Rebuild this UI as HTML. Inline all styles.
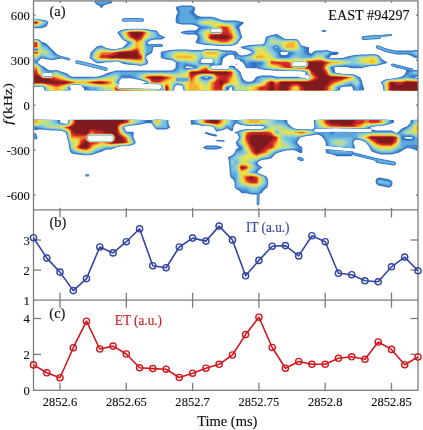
<!DOCTYPE html>
<html><head><meta charset="utf-8"><style>
html,body{margin:0;padding:0;background:#fff;width:423px;height:430px;overflow:hidden;font-family:"Liberation Serif",serif;}
svg{display:block;filter:blur(0.45px)}
</style></head><body>
<svg width="423" height="430" viewBox="0 0 423 430"><g><path fill="#326ec6" fill-rule="evenodd" d="M101.8 8.0 101.5 8.3 100.8 7.7 99.8 6.2 98.8 5.4 96.5 4.4 95.5 3.6 94.6 2.3 94.6 0.7 96.5 0.5 112.3 0.7 112.3 2.3 111.5 3.3 106.5 4.4 104.8 5.0 103.4 6.0 101.8 8.0ZM231.5 45.7 221.5 45.9 213.2 45.5 204.2 44.7 197.5 43.6 196.5 43.3 195.8 42.7 195.7 42.3 196.5 40.0 197.7 37.7 197.7 37.3 196.5 35.0 195.4 34.7 193.5 34.5 186.5 34.4 181.5 33.3 180.8 32.7 180.8 32.3 181.5 31.7 186.5 30.6 192.5 30.6 195.8 30.2 196.5 30.0 197.5 28.7 198.8 27.7 198.6 27.3 195.2 25.5 191.8 24.4 181.5 24.4 176.5 23.3 175.7 22.3 175.7 17.7 176.4 15.3 177.4 13.3 177.7 12.3 176.4 9.7 175.7 7.7 175.8 7.3 176.5 6.7 181.5 5.6 191.5 5.6 193.5 6.4 195.0 7.3 195.2 7.7 195.1 8.7 194.7 10.7 194.1 12.3 194.2 12.7 196.8 15.3 198.5 16.1 201.5 16.7 211.5 16.7 216.5 18.1 221.5 20.0 226.5 20.6 236.5 20.6 240.5 21.4 243.6 22.3 243.9 22.7 243.2 23.8 241.5 25.0 239.2 27.3 239.2 27.7 239.8 28.7 240.2 29.7 240.7 32.7 242.2 37.0 242.2 37.7 239.8 40.3 237.5 43.8 234.8 45.0 231.5 45.7ZM142.8 21.7 132.8 21.6 123.5 21.8 122.8 21.6 122.2 21.1 121.8 20.0 122.2 18.9 122.8 18.4 123.5 18.2 132.8 18.1 142.5 18.2 143.2 18.4 143.8 18.9 144.2 20.0 143.8 21.1 142.8 21.7ZM41.5 28.3 34.2 28.3 33.9 22.7 34.2 18.8 38.2 18.9 44.8 20.2 46.5 20.6 48.0 22.0 48.3 22.7 48.2 23.1 47.3 25.0 46.5 26.2 44.2 27.4 41.5 28.3ZM141.5 65.7 132.2 65.1 125.2 64.2 121.5 63.3 120.2 62.3 116.5 61.2 111.5 62.2 105.8 62.2 103.6 62.7 101.5 63.3 96.5 63.3 95.4 62.3 90.8 58.9 89.7 57.7 89.7 57.3 90.3 54.0 90.8 52.3 96.2 47.0 96.5 46.7 98.8 46.1 101.5 45.6 103.5 46.4 105.7 47.7 111.5 49.1 116.5 48.9 121.8 47.7 122.9 47.3 127.6 42.7 127.3 42.3 124.2 40.7 122.4 39.3 120.6 37.3 117.4 32.7 117.5 32.3 118.5 31.4 120.8 30.2 123.8 29.5 127.5 29.0 131.5 28.8 141.5 28.8 146.8 29.1 151.5 30.0 156.5 30.6 157.8 31.8 158.9 33.7 159.8 34.7 160.8 35.3 164.2 36.8 165.0 37.3 165.0 37.7 163.5 38.6 161.5 39.4 156.5 39.4 151.5 40.0 148.8 41.4 147.5 42.3 147.4 42.7 148.1 43.7 148.8 44.4 150.2 44.0 161.8 44.0 162.7 44.7 163.0 45.3 162.9 46.0 162.4 46.7 161.5 47.0 153.2 47.0 153.3 47.7 153.2 48.3 152.6 51.3 152.2 52.7 151.5 53.3 148.2 55.0 146.5 56.3 146.2 57.3 146.3 58.0 146.5 58.8 147.8 61.0 148.3 62.3 148.3 62.7 147.5 63.6 146.5 64.4 144.5 65.1 141.5 65.7ZM220.3 32.3 220.8 31.9 221.2 31.4 221.3 30.3 220.8 29.5 219.8 28.9 212.2 28.9 211.2 29.5 210.7 30.3 210.7 31.0 211.0 31.7 211.5 32.2 212.2 32.5 219.5 32.5 220.3 32.3ZM325.5 31.9 324.8 32.0 322.2 31.7 321.5 31.0 321.6 30.3 321.9 30.0 322.5 29.8 325.5 30.1 325.8 30.5 326.0 31.0 325.8 31.5 325.5 31.9ZM363.8 90.3 356.5 90.5 352.8 90.3 352.8 87.7 351.5 86.2 341.5 87.0 340.2 87.7 340.2 90.3 337.5 90.4 321.5 90.6 234.8 90.5 232.1 90.3 232.1 87.7 231.5 87.0 229.0 87.7 229.0 90.3 221.5 90.6 186.2 90.5 183.3 90.3 183.2 87.3 182.5 86.3 181.5 85.4 176.5 85.0 175.4 86.0 174.5 87.3 174.4 90.3 170.8 90.5 163.5 90.5 161.8 90.3 161.8 87.7 161.5 87.0 161.3 86.0 160.8 85.0 159.8 84.3 159.2 84.2 144.5 83.9 142.0 83.7 146.5 82.8 146.7 82.7 146.7 82.3 141.5 80.4 131.5 78.3 121.5 78.3 119.8 80.3 118.5 82.3 118.7 82.7 120.2 83.3 118.8 83.7 117.9 84.7 117.6 86.0 117.9 87.0 118.8 87.9 119.8 88.2 158.8 89.0 160.2 88.7 161.1 88.0 161.2 87.7 161.2 90.3 158.2 90.6 120.8 90.6 84.0 90.3 84.0 87.7 82.2 87.2 82.0 87.0 81.7 85.7 80.8 84.9 80.2 84.7 72.5 84.7 70.8 84.8 70.2 85.2 69.7 86.0 69.6 86.7 69.7 87.3 70.6 88.3 70.7 90.3 56.5 90.6 46.5 90.5 44.0 90.3 44.3 89.0 44.0 87.7 42.8 86.8 41.5 86.2 38.8 86.7 35.8 86.7 34.2 87.2 33.9 82.3 33.9 52.3 34.1 50.3 33.9 42.7 34.1 39.3 34.2 38.9 36.5 38.9 38.5 39.4 40.3 40.3 41.5 41.7 43.6 42.3 46.5 43.8 56.0 53.3 58.2 55.0 62.5 56.3 69.2 58.1 70.1 58.7 70.2 59.3 70.0 60.0 69.5 60.4 68.8 60.5 61.2 58.6 56.2 59.4 51.5 60.0 45.8 59.3 41.5 58.3 38.5 61.0 37.5 62.3 37.6 62.7 41.5 65.6 43.3 66.3 44.8 67.2 47.2 69.2 49.0 70.0 51.5 70.6 56.5 70.0 58.8 70.6 61.5 71.7 66.5 73.3 71.5 76.7 96.5 76.7 101.5 75.6 104.2 74.6 106.5 73.3 110.8 71.9 116.5 70.6 171.5 70.6 172.4 70.3 174.2 69.3 175.6 67.7 175.7 62.7 175.4 62.3 171.5 60.0 166.5 59.4 162.5 58.6 161.5 58.3 160.7 57.3 160.7 52.7 160.8 52.3 161.5 51.7 167.2 50.5 176.5 49.6 186.5 49.6 191.5 50.0 201.5 50.0 206.5 49.1 216.5 49.1 221.5 50.0 226.5 50.6 231.5 50.6 236.2 51.6 236.9 52.0 238.1 53.7 238.8 54.4 239.8 55.0 241.5 55.6 246.5 55.0 251.5 53.1 252.0 52.7 252.0 52.3 251.5 51.7 250.9 51.3 247.5 49.7 246.5 49.4 241.5 48.3 240.8 47.7 240.8 47.3 241.5 46.7 245.5 45.8 250.5 45.1 256.5 44.6 261.8 44.5 263.4 43.7 264.5 42.7 265.6 37.7 266.5 36.7 269.5 35.5 274.5 34.5 276.5 33.8 278.7 35.3 281.5 36.7 283.2 38.1 285.5 39.0 286.5 39.3 291.5 39.1 296.5 39.3 297.5 39.7 298.9 41.0 300.4 44.0 301.5 45.6 306.5 46.7 308.6 47.3 309.0 47.7 309.0 52.3 309.5 52.8 311.5 53.8 313.5 51.6 315.2 50.9 316.5 50.6 321.5 50.6 326.5 50.0 329.2 50.7 331.5 51.7 336.5 51.7 338.6 52.3 338.9 52.7 337.9 54.0 336.5 55.0 331.5 55.0 330.5 56.3 329.2 57.3 330.0 57.7 331.5 57.9 341.5 58.0 343.3 57.7 345.5 56.9 350.5 55.8 355.5 55.1 361.5 54.6 366.5 54.6 371.5 54.3 374.5 54.5 376.5 54.6 379.1 55.7 380.5 57.0 381.5 58.8 383.7 60.3 386.5 61.7 387.2 62.3 387.2 62.7 386.5 63.3 381.5 64.4 378.5 65.3 376.5 65.7 371.5 65.9 369.8 66.2 364.7 67.3 361.5 68.3 351.5 68.3 346.5 66.9 336.5 67.1 334.9 67.3 334.1 67.7 334.8 69.7 335.2 72.3 335.9 72.7 341.5 73.8 351.5 74.1 352.5 74.2 355.2 75.0 358.5 76.4 360.0 77.3 360.7 78.3 361.6 80.3 362.3 82.3 362.9 85.7 364.0 87.7 364.0 90.3 363.8 90.3ZM367.5 39.7 363.5 40.0 362.8 39.9 362.2 39.5 361.8 39.0 361.5 38.3 361.6 37.3 362.4 36.3 363.5 36.0 371.8 35.3 379.5 35.0 390.8 33.9 391.5 34.0 392.0 34.7 391.9 35.7 391.2 36.1 381.2 37.1 380.5 38.3 379.5 38.9 367.5 39.7ZM417.8 58.3 416.5 58.3 414.8 57.8 409.8 55.3 406.8 54.4 396.5 54.4 385.5 52.0 376.8 48.6 376.4 48.3 375.9 47.7 375.8 46.7 376.1 46.0 376.5 45.6 377.2 45.3 377.8 45.3 386.5 48.6 396.2 50.7 396.5 50.6 411.5 50.6 416.5 50.0 417.8 50.0 418.0 52.7 417.8 58.3ZM276.6 48.7 277.3 47.7 277.1 47.3 276.5 46.9 275.6 47.3 275.4 47.7 276.5 48.8 276.6 48.7ZM286.5 55.0 288.8 52.7 288.1 52.3 286.5 52.1 281.5 51.7 280.4 52.3 280.4 53.0 281.5 55.0 286.5 55.0ZM252.2 81.3 254.2 79.8 255.8 77.3 256.5 76.7 261.5 75.6 271.5 75.6 276.5 76.7 297.2 76.7 307.8 79.1 308.5 79.0 309.2 78.7 309.7 78.0 309.9 77.0 309.5 76.0 308.8 75.5 305.6 74.7 305.2 74.3 305.6 72.7 305.2 72.3 301.5 71.2 286.5 71.1 275.8 70.7 264.2 69.7 259.8 69.1 256.5 68.3 246.5 68.3 245.8 67.7 243.7 63.7 241.8 61.6 241.5 61.2 240.5 61.7 239.9 60.3 238.8 59.4 234.9 59.0 234.5 57.0 233.9 55.7 232.8 54.8 231.5 54.4 228.1 55.3 223.8 57.7 223.2 58.7 222.8 59.7 222.1 64.0 221.8 64.7 221.1 65.3 212.8 65.4 211.8 65.8 211.1 66.7 211.0 67.7 211.2 68.3 211.8 69.0 212.5 69.4 227.2 69.4 228.2 69.0 228.8 68.3 229.0 67.3 228.8 66.1 231.5 65.6 234.2 65.9 234.9 66.3 235.2 67.3 235.5 67.7 238.2 69.7 240.5 72.3 242.4 77.7 243.2 79.0 244.4 80.3 246.5 81.7 251.5 81.7 252.2 81.3ZM201.5 63.0 211.8 62.9 212.5 62.6 213.1 62.0 213.4 61.3 213.4 60.7 212.9 59.7 211.8 59.1 202.2 59.1 201.2 59.6 200.6 60.7 200.8 62.5 201.5 63.0ZM106.2 71.0 87.5 66.2 76.5 63.7 75.8 63.3 75.4 62.7 75.2 62.0 75.4 61.3 76.2 60.5 76.8 60.3 77.5 60.3 88.5 62.8 106.5 67.6 107.5 68.3 107.7 69.3 107.6 70.0 107.2 70.6 106.2 71.0ZM305.1 66.3 305.8 66.0 306.4 65.3 306.7 64.0 306.5 63.3 306.1 62.7 305.5 62.2 304.8 62.0 294.2 62.0 293.5 62.2 292.9 62.7 292.4 63.7 292.3 64.7 292.6 65.3 293.2 66.0 294.2 66.4 305.1 66.3ZM236.5 65.0 236.1 64.7 235.8 63.7 236.8 63.7 237.3 64.0 236.5 65.0ZM417.8 90.6 388.8 90.6 383.3 90.3 383.1 87.0 382.2 84.5 381.5 83.3 380.8 82.7 380.8 82.3 382.7 80.7 385.2 79.6 387.2 79.2 394.3 78.3 399.4 77.3 401.5 76.7 403.5 75.5 405.1 73.7 405.6 72.7 406.2 70.3 405.6 70.0 399.2 68.3 396.5 68.3 395.5 67.3 391.8 66.3 391.4 66.0 391.0 65.3 391.2 64.3 391.8 63.7 392.8 63.5 412.5 68.6 413.3 69.3 413.5 70.3 417.8 70.0 418.0 72.7 417.8 76.7 416.5 76.7 414.4 77.3 415.3 77.7 417.8 77.8 418.1 82.7 418.1 90.3 417.8 90.6ZM187.8 68.0 191.5 67.8 192.7 67.7 193.6 67.3 191.5 66.7 186.5 66.2 185.4 67.3 185.5 67.7 186.5 68.1 187.8 68.0ZM52.0 76.3 52.6 75.7 52.8 74.7 52.4 73.7 51.5 73.1 43.8 73.0 42.8 73.4 42.2 74.3 42.2 75.0 42.4 75.7 42.8 76.2 43.5 76.5 51.2 76.6 52.0 76.3ZM207.3 78.0 208.4 77.7 207.7 77.3 206.5 77.2 205.3 77.3 204.5 77.7 206.5 78.3 207.3 78.0ZM87.5 155.3 84.2 155.2 77.5 154.5 72.8 153.7 71.5 153.3 71.1 153.0 70.2 151.7 69.4 149.3 69.0 147.3 68.5 142.3 67.0 137.7 66.5 135.0 65.7 132.7 65.3 132.3 61.5 130.7 56.5 130.4 51.5 130.4 41.5 129.4 38.2 129.6 36.5 130.0 34.2 130.0 33.9 120.0 34.2 119.8 60.2 120.0 60.2 122.3 60.6 122.7 63.2 123.4 66.5 123.9 67.8 122.9 68.3 122.3 68.3 120.0 70.5 119.8 121.5 119.8 151.5 119.9 156.5 119.8 168.4 120.0 168.4 122.3 168.6 123.7 169.2 125.7 170.1 127.3 170.0 127.7 169.0 128.3 166.5 129.4 156.5 129.4 155.2 128.2 151.5 123.3 146.5 123.3 140.2 124.6 132.5 125.6 126.5 126.1 124.5 127.2 124.1 127.7 126.5 131.7 131.5 131.7 133.6 132.3 133.9 132.7 133.6 134.3 133.4 137.3 135.8 142.3 135.5 143.0 134.5 144.0 132.8 145.0 130.5 145.6 126.5 146.1 121.5 146.2 116.5 147.2 115.0 147.7 113.5 148.6 111.5 149.4 106.5 149.4 103.8 150.4 101.5 151.7 96.5 153.3 94.1 154.3 91.5 155.0 87.5 155.3ZM258.2 205.4 257.2 205.1 256.6 204.3 256.8 195.0 256.8 194.7 256.5 194.4 251.5 194.4 246.5 193.3 241.5 193.3 239.2 190.7 238.2 190.0 236.4 189.3 235.5 188.6 234.7 187.7 234.6 182.7 234.4 181.7 233.2 179.6 230.8 177.7 230.3 176.0 229.7 172.7 229.6 167.7 228.9 161.3 228.5 159.3 227.8 157.7 228.0 157.3 228.8 156.8 231.5 155.6 233.2 154.4 234.5 152.7 235.5 150.3 236.5 148.8 238.7 147.7 238.7 147.3 237.5 146.4 236.7 145.3 235.7 142.7 235.8 142.3 236.8 141.3 237.8 139.9 238.8 138.0 238.9 137.3 238.2 135.4 237.2 134.0 236.5 133.3 234.4 132.7 234.2 132.2 234.8 131.9 236.5 131.7 239.5 130.5 244.5 129.3 246.5 129.1 251.5 128.9 261.5 128.9 263.8 127.9 264.3 127.7 264.5 127.3 263.2 126.4 261.5 125.7 256.5 125.9 246.5 125.7 240.5 124.8 238.2 124.1 236.5 123.3 235.1 124.3 234.1 125.7 233.4 127.3 233.1 130.3 232.5 131.0 231.5 131.2 229.3 129.7 226.5 128.3 225.2 129.2 223.5 129.9 218.5 131.0 216.5 131.7 215.1 130.0 214.1 127.7 213.2 127.0 211.5 126.2 206.5 126.1 201.5 125.7 198.5 125.1 196.5 124.4 193.2 124.6 191.5 125.0 190.7 122.7 190.7 120.0 211.5 119.8 236.5 119.9 260.8 119.8 287.3 120.0 287.3 122.3 287.8 123.2 289.5 125.0 292.2 127.3 294.0 128.3 296.5 129.1 301.5 128.9 304.2 129.0 311.5 129.6 313.5 128.8 314.5 127.7 314.0 122.3 314.0 120.0 314.2 120.0 322.5 119.8 351.5 119.8 381.5 119.8 394.0 120.0 394.0 122.3 393.6 122.7 389.2 124.3 382.8 125.8 375.5 126.3 371.2 127.2 370.4 127.7 371.4 128.7 372.5 129.4 374.2 130.1 376.2 130.6 391.5 130.6 393.5 131.4 395.0 132.3 396.5 132.9 397.9 132.3 401.5 128.8 403.8 127.6 406.5 126.7 408.1 125.3 410.5 122.7 410.7 120.0 416.5 119.8 417.8 119.8 418.0 120.0 417.9 147.7 417.8 148.3 416.5 148.3 417.2 148.3 417.7 149.0 417.7 150.0 417.3 150.3 416.8 150.4 410.2 148.3 406.5 148.3 404.2 149.4 401.5 151.2 398.6 152.7 395.5 153.6 391.5 154.4 381.5 154.4 377.2 153.5 373.6 152.3 371.5 151.2 370.5 149.7 369.5 147.3 366.5 143.3 365.4 142.3 361.5 140.4 356.5 139.4 355.5 139.8 354.5 140.6 353.4 142.3 354.0 145.0 355.1 147.3 355.1 147.7 354.7 148.3 354.2 148.4 327.4 146.0 325.8 145.7 325.7 145.7 325.6 142.3 324.5 140.0 323.2 138.0 322.0 136.7 320.8 135.8 319.2 135.1 316.8 134.4 316.5 134.4 311.8 135.4 306.5 135.9 301.2 137.2 300.1 137.7 298.3 140.3 297.4 142.3 297.4 142.7 298.2 144.0 299.0 145.0 300.2 145.9 301.5 146.7 302.3 147.7 302.3 152.3 301.5 153.3 299.4 152.7 297.8 151.7 295.5 150.8 293.8 150.3 291.5 150.0 286.2 150.5 283.8 151.0 276.5 153.3 274.2 155.3 271.5 158.3 267.2 159.3 261.5 160.0 257.6 162.3 257.5 162.9 258.7 164.7 259.8 165.7 261.5 166.7 262.2 167.3 262.2 167.7 261.5 168.3 260.2 169.1 259.0 170.0 258.2 171.0 257.4 172.3 257.7 172.7 261.5 174.6 264.9 175.7 266.8 177.0 267.4 177.7 268.3 182.3 267.8 185.5 267.2 187.7 266.5 188.3 265.2 189.1 264.0 190.0 263.2 191.0 262.2 192.7 261.5 193.3 259.8 193.8 259.6 194.0 259.4 204.3 259.0 205.0 258.2 205.4ZM371.0 132.0 371.7 131.0 371.7 129.7 370.8 128.8 369.8 128.7 335.2 128.2 316.2 128.7 315.5 128.8 314.8 129.1 314.4 129.7 314.2 130.3 314.3 131.0 314.6 131.7 315.2 132.1 315.8 132.3 335.2 131.8 369.8 132.3 371.0 132.0ZM216.5 136.4 215.8 136.5 210.8 135.5 205.8 134.0 205.2 133.5 205.1 132.7 205.5 132.1 206.2 132.0 211.2 133.5 216.2 134.5 216.8 135.0 217.0 135.3 216.9 136.0 216.5 136.4ZM36.2 139.4 35.2 139.5 34.2 139.0 34.2 133.0 35.2 133.1 36.0 133.7 37.4 137.0 37.3 138.3 36.8 139.0 36.2 139.4ZM111.6 140.7 112.5 140.1 113.0 139.3 113.3 138.7 113.3 137.7 113.1 137.0 112.5 136.1 111.8 135.6 110.8 135.3 90.2 135.3 89.2 135.6 88.5 136.1 87.9 137.0 87.7 137.7 87.7 138.7 88.2 139.7 89.2 140.6 90.2 140.9 110.5 140.9 111.6 140.7ZM411.6 138.7 412.6 137.7 412.4 137.3 411.5 136.9 406.5 136.9 404.5 137.3 404.3 137.7 406.5 138.8 411.6 138.7ZM224.2 141.8 216.8 141.3 216.4 141.0 216.2 140.3 216.5 139.9 217.2 139.7 224.2 140.2 224.5 140.4 224.8 141.0 224.5 141.6 224.2 141.8ZM216.5 149.4 206.5 149.4 203.8 148.2 203.0 147.7 203.0 147.3 204.5 146.4 206.5 145.6 216.5 145.6 221.5 146.7 222.2 147.3 222.2 147.7 221.5 148.3 216.5 149.4ZM394.5 165.4 393.5 165.4 377.2 163.0 376.0 162.3 375.6 161.7 375.5 161.0 375.2 160.8 353.8 155.5 353.2 155.2 352.5 154.7 351.5 156.2 336.5 156.2 335.2 155.5 333.5 154.8 326.5 153.3 325.7 152.3 325.7 149.3 326.8 149.2 353.2 151.6 353.5 151.7 353.5 152.5 354.5 152.6 376.2 158.0 394.5 161.6 395.5 162.2 396.0 163.3 395.9 164.0 395.6 164.7 395.2 165.1 394.5 165.4ZM302.8 161.0 302.2 161.2 301.5 161.2 298.1 160.0 297.3 159.0 297.3 158.3 297.5 157.6 298.2 157.0 299.2 156.8 302.9 158.0 303.5 158.7 303.7 159.7 303.5 160.4 302.8 161.0ZM88.5 176.4 86.5 176.6 85.8 176.4 85.3 175.7 85.4 174.7 86.2 174.1 88.5 174.2 89.1 174.7 89.2 175.3 89.0 176.0 88.5 176.4ZM389.5 187.4 387.8 187.4 378.5 185.4 377.5 185.0 376.2 183.7 375.6 182.3 375.6 180.7 376.1 179.3 376.8 178.5 377.8 177.9 378.8 177.6 379.8 177.5 389.5 179.6 390.5 180.0 391.3 180.7 392.1 181.7 392.4 182.7 392.5 184.0 392.2 185.1 391.5 186.1 390.5 187.0 389.5 187.4Z"/>
<path fill="#4285ce" fill-rule="evenodd" d="M101.5 7.4 100.8 6.0 99.8 5.0 98.5 4.3 96.5 3.8 95.7 3.0 95.2 2.3 95.2 0.7 111.5 0.7 111.5 2.3 110.5 2.8 105.4 4.0 103.8 4.6 102.5 5.7 101.5 7.4ZM231.5 45.4 226.5 45.6 221.5 45.6 212.5 45.1 203.5 44.1 199.8 43.4 197.0 42.7 196.7 42.3 198.0 40.3 199.0 37.7 196.6 32.7 196.6 32.3 198.2 30.0 199.5 28.7 201.2 27.7 201.0 27.3 198.7 26.3 196.2 24.8 193.8 24.1 191.5 23.8 181.5 23.8 177.8 22.9 176.5 22.3 176.5 17.7 178.0 15.3 179.0 12.7 178.2 10.0 177.5 8.7 176.7 7.7 177.5 7.2 181.5 6.2 191.5 6.2 192.8 6.8 193.7 7.3 194.0 7.7 193.2 10.0 192.5 11.3 191.7 12.3 191.7 12.7 196.5 17.5 211.5 17.5 216.5 18.8 221.5 20.5 226.5 21.2 236.5 21.2 241.0 22.3 241.3 22.7 236.7 27.3 236.8 27.7 238.4 29.0 239.2 30.3 241.4 37.3 241.3 37.7 239.6 39.7 237.5 42.9 236.8 43.5 234.5 44.6 231.5 45.4ZM143.2 21.1 142.5 21.3 133.2 21.1 123.5 21.3 122.7 21.0 122.4 20.7 122.2 20.0 122.5 19.2 122.8 18.9 123.5 18.7 132.8 18.5 142.5 18.7 143.3 19.0 143.8 19.7 143.8 20.3 143.2 21.1ZM41.8 27.4 34.2 27.6 33.9 22.7 34.2 19.0 36.5 19.0 39.8 19.5 45.8 21.0 46.5 21.2 47.3 22.0 47.7 22.7 46.5 25.0 44.3 26.3 41.8 27.4ZM220.6 32.3 221.4 31.3 221.4 30.3 220.9 29.3 219.8 28.8 212.2 28.8 211.1 29.3 210.6 30.3 210.6 31.0 210.8 31.7 211.4 32.3 212.2 32.6 219.5 32.7 220.6 32.3ZM141.5 65.4 133.5 64.7 127.2 63.9 121.5 62.6 119.5 61.8 116.5 61.0 111.5 61.9 106.5 61.8 101.5 62.6 96.5 62.5 91.2 58.5 90.4 57.7 90.3 57.3 91.0 54.0 91.7 52.3 96.5 47.5 97.5 47.2 101.5 46.2 105.5 48.0 111.5 49.4 116.5 49.2 122.5 47.9 124.2 47.3 128.8 42.7 128.6 42.3 125.2 40.8 122.8 39.0 121.6 37.7 118.3 32.7 118.3 32.3 119.2 31.7 121.2 30.6 124.5 29.7 128.2 29.2 131.5 29.0 141.5 29.0 146.8 29.4 151.5 30.5 156.5 31.2 157.6 32.3 158.3 34.0 159.2 35.2 160.2 35.8 163.2 37.0 163.7 37.3 163.7 37.7 161.5 38.8 156.5 38.8 151.5 39.5 149.5 40.4 147.8 41.4 146.7 42.3 146.6 42.7 146.7 43.0 147.5 44.4 148.8 45.4 149.5 44.7 149.8 44.5 161.5 44.5 162.0 44.7 162.4 45.0 162.5 45.3 162.4 46.0 162.0 46.3 161.5 46.5 152.5 46.5 152.0 46.7 152.7 47.7 151.6 52.3 148.5 53.8 146.5 55.0 146.1 56.3 145.8 57.3 146.0 58.3 146.5 60.0 147.7 62.3 147.6 62.7 146.5 63.8 145.5 64.2 141.5 65.4ZM325.5 31.4 324.8 31.7 322.5 31.5 322.1 31.3 321.8 30.7 322.2 30.2 322.5 30.1 325.2 30.4 325.6 30.7 325.7 31.0 325.5 31.4ZM192.5 33.7 186.5 33.8 182.0 32.7 182.0 32.3 186.5 31.2 193.2 31.4 195.2 31.8 196.3 32.3 196.3 32.7 195.5 33.1 192.5 33.7ZM365.5 39.3 363.5 39.5 362.8 39.3 362.4 39.0 362.0 38.3 362.2 37.3 362.8 36.7 363.5 36.5 371.8 35.8 378.5 35.5 390.8 34.3 391.5 34.5 391.7 35.0 391.5 35.5 391.2 35.7 380.8 36.8 380.5 37.0 380.1 38.0 379.2 38.5 372.2 38.8 365.5 39.3ZM361.2 90.3 354.0 90.3 354.0 87.7 351.5 85.0 344.8 86.1 341.5 86.5 340.5 86.9 339.4 87.3 339.0 87.7 339.0 90.3 337.8 90.4 321.5 90.6 234.8 90.5 232.8 90.3 232.8 87.7 232.6 87.3 231.5 86.5 226.5 87.7 226.5 90.3 225.8 90.4 221.5 90.6 186.2 90.5 183.6 90.3 183.6 87.3 182.7 86.0 181.5 85.0 176.5 84.5 175.1 85.7 174.1 87.3 174.0 90.3 169.5 90.5 163.5 90.5 162.1 90.3 162.0 87.3 161.6 86.7 161.2 85.2 160.5 84.5 159.8 84.2 143.7 83.7 146.5 83.1 147.1 82.7 147.2 82.3 146.5 81.8 141.5 80.0 133.5 78.1 131.5 77.4 121.5 77.4 119.5 79.8 117.8 82.3 118.0 82.7 119.3 83.3 118.8 83.5 118.2 84.0 117.6 85.0 117.5 86.3 118.0 87.3 118.8 88.1 119.8 88.4 158.8 89.2 159.8 89.0 160.8 88.5 160.9 90.3 158.2 90.5 120.8 90.6 86.5 90.3 86.5 87.7 85.6 87.3 82.2 86.8 81.6 85.3 80.8 84.7 80.2 84.5 72.5 84.5 70.8 84.7 70.2 85.0 69.7 85.7 69.4 86.7 69.8 88.0 69.8 90.3 56.5 90.5 44.5 90.3 44.5 87.7 43.5 86.9 41.5 86.0 38.5 86.5 35.8 86.5 34.2 86.9 33.9 82.3 34.1 63.7 33.9 52.3 34.1 50.3 33.9 42.7 34.1 39.3 34.2 39.2 36.5 39.2 38.8 39.9 40.4 41.0 41.5 42.5 46.5 45.0 55.2 53.8 56.6 55.0 62.2 56.7 69.2 58.5 69.8 59.0 69.7 59.7 69.5 60.0 68.8 60.1 60.2 57.9 56.2 58.8 51.5 59.5 45.8 58.6 41.5 57.5 38.8 59.7 36.6 62.3 36.8 62.7 39.2 64.3 41.5 66.2 43.7 67.3 46.5 70.0 48.5 70.7 51.5 71.2 56.5 70.5 57.8 70.9 59.8 71.6 61.5 72.5 66.5 74.2 71.5 77.4 96.5 77.4 101.5 76.2 104.2 75.3 106.5 74.2 111.2 72.6 116.5 71.2 171.5 71.2 173.5 70.7 175.2 69.7 176.0 68.7 176.4 67.7 176.5 62.7 176.2 62.3 171.5 59.5 165.2 58.5 162.0 57.7 161.5 57.3 161.5 52.7 162.0 52.3 164.2 51.7 169.2 50.8 176.5 50.0 186.5 50.0 191.5 50.5 201.5 50.5 203.8 49.8 206.5 49.4 216.5 49.4 219.2 49.8 221.5 50.5 226.5 51.2 231.5 51.2 235.2 52.1 236.5 52.6 237.2 54.0 238.2 55.0 239.4 55.7 241.2 56.2 246.5 55.5 251.5 53.8 252.6 52.7 252.7 52.3 251.5 50.8 250.2 50.2 246.5 48.8 242.0 47.7 242.0 47.3 245.8 46.4 250.5 45.6 256.5 45.0 261.5 45.0 262.5 44.7 264.2 43.8 265.2 42.7 266.2 38.3 266.4 37.7 266.8 37.3 268.8 36.3 271.5 35.5 276.5 35.0 278.7 36.3 281.5 37.5 283.2 38.7 285.5 39.4 286.5 39.6 291.5 39.4 296.5 39.6 297.2 40.0 298.1 40.7 298.8 41.5 300.3 44.7 301.5 46.2 305.2 47.1 306.5 47.7 306.5 52.3 306.7 52.7 308.6 54.0 311.5 55.0 314.2 52.3 315.2 51.7 316.2 51.3 321.5 51.2 326.5 50.5 329.8 51.6 331.2 52.3 331.4 52.7 330.5 54.2 329.5 55.4 328.2 56.5 326.8 57.3 327.5 57.7 331.5 58.3 341.5 58.5 344.8 58.0 348.8 56.8 352.2 56.1 361.5 55.0 366.5 55.0 371.5 54.6 376.5 55.0 378.6 56.0 380.1 57.3 381.5 60.0 383.5 61.3 386.0 62.3 386.0 62.7 381.5 63.8 379.5 64.6 376.8 65.3 369.8 65.8 363.8 66.9 361.5 67.5 351.5 67.5 349.2 66.7 346.5 66.2 336.5 66.7 332.4 67.3 331.7 67.7 333.0 69.7 334.0 72.3 334.6 72.7 341.5 74.0 351.5 74.4 354.8 75.3 358.7 77.3 359.2 77.7 360.2 79.3 361.4 82.3 361.5 90.3 361.2 90.3ZM417.8 57.5 416.5 57.5 411.2 54.8 408.2 54.0 406.5 53.8 395.8 53.8 385.8 51.6 376.8 48.1 376.3 47.3 376.3 46.7 376.8 45.9 377.8 45.8 386.5 49.1 396.2 51.2 411.5 51.2 416.5 50.5 417.8 50.5 418.0 52.7 417.8 57.5ZM277.3 49.7 277.8 49.0 278.1 47.7 277.5 46.9 276.5 46.2 274.3 47.3 274.1 47.7 274.4 48.0 276.5 50.0 277.3 49.7ZM286.7 57.3 291.3 52.7 290.6 52.3 283.6 51.3 281.5 50.8 280.2 51.1 279.4 51.7 279.0 52.7 279.4 54.0 280.3 56.0 281.3 57.3 286.7 57.3ZM252.0 82.3 253.5 81.6 254.8 80.5 255.7 79.3 256.5 77.6 258.2 77.0 261.5 76.2 271.5 76.2 276.5 77.5 299.5 77.4 307.8 79.3 308.8 79.1 309.4 78.7 309.9 78.0 310.0 77.0 309.8 76.3 309.2 75.5 306.5 74.7 306.5 72.7 306.1 72.3 301.5 71.0 286.5 70.8 274.5 70.2 264.8 69.3 258.2 68.0 257.0 67.7 256.5 67.3 256.5 62.7 251.5 62.7 251.5 67.3 246.5 67.4 244.8 63.8 243.8 62.3 242.7 61.0 241.5 60.0 240.2 60.4 238.8 59.3 235.6 59.0 235.0 55.7 234.6 54.7 233.8 54.1 232.5 53.8 231.2 53.8 227.8 54.5 221.8 57.3 221.5 57.7 221.4 62.7 220.5 63.9 219.2 64.9 217.5 65.2 212.8 65.1 212.2 65.3 211.5 65.3 210.9 67.0 210.9 68.0 211.6 69.0 212.8 69.6 227.2 69.6 228.2 69.2 228.7 68.7 229.1 68.0 229.2 66.8 231.5 66.2 232.8 66.6 237.1 69.7 239.7 72.3 242.0 78.7 242.8 80.0 243.8 81.1 245.2 82.0 246.5 82.5 251.5 82.5 252.0 82.3ZM206.5 63.3 211.5 63.3 212.5 62.8 213.1 62.3 213.4 61.7 213.5 60.7 213.3 60.0 212.7 59.3 211.8 59.0 202.5 58.9 201.5 59.2 200.7 60.0 200.3 61.7 199.9 62.3 200.0 62.7 200.5 63.1 201.5 63.5 206.5 63.3ZM106.5 70.5 105.5 70.5 87.8 65.8 76.8 63.3 76.2 63.0 75.9 62.7 75.7 61.7 76.2 61.0 77.2 60.7 88.5 63.3 106.2 68.0 106.9 68.3 107.3 69.0 107.1 70.0 106.5 70.5ZM305.5 66.3 306.6 65.3 306.8 64.0 306.7 63.3 306.2 62.5 305.5 62.1 304.8 61.9 294.2 61.9 293.5 62.1 292.8 62.5 292.2 63.7 292.2 64.7 292.5 65.4 293.2 66.1 294.2 66.5 304.5 66.6 305.5 66.3ZM211.5 63.3 211.5 63.7 211.5 63.3ZM211.5 63.7 211.5 64.0 211.5 63.7ZM211.5 64.0 211.5 64.3 211.5 64.0ZM412.5 70.9 411.8 71.0 404.8 69.3 392.2 65.9 391.6 65.3 391.6 64.7 392.2 64.1 392.8 64.1 412.2 69.0 412.7 69.3 413.0 70.0 412.5 70.9ZM211.5 64.3 211.5 64.7 211.5 64.3ZM211.5 64.7 211.5 65.0 211.5 64.7ZM186.9 68.7 195.3 67.7 196.2 67.3 192.2 66.0 186.5 65.0 185.1 66.0 184.1 67.3 184.2 67.7 185.2 68.2 186.5 68.8 186.9 68.7ZM211.5 65.0 211.5 65.3 211.5 65.0ZM417.8 90.6 390.5 90.6 383.6 90.3 383.6 87.3 382.9 85.0 381.6 82.7 381.6 82.3 382.5 81.4 383.5 80.8 386.5 79.6 394.1 78.7 402.2 77.3 403.5 76.6 404.7 75.7 405.7 74.3 406.5 72.5 407.8 71.8 411.8 71.0 416.5 70.5 417.8 70.5 418.0 72.7 417.8 75.8 416.5 75.8 414.2 76.2 412.8 76.7 411.7 77.3 413.5 77.8 417.8 78.1 418.1 82.7 418.1 90.3 417.8 90.6ZM51.6 76.7 52.5 76.0 52.9 75.3 53.0 74.7 52.5 73.5 51.5 72.9 43.8 72.9 42.7 73.3 42.1 74.3 42.1 75.0 42.2 75.7 42.8 76.3 43.5 76.7 51.6 76.7ZM206.8 79.0 208.5 78.3 210.7 77.7 210.3 77.3 206.5 76.9 202.7 77.3 202.0 77.7 206.5 79.2 206.8 79.0ZM89.8 154.7 86.5 155.0 81.5 154.5 75.8 153.6 71.5 152.5 70.4 150.3 69.5 147.7 69.0 142.7 67.4 137.7 66.5 132.6 64.8 131.7 61.5 130.4 56.5 130.0 51.5 130.0 48.8 129.8 38.8 128.5 37.5 128.1 36.5 127.6 34.2 127.6 34.0 120.0 34.2 119.8 59.0 120.0 59.0 122.3 59.3 122.7 61.8 123.6 66.5 124.2 68.5 122.7 68.6 122.3 68.6 120.0 70.2 119.9 121.5 119.8 146.5 120.0 146.5 122.3 146.0 122.7 141.8 123.7 133.8 125.0 126.5 125.8 123.7 127.3 123.6 127.7 124.3 129.0 126.5 132.5 131.5 132.6 131.9 133.0 132.4 134.7 132.8 137.7 135.2 142.3 134.8 143.0 133.5 144.1 131.5 145.0 129.2 145.5 126.5 145.8 121.5 146.0 116.8 146.8 114.6 147.3 111.5 148.8 106.5 148.8 103.8 149.7 101.5 150.8 96.5 152.5 93.8 153.8 91.5 154.5 89.8 154.7ZM166.5 128.8 156.5 128.8 153.8 125.9 151.6 122.7 151.5 120.0 156.5 119.8 167.8 120.0 167.9 123.7 168.3 125.7 168.9 127.3 168.5 127.8 166.5 128.8ZM258.5 204.8 258.2 204.9 257.5 204.8 257.1 204.0 257.2 193.6 251.5 193.8 248.2 193.0 246.5 192.4 241.5 192.4 240.8 191.0 239.8 190.0 238.5 189.3 236.5 188.8 235.4 187.7 235.2 187.3 235.2 182.7 234.8 180.7 234.3 179.7 233.6 178.7 231.4 177.3 230.5 173.7 230.2 172.3 230.2 167.7 229.5 162.7 229.0 157.7 229.8 157.0 232.6 155.7 233.8 154.7 234.8 153.3 236.5 150.0 239.4 149.0 241.3 147.7 241.0 147.3 239.2 146.4 238.2 145.5 237.3 144.3 236.6 142.7 238.5 139.8 239.5 137.3 238.5 134.7 237.8 133.7 236.7 132.7 236.8 132.3 239.7 131.0 245.2 129.6 246.5 129.4 251.5 129.2 261.5 129.2 264.2 128.1 265.0 127.7 265.1 127.3 263.5 126.1 261.5 125.4 256.5 125.6 251.5 125.6 246.5 125.4 243.5 124.9 239.2 123.8 237.2 122.9 236.5 122.3 234.8 123.3 233.8 124.4 233.2 125.8 232.4 128.7 232.1 129.3 231.5 130.0 229.3 128.7 226.5 127.5 225.0 128.7 222.8 129.6 221.5 130.0 218.6 130.3 216.5 130.8 215.5 129.6 214.5 127.6 212.5 126.4 211.5 126.0 206.5 125.8 201.5 125.4 198.7 124.7 196.5 123.8 192.8 123.2 191.8 122.8 191.5 122.3 191.5 120.0 211.5 119.8 236.5 120.0 251.5 119.8 286.5 120.0 286.5 122.3 287.3 123.7 289.9 126.3 291.8 127.7 293.2 128.4 296.5 129.4 301.5 129.2 304.2 129.3 307.2 129.4 311.5 130.0 313.2 129.6 314.2 129.0 314.3 129.3 314.1 130.7 314.2 131.3 314.8 132.1 315.8 132.4 331.5 132.2 335.2 132.0 370.2 132.4 370.8 132.3 371.5 131.8 372.2 130.3 374.2 130.9 376.5 131.2 391.5 131.2 394.6 132.7 396.5 133.2 398.7 132.7 402.0 129.7 404.2 128.4 406.5 127.5 408.5 126.0 410.1 124.3 411.4 122.7 411.5 120.0 416.5 119.9 417.8 119.9 418.0 120.0 418.0 132.3 417.8 147.4 412.8 147.4 412.6 147.7 417.2 149.1 417.4 149.3 417.4 149.7 417.2 149.9 416.8 149.9 408.5 147.4 406.5 147.4 403.7 148.7 401.5 150.0 396.8 152.3 394.8 153.0 391.5 153.8 381.5 153.8 377.8 152.9 374.8 151.9 373.0 151.0 371.5 150.0 370.1 147.3 366.2 142.3 361.5 140.0 358.8 139.5 356.5 138.8 355.2 139.2 354.2 139.8 353.5 140.6 353.0 141.7 352.8 142.3 352.9 143.3 353.9 147.7 353.8 148.0 352.8 148.1 326.5 145.7 326.4 142.3 325.3 139.7 323.5 136.7 322.6 135.7 321.5 135.0 318.5 134.1 316.5 133.8 313.2 134.7 306.5 135.6 299.5 137.3 298.9 137.7 297.8 139.3 296.8 141.6 296.6 142.7 297.3 144.3 298.3 145.7 299.5 146.6 301.5 147.7 301.5 149.7 301.2 150.0 296.5 150.0 291.5 149.5 285.2 150.2 277.2 152.3 276.3 152.7 274.5 154.0 272.9 155.7 271.5 157.5 267.2 158.6 261.5 159.5 258.8 160.9 256.7 162.3 256.6 162.7 256.7 163.0 257.8 165.1 259.2 166.4 261.0 167.3 261.0 167.7 259.5 168.4 258.2 169.5 257.3 170.7 256.6 172.3 256.8 172.7 261.5 175.0 264.5 176.1 266.2 177.2 266.6 177.7 266.8 178.3 267.7 182.3 267.3 184.7 266.5 187.4 264.6 188.3 263.3 189.3 262.3 190.7 261.5 192.4 259.1 193.3 258.9 204.0 258.5 204.8ZM315.2 128.7 314.6 128.7 315.0 128.0 315.2 127.3 314.5 122.7 314.5 120.0 331.5 119.8 381.5 119.8 391.5 120.0 391.5 122.3 390.8 122.9 388.8 123.8 385.2 124.9 382.8 125.4 381.5 125.6 376.5 125.8 372.0 126.7 369.5 127.3 369.1 127.7 369.5 128.3 368.8 128.4 334.8 128.0 315.8 128.5 315.2 128.7ZM236.5 120.0 236.5 120.3 236.5 120.0ZM236.5 120.3 236.5 120.7 236.5 120.3ZM236.5 120.7 236.5 121.0 236.5 120.7ZM236.5 121.0 236.5 121.3 236.5 121.0ZM236.5 121.3 236.5 121.7 236.5 121.3ZM236.5 121.7 236.5 122.0 236.5 121.7ZM236.5 122.0 236.5 122.3 236.5 122.0ZM314.5 129.1 314.2 129.0 314.5 128.8 314.6 129.0 314.5 129.1ZM206.5 133.2 205.8 133.0 206.2 132.9 206.6 133.0 206.5 133.2ZM207.5 133.5 206.5 133.3 207.2 133.2 207.7 133.3 207.5 133.5ZM208.5 133.8 207.6 133.7 207.8 133.5 208.8 133.7 208.5 133.8ZM35.8 138.8 34.8 138.7 34.2 137.8 34.2 133.7 34.8 133.7 35.5 134.1 36.7 137.0 36.7 138.0 36.5 138.4 35.8 138.8ZM209.8 134.2 208.8 134.0 208.8 133.8 209.9 134.0 209.8 134.2ZM210.8 134.5 209.9 134.3 210.2 134.2 211.1 134.3 210.8 134.5ZM212.5 134.8 211.0 134.7 211.2 134.5 211.8 134.5 212.7 134.7 212.5 134.8ZM214.2 135.2 212.7 135.0 212.8 134.8 213.5 134.8 214.3 135.0 214.2 135.2ZM111.1 141.0 112.0 140.7 112.8 140.0 113.3 139.0 113.5 138.0 113.2 137.0 112.6 136.0 111.8 135.5 110.8 135.2 90.2 135.2 89.2 135.5 88.4 136.0 87.9 136.7 87.6 137.7 87.7 139.0 88.2 139.9 89.0 140.7 90.2 141.0 111.1 141.0ZM215.8 135.5 214.3 135.3 214.5 135.2 215.2 135.2 215.9 135.3 215.8 135.5ZM411.5 140.0 412.9 139.0 413.9 137.7 413.7 137.3 411.5 136.2 404.8 136.4 402.8 136.8 401.7 137.3 401.7 137.7 403.0 138.7 406.2 139.9 411.5 140.0ZM221.2 140.7 219.5 140.8 217.5 140.7 219.2 140.5 221.2 140.7ZM223.8 141.1 222.1 141.0 223.8 140.9 224.1 141.0 223.8 141.1ZM216.8 148.7 206.5 148.8 204.3 147.7 204.3 147.3 206.5 146.2 216.5 146.2 221.0 147.3 221.0 147.7 216.8 148.7ZM351.5 155.0 336.5 155.0 334.5 154.3 330.2 153.5 327.0 152.7 326.5 152.3 326.5 149.7 326.8 149.4 329.2 149.5 352.9 151.7 352.6 153.0 351.5 155.0ZM394.5 164.8 393.8 164.9 377.2 162.4 376.3 161.7 376.1 160.7 375.8 160.5 353.8 155.0 353.2 154.5 353.1 153.7 353.5 153.1 354.2 153.0 376.2 158.5 394.2 162.0 395.1 162.7 395.4 163.3 395.2 164.3 394.5 164.8ZM302.5 160.6 301.8 160.7 298.5 159.6 297.9 159.0 297.9 158.0 298.5 157.4 299.2 157.3 302.5 158.4 302.8 158.7 303.2 159.3 303.1 160.0 302.5 160.6ZM88.2 176.1 86.2 176.1 85.8 175.7 85.7 175.0 86.0 174.7 86.5 174.5 88.2 174.5 88.5 174.6 88.8 175.3 88.5 176.0 88.2 176.1ZM389.2 186.4 387.8 186.4 378.2 184.2 377.2 183.4 376.6 182.3 376.5 181.3 376.8 180.1 377.8 179.0 378.5 178.7 379.5 178.5 389.8 180.8 390.6 181.3 391.2 182.1 391.5 183.0 391.5 184.0 391.1 185.0 390.6 185.7 389.2 186.4Z"/>
<path fill="#5ca7dc" fill-rule="evenodd" d="M101.5 5.0 100.8 4.3 99.8 3.7 96.5 3.1 95.9 2.3 95.9 0.7 109.0 0.7 109.0 2.3 107.5 2.9 103.2 3.7 102.2 4.3 101.5 5.0ZM231.2 45.0 226.5 45.3 221.5 45.3 213.8 44.8 204.3 43.7 200.2 42.8 199.1 42.3 199.8 40.3 200.2 37.7 197.8 32.7 197.9 32.3 199.5 30.3 201.5 28.8 206.5 28.1 208.3 27.7 208.4 27.3 206.5 26.9 201.5 26.7 198.7 25.3 196.5 23.8 195.5 23.5 191.5 23.1 181.5 23.1 179.6 22.7 179.0 22.3 179.0 17.7 179.8 15.3 180.2 12.7 179.8 10.0 179.1 7.7 179.6 7.3 181.5 6.9 191.5 6.9 192.4 7.3 192.7 7.7 191.7 9.7 191.5 10.0 189.8 11.2 189.1 12.3 189.1 12.7 190.1 14.0 191.5 15.0 193.8 17.3 195.1 19.0 196.5 20.0 198.2 19.0 201.2 18.4 206.5 18.1 211.5 18.1 216.5 19.4 221.5 21.0 226.5 21.9 236.5 21.9 238.4 22.3 238.8 22.7 236.5 25.0 235.9 27.3 236.5 28.8 237.8 30.0 238.5 31.3 240.6 37.3 240.5 37.7 238.9 39.7 237.2 42.4 236.5 43.1 234.2 44.3 231.2 45.0ZM142.8 20.8 132.8 20.7 123.5 20.9 122.8 20.6 122.6 20.0 122.8 19.4 123.5 19.1 132.8 18.9 142.5 19.1 143.2 19.4 143.4 20.0 143.2 20.6 142.8 20.8ZM38.8 27.0 34.2 27.1 34.0 22.7 34.2 19.3 36.5 19.3 39.5 19.8 45.2 21.4 46.5 21.9 47.0 22.3 47.1 22.7 46.5 23.8 44.2 25.4 41.5 26.7 38.8 27.0ZM220.2 32.7 220.8 32.3 221.4 31.7 221.6 30.3 221.1 29.3 220.5 28.9 219.8 28.6 212.2 28.6 211.5 28.9 210.9 29.3 210.4 30.3 210.5 31.3 210.8 32.0 211.5 32.5 212.2 32.8 219.5 32.8 220.2 32.7ZM142.8 64.7 141.5 65.0 130.8 63.9 121.5 62.1 119.2 61.4 116.5 60.8 111.5 61.6 106.5 61.4 101.5 62.1 96.5 61.9 91.5 58.1 90.9 57.3 91.5 55.0 92.5 52.3 96.5 48.3 98.8 47.5 101.5 46.9 103.2 47.7 105.5 48.5 111.5 49.7 116.5 49.4 122.8 48.1 125.4 47.3 130.1 42.7 129.8 42.3 126.5 41.0 125.3 40.3 123.6 39.0 122.3 37.7 119.1 32.7 119.2 32.3 119.8 31.9 121.8 30.9 125.5 29.9 129.5 29.4 131.5 29.2 141.5 29.2 146.8 29.7 149.5 30.3 151.5 31.0 156.5 31.9 157.1 32.7 157.5 34.4 158.2 35.7 159.5 36.5 161.8 37.0 162.4 37.3 162.4 37.7 161.5 38.1 156.5 38.1 151.5 39.0 148.2 40.5 146.5 41.7 146.0 42.3 145.9 42.7 146.5 45.0 147.1 45.7 148.8 46.5 151.5 46.9 152.1 47.7 151.5 50.0 150.1 51.0 149.1 52.3 146.5 53.8 146.1 54.7 145.5 57.7 146.1 60.3 147.1 62.3 147.0 62.7 145.5 63.7 142.8 64.7ZM325.2 31.3 322.5 31.1 322.3 31.0 322.2 30.7 322.5 30.5 324.9 30.7 325.3 31.0 325.2 31.3ZM192.2 33.0 186.5 33.1 184.6 32.7 184.6 32.3 186.5 31.9 191.5 31.9 193.5 32.3 193.5 32.7 192.2 33.0ZM367.5 38.7 363.5 39.0 362.8 38.7 362.5 38.0 362.8 37.3 363.5 37.0 371.8 36.3 378.5 36.0 379.2 35.8 390.8 34.6 391.2 34.7 391.4 35.0 391.2 35.3 390.8 35.4 380.2 36.5 379.9 36.7 379.8 37.5 379.2 38.0 367.5 38.7ZM358.8 90.3 355.2 90.3 355.2 87.7 355.1 87.3 351.5 83.8 344.8 85.5 341.5 86.0 338.1 87.3 337.8 87.7 337.8 90.3 337.5 90.3 321.5 90.5 234.8 90.4 233.4 90.3 233.4 87.7 232.8 86.9 231.5 86.0 226.5 87.1 226.1 87.7 226.1 90.3 225.8 90.4 221.5 90.5 186.2 90.5 184.0 90.3 183.9 87.3 183.1 86.0 181.8 84.8 181.5 84.6 176.5 84.0 175.1 85.0 173.9 86.7 173.6 87.7 173.6 90.3 167.5 90.5 163.5 90.4 162.4 90.3 162.3 87.3 161.8 86.6 161.2 85.0 160.2 84.2 159.2 83.9 146.8 83.6 146.7 83.3 147.6 82.7 147.6 82.3 146.5 81.4 141.5 79.6 134.6 77.7 133.9 77.3 132.9 76.0 131.5 75.0 121.5 75.0 120.5 77.7 118.8 79.7 117.2 82.3 117.4 82.7 118.6 83.3 117.7 84.3 117.3 85.3 117.4 86.7 118.1 87.7 118.8 88.2 119.8 88.5 158.8 89.3 160.5 88.9 160.6 90.3 158.2 90.5 120.8 90.5 89.0 90.3 89.0 87.7 88.2 87.3 82.3 86.3 81.8 85.3 80.8 84.6 80.2 84.4 72.5 84.4 70.8 84.5 69.7 85.3 69.4 86.0 69.3 87.3 69.0 87.7 69.0 90.3 56.5 90.5 45.0 90.3 45.0 87.7 44.8 87.3 43.5 86.6 41.8 85.9 41.5 85.8 37.7 86.3 34.2 86.6 34.0 82.3 34.0 51.3 34.2 50.5 37.8 50.5 38.2 50.3 38.4 49.7 38.3 49.0 37.8 48.7 34.2 48.6 34.0 47.0 34.0 42.7 34.2 39.4 36.5 39.4 38.2 40.0 39.5 40.7 40.8 42.1 41.5 43.8 46.5 46.2 52.6 52.3 54.5 54.7 55.1 55.0 62.2 57.1 69.2 58.9 69.4 59.3 69.2 59.7 68.8 59.7 58.5 56.9 57.9 57.0 58.6 57.3 58.4 57.7 51.5 59.0 45.8 58.0 41.5 56.7 38.8 58.7 36.5 61.2 35.1 61.3 34.9 62.0 35.2 63.0 36.5 63.0 38.5 64.3 41.5 66.9 42.9 67.7 44.5 69.7 46.5 71.2 51.5 71.9 56.5 71.0 58.8 71.8 61.5 73.1 65.8 74.7 70.0 77.3 71.5 77.9 86.5 78.0 96.8 77.8 102.2 76.7 106.5 75.0 114.6 72.3 116.5 71.9 171.5 71.9 173.5 71.6 174.8 71.2 175.8 70.7 178.8 67.7 179.0 67.3 179.0 62.7 178.2 62.3 176.5 62.0 171.5 59.0 166.5 58.1 164.6 57.7 164.0 57.3 164.0 52.7 164.6 52.3 169.8 51.2 176.5 50.4 186.5 50.4 191.5 51.0 201.5 51.0 203.8 50.2 206.5 49.7 216.5 49.7 219.2 50.2 221.5 51.0 226.5 51.9 231.5 51.9 233.4 52.3 233.7 52.7 232.5 53.0 226.5 53.8 221.5 56.2 220.7 57.7 220.3 61.7 220.1 62.7 218.6 64.0 216.5 65.0 214.5 64.4 213.8 64.0 213.2 63.3 213.0 63.0 213.6 61.7 213.6 60.3 212.9 59.3 211.8 58.8 201.5 58.8 200.6 59.7 199.1 62.3 199.3 63.0 200.2 63.6 201.5 64.0 206.5 63.8 208.2 64.0 209.4 64.3 210.2 64.9 210.6 65.7 210.8 66.3 210.7 67.7 211.1 68.7 211.8 69.4 212.8 69.7 227.2 69.7 227.8 69.5 228.6 69.0 229.5 67.4 231.5 66.9 231.8 67.0 235.3 69.0 238.9 72.3 241.8 80.6 243.2 82.0 245.5 83.0 246.5 83.3 251.5 83.1 254.3 82.3 255.5 81.4 256.5 80.0 258.8 77.7 261.5 76.9 271.5 76.9 276.5 78.0 300.5 77.9 301.5 77.9 307.8 79.4 308.5 79.3 309.3 79.0 309.8 78.4 310.1 77.7 310.1 76.7 309.8 76.0 308.8 75.2 307.0 74.7 306.9 72.7 306.5 72.1 304.2 71.4 301.5 70.8 286.5 70.6 276.5 70.0 269.1 69.3 263.2 68.5 259.6 67.7 259.1 67.3 260.1 66.0 261.5 65.0 262.1 64.0 262.7 62.7 261.8 62.1 251.5 61.7 249.4 62.3 247.8 64.1 246.5 65.0 245.5 63.0 244.4 61.3 243.2 60.0 241.5 58.8 239.2 59.1 236.5 58.9 236.1 58.7 235.9 57.3 236.1 56.0 236.5 55.0 237.2 55.7 238.2 56.2 241.5 56.9 246.5 56.0 250.2 54.9 251.5 54.4 253.2 52.7 253.3 52.3 252.8 51.5 251.5 50.0 248.3 48.7 244.6 47.7 244.6 47.3 248.5 46.5 252.8 45.8 256.5 45.4 261.5 45.4 263.2 45.0 264.5 44.3 265.4 43.3 265.9 42.3 266.5 40.0 267.7 37.7 268.1 37.3 271.5 36.0 276.5 36.2 278.8 37.4 281.5 38.3 282.8 39.1 285.2 39.8 286.5 40.0 291.5 39.7 296.5 40.0 296.8 40.2 297.8 40.9 298.5 41.7 300.0 45.0 301.2 46.6 301.5 46.9 303.4 47.3 304.0 47.7 304.0 52.3 304.8 53.7 306.5 55.0 309.5 55.9 311.5 56.2 315.1 52.7 316.5 51.9 321.5 51.9 326.5 51.0 329.2 51.9 329.9 52.3 330.1 52.7 328.8 54.3 326.5 56.2 325.7 57.3 326.5 57.9 331.5 58.8 336.5 58.8 341.5 59.0 343.5 58.8 346.8 58.3 349.6 57.3 353.2 56.5 361.5 55.4 366.5 55.4 371.5 55.0 376.5 55.4 378.2 56.3 379.5 57.4 381.5 61.2 383.6 62.3 383.4 62.7 381.5 63.1 379.5 64.1 376.5 65.0 369.8 65.5 361.5 66.7 356.5 66.2 351.5 66.2 346.5 65.6 336.5 66.2 331.5 67.0 331.1 67.3 330.9 67.7 331.5 70.0 332.7 72.3 333.3 72.7 337.2 73.6 341.5 74.2 351.5 74.7 354.6 75.7 357.9 77.7 359.5 80.0 360.6 82.7 360.1 85.7 359.0 87.7 359.0 90.3 358.8 90.3ZM161.8 45.9 161.5 46.0 150.2 46.0 149.8 46.0 149.5 45.7 149.5 45.3 149.8 45.0 150.2 45.0 161.5 45.0 162.0 45.3 161.8 45.9ZM288.1 57.7 289.2 57.3 293.8 52.7 293.3 52.3 292.5 52.2 284.2 50.9 280.5 49.7 279.5 49.0 279.0 47.7 278.5 47.0 276.5 45.6 274.5 46.4 273.0 47.3 272.9 47.7 274.2 49.3 277.5 52.0 277.8 52.7 278.3 55.7 278.9 57.3 281.5 57.9 286.5 57.9 288.1 57.7ZM417.8 56.2 416.5 56.2 411.5 53.8 410.2 53.5 406.5 53.1 396.5 53.1 395.8 53.3 385.8 51.1 377.2 47.7 376.8 47.3 376.8 46.7 377.2 46.3 377.8 46.3 386.2 49.5 396.5 51.9 411.5 51.9 416.5 51.0 417.8 51.0 417.8 56.2ZM57.8 56.7 57.2 56.7 57.5 56.8 57.8 56.7ZM106.5 70.0 105.8 70.2 87.8 65.4 76.8 62.9 76.2 62.3 76.2 61.7 76.8 61.1 77.5 61.2 88.2 63.6 106.2 68.4 106.8 69.0 106.8 69.7 106.5 70.0ZM304.9 66.7 306.2 66.0 306.7 65.3 307.0 64.3 306.8 63.3 306.5 62.7 305.8 62.1 305.2 61.8 294.2 61.7 292.8 62.3 292.3 63.0 292.1 63.7 292.0 64.7 292.3 65.3 292.8 66.1 293.8 66.6 304.9 66.7ZM186.6 69.3 189.5 68.7 196.5 67.9 197.1 67.3 196.5 66.2 195.8 66.0 188.8 64.5 186.5 63.8 185.2 64.2 184.0 65.0 183.3 66.0 182.8 67.3 183.2 67.9 184.2 68.6 185.5 69.1 186.6 69.3ZM412.2 70.5 404.8 68.8 392.5 65.5 392.1 65.3 392.0 65.0 392.2 64.6 392.8 64.6 412.2 69.5 412.5 70.0 412.2 70.5ZM417.8 75.0 409.2 75.0 409.0 74.7 409.0 72.7 409.8 72.2 413.2 71.5 416.5 71.0 417.8 71.0 417.8 75.0ZM52.0 76.7 52.8 75.8 53.1 74.7 52.9 74.0 52.5 73.3 51.5 72.8 43.5 72.8 42.5 73.3 42.0 74.3 42.0 75.3 42.3 76.0 42.8 76.5 43.5 76.8 51.2 76.9 52.0 76.7ZM417.8 90.5 391.5 90.5 384.0 90.3 384.0 87.3 383.2 84.7 382.2 82.7 382.3 82.3 384.0 81.0 386.5 80.0 403.0 77.7 404.3 77.3 404.8 77.0 405.8 76.1 406.5 75.0 408.8 75.0 409.0 75.3 409.0 77.3 410.1 77.7 412.5 78.0 417.8 78.4 418.1 82.7 418.1 90.3 417.8 90.5ZM207.0 79.7 209.2 78.7 211.5 78.0 211.8 77.7 211.8 77.3 211.5 77.1 206.5 76.6 201.5 77.1 201.0 77.7 201.5 78.3 206.5 80.0 207.0 79.7ZM88.8 154.3 86.5 154.6 78.5 153.5 73.8 152.4 71.5 151.2 70.0 147.7 69.4 142.3 67.8 137.7 66.9 132.7 66.5 132.1 61.5 130.0 56.5 129.6 51.5 129.6 49.8 129.4 43.5 128.5 36.8 127.0 34.2 127.0 34.0 120.0 34.2 119.8 57.8 120.0 57.8 122.3 58.6 123.0 61.5 124.0 66.5 124.4 67.7 123.7 68.9 122.7 69.0 122.3 69.0 120.0 70.2 119.9 121.5 119.8 144.0 120.0 144.0 122.3 143.4 122.7 133.2 124.7 126.5 125.6 124.8 126.3 123.2 127.3 123.1 127.7 123.9 129.3 126.1 132.7 126.5 133.0 129.8 133.6 130.7 134.0 131.3 134.7 131.7 135.7 132.2 137.7 134.5 142.3 134.5 142.7 133.2 143.8 131.5 144.6 129.5 145.1 126.5 145.6 121.5 145.8 118.5 146.2 113.5 147.3 111.5 148.1 106.5 148.1 96.5 151.7 94.8 152.7 92.8 153.6 91.5 154.0 88.8 154.3ZM166.5 128.1 156.5 128.1 154.2 125.6 152.1 122.7 152.0 120.0 156.5 119.8 167.1 120.0 167.2 123.7 167.7 127.3 167.4 127.7 166.5 128.1ZM219.8 129.7 216.5 130.0 214.8 127.3 213.2 126.4 211.5 125.8 206.5 125.6 201.5 125.0 198.5 124.1 196.5 123.1 194.5 122.7 194.0 122.3 194.0 120.0 211.5 119.8 234.0 120.0 234.0 122.3 232.8 124.0 232.1 127.7 231.5 128.8 228.2 127.1 226.5 126.7 225.2 127.9 223.5 128.9 221.5 129.6 219.8 129.7ZM258.2 204.4 257.8 204.4 257.5 204.0 257.6 193.0 251.5 193.1 250.2 192.8 248.8 192.3 246.5 190.0 241.5 190.0 240.9 189.3 240.2 188.9 238.8 188.5 236.5 188.1 236.0 187.7 235.9 187.3 235.9 182.3 235.3 179.3 234.8 178.3 233.2 176.2 231.5 175.0 230.9 172.7 230.9 167.7 230.0 162.3 230.2 158.0 230.2 157.7 230.6 157.3 233.2 156.1 234.5 155.0 235.4 153.7 236.5 151.2 238.8 150.9 240.7 150.3 241.5 150.0 241.7 149.3 242.1 147.7 242.0 147.3 241.5 146.7 240.2 145.9 239.0 145.0 238.2 144.0 237.4 142.7 239.2 139.7 240.0 137.3 239.4 135.0 238.7 133.7 237.9 132.7 238.1 132.3 242.8 130.5 246.5 129.7 251.5 129.4 261.5 129.4 264.5 128.3 265.6 127.7 265.8 127.3 265.2 126.6 264.2 125.9 261.5 125.0 256.5 125.3 251.5 125.3 246.5 125.0 241.8 124.1 238.1 122.7 237.8 122.3 237.8 120.0 251.5 119.8 284.0 120.0 284.0 122.3 284.3 122.7 286.5 123.8 288.1 125.7 290.0 127.3 293.5 129.0 296.5 129.7 301.5 129.4 304.2 129.6 307.2 129.8 311.5 130.4 313.8 130.1 314.0 131.0 314.3 131.7 314.8 132.2 315.8 132.6 329.7 132.3 329.1 132.7 329.5 133.3 330.4 134.3 331.5 135.0 332.8 134.1 333.7 133.0 333.9 132.7 333.2 132.3 335.5 132.2 370.2 132.6 371.2 132.2 372.2 131.4 376.5 131.9 391.5 131.9 393.3 132.7 396.5 133.6 398.8 133.4 399.8 133.0 401.5 131.2 402.8 130.2 407.1 128.0 409.5 126.0 412.8 122.3 412.8 120.0 417.9 120.0 418.0 129.3 417.8 145.0 406.5 145.0 405.2 145.9 404.1 147.3 403.6 147.7 394.8 152.1 391.5 153.1 381.5 153.1 378.8 152.4 375.8 151.4 373.5 150.2 371.5 148.8 370.8 147.3 367.2 142.7 366.5 142.0 361.5 139.6 358.8 139.0 356.5 138.1 354.2 138.7 353.2 139.3 352.8 140.0 352.3 141.3 352.1 142.7 352.7 147.7 351.5 147.8 330.6 146.0 328.3 145.7 327.5 141.7 326.5 140.0 324.5 135.7 324.0 135.0 323.2 134.4 320.8 133.6 316.5 133.1 312.7 134.3 305.5 135.5 298.2 137.3 297.6 137.7 296.5 140.0 295.1 141.0 294.1 142.3 294.2 142.7 296.5 145.0 297.4 146.3 298.7 147.3 298.8 147.7 298.2 148.1 296.5 148.8 291.5 149.0 284.8 149.8 276.5 151.9 274.5 153.1 272.8 154.6 271.5 156.2 270.5 156.9 267.2 158.0 261.5 159.0 258.5 160.6 255.5 162.3 255.3 162.7 256.9 165.7 257.8 166.7 258.7 167.3 258.7 167.7 257.4 168.7 255.8 170.9 254.2 172.3 255.0 172.7 256.5 172.9 261.5 175.4 263.8 176.3 265.5 177.3 266.5 180.0 267.1 182.3 266.5 185.0 266.0 185.7 264.7 187.0 262.8 188.3 261.5 190.0 259.2 192.3 258.6 192.7 258.5 204.0 258.2 204.4ZM367.8 128.4 335.2 127.9 315.8 128.4 315.7 128.3 315.8 127.3 315.0 122.7 315.0 120.0 331.5 119.8 381.5 119.8 390.2 120.0 390.2 122.3 389.9 122.7 388.2 123.5 384.8 124.6 382.2 125.2 376.5 125.6 370.4 126.7 368.2 127.3 367.8 127.7 368.0 128.3 367.8 128.4ZM35.8 138.1 35.2 138.1 34.8 137.7 34.2 136.0 34.2 134.4 34.8 134.4 35.2 134.9 36.1 137.3 36.1 137.7 35.8 138.1ZM111.6 141.0 112.5 140.5 113.2 139.7 113.5 138.7 113.6 137.7 113.2 136.7 112.8 136.0 111.8 135.3 110.8 135.0 90.2 135.0 89.2 135.3 88.2 136.0 87.8 136.7 87.4 137.7 87.5 139.0 88.1 140.0 88.8 140.7 90.2 141.2 110.5 141.2 111.6 141.0ZM412.3 141.0 413.5 140.4 414.3 139.7 415.2 137.8 415.0 137.3 411.5 135.6 404.5 135.5 402.6 135.3 401.5 135.0 401.1 137.3 401.5 140.0 403.5 140.7 406.5 141.2 411.5 141.2 412.3 141.0ZM216.8 148.1 206.5 148.1 205.6 147.7 205.6 147.3 206.5 146.9 216.5 146.9 218.4 147.3 218.4 147.7 216.8 148.1ZM351.5 153.8 336.5 153.8 331.5 153.1 329.6 152.7 329.0 152.3 329.0 150.0 331.2 149.9 351.3 151.7 352.2 152.0 352.1 152.7 351.5 153.8ZM394.5 164.1 393.8 164.3 377.2 161.8 376.8 161.5 376.7 161.0 377.0 160.3 376.8 160.2 354.2 154.6 353.6 154.3 353.5 154.0 353.8 153.5 354.2 153.5 376.2 159.0 394.2 162.5 394.8 163.3 394.8 163.7 394.5 164.1ZM302.2 160.1 298.8 159.1 298.4 158.7 298.4 158.3 298.8 157.9 299.2 157.9 302.2 158.9 302.6 159.3 302.6 159.7 302.2 160.1ZM88.2 175.7 86.5 175.7 86.1 175.3 86.5 174.9 88.2 174.9 88.4 175.3 88.2 175.7ZM389.2 185.4 388.2 185.5 378.8 183.4 378.2 183.0 377.7 182.3 377.5 181.7 377.7 180.7 378.5 179.8 379.5 179.5 389.2 181.6 390.1 182.3 390.5 183.3 390.2 184.6 389.2 185.4Z"/>
<path fill="#74bede" fill-rule="evenodd" d="M231.2 44.7 226.5 45.0 221.5 45.0 217.2 44.7 207.2 43.6 202.5 42.7 201.5 42.3 201.5 37.7 199.1 32.7 199.1 32.3 200.5 30.8 201.8 29.8 203.8 29.2 206.5 28.8 210.8 27.7 211.0 27.3 206.5 26.2 201.5 25.8 199.3 24.7 197.4 23.3 196.7 22.7 196.6 22.3 196.8 21.9 197.6 21.0 198.5 20.3 199.8 19.6 201.5 19.2 206.5 18.8 211.5 18.8 216.5 20.0 221.2 21.4 226.5 22.5 235.2 22.7 235.3 27.7 236.5 30.0 237.3 31.0 238.1 32.3 239.8 37.3 236.3 42.7 233.8 43.9 231.2 44.7ZM37.5 26.7 34.2 26.8 34.0 22.7 34.2 19.5 36.5 19.5 39.2 20.0 44.8 21.8 46.2 22.3 46.3 22.7 44.3 24.3 41.8 25.7 40.2 26.3 37.5 26.7ZM142.5 20.4 133.2 20.2 123.5 20.4 123.1 20.0 123.5 19.6 132.8 19.4 142.5 19.6 142.9 20.0 142.5 20.4ZM220.6 32.7 221.5 31.7 221.7 30.3 221.2 29.2 220.5 28.7 219.8 28.5 212.2 28.5 211.5 28.7 210.8 29.2 210.3 30.3 210.3 31.3 210.7 32.0 211.4 32.7 212.2 32.9 219.5 32.9 220.6 32.7ZM142.5 64.4 141.5 64.6 132.5 63.7 125.5 62.3 121.5 61.8 116.5 60.5 111.5 61.2 106.5 61.1 101.5 61.7 96.5 61.2 91.7 57.7 91.6 57.3 93.3 52.3 96.5 49.2 100.2 47.9 101.5 47.5 105.5 48.9 111.5 50.0 116.8 49.7 123.8 48.3 126.7 47.3 131.3 42.7 131.1 42.3 126.2 40.3 124.5 39.2 122.9 37.7 121.5 35.0 119.9 32.7 120.1 32.3 120.5 32.0 122.5 31.1 126.5 30.0 131.2 29.5 141.5 29.5 146.8 30.1 149.5 30.7 151.5 31.5 155.8 32.3 156.5 32.7 156.5 37.3 155.8 37.7 151.5 38.5 148.8 39.4 146.5 40.8 145.4 42.3 145.5 43.8 146.5 47.7 146.5 52.3 145.6 54.7 145.1 57.7 145.6 60.3 146.4 62.3 146.3 62.7 145.2 63.3 142.5 64.4ZM336.2 90.3 321.5 90.5 235.2 90.4 234.0 90.3 233.9 87.3 232.8 86.3 231.5 85.5 226.5 86.7 225.7 87.7 225.7 90.3 221.5 90.5 186.2 90.5 184.4 90.3 184.3 87.3 183.5 85.8 182.3 84.7 181.5 84.2 176.5 83.5 174.8 84.5 173.7 86.0 173.2 87.7 173.2 90.3 166.5 90.5 163.2 90.4 162.8 90.3 162.7 87.3 161.8 86.1 161.3 85.0 160.2 84.0 159.2 83.8 147.5 83.5 147.2 83.3 148.0 82.7 148.0 82.3 146.5 81.1 141.5 79.2 138.8 78.4 136.8 77.7 136.5 77.3 136.5 72.7 146.5 72.5 176.5 72.4 181.5 67.3 182.1 68.3 183.2 69.2 184.5 69.6 186.5 70.0 187.8 69.5 189.8 69.0 196.5 68.2 197.5 67.7 197.7 67.3 197.5 65.8 196.8 65.1 190.8 64.0 186.5 62.6 181.5 62.7 180.8 62.3 176.5 61.5 171.5 58.5 167.2 57.7 166.5 57.3 166.5 52.7 167.2 52.3 169.8 51.8 176.5 50.8 186.5 50.8 191.5 51.5 201.5 51.5 203.7 50.7 206.5 50.0 216.5 50.0 219.3 50.7 221.5 51.5 225.8 52.3 226.2 52.7 221.5 55.0 219.9 57.3 219.0 62.3 218.2 63.2 216.5 64.2 214.8 63.3 213.8 62.3 213.8 60.7 213.5 59.8 212.8 59.1 212.2 58.8 203.2 58.6 202.5 58.3 201.5 57.4 199.7 59.7 198.4 62.0 198.2 62.7 198.5 63.7 199.2 64.2 200.2 64.4 201.5 64.5 206.5 64.2 208.4 64.7 209.2 65.1 209.8 65.8 210.7 68.3 211.2 69.0 211.8 69.5 212.8 69.8 227.2 69.8 228.5 69.3 229.1 68.7 229.5 67.8 231.5 67.5 234.8 69.3 238.0 72.3 241.5 82.4 244.2 83.6 246.5 84.2 251.5 83.8 255.8 82.7 256.7 82.3 261.5 77.6 271.5 77.5 276.5 78.5 281.5 78.2 301.5 78.2 307.8 79.5 308.8 79.4 309.5 79.0 310.0 78.3 310.3 77.7 310.3 76.7 310.0 76.0 309.2 75.2 307.5 74.7 307.3 72.7 307.2 72.3 306.5 71.8 305.5 71.4 301.5 70.5 286.5 70.3 275.8 69.6 268.5 68.8 262.8 67.8 261.7 67.3 262.7 66.0 263.5 64.2 264.0 62.7 263.5 62.2 261.5 61.5 256.5 61.5 251.5 60.8 248.5 61.4 247.5 61.8 246.5 62.5 245.6 61.0 244.5 59.7 243.4 58.7 241.8 57.7 242.2 57.3 247.2 56.3 251.5 55.0 253.9 52.7 253.9 52.3 253.3 51.0 251.8 49.4 250.2 48.6 247.1 47.7 247.2 47.3 254.8 46.0 256.5 45.8 261.5 45.8 264.5 45.2 265.3 44.7 265.9 44.0 268.9 37.7 269.5 37.3 271.5 36.5 275.5 37.1 278.8 38.4 284.5 40.1 286.5 40.4 291.5 40.0 296.5 40.4 297.0 40.7 298.5 42.3 299.7 45.3 301.5 47.7 301.5 57.3 311.5 57.4 316.5 52.6 321.5 52.6 326.5 51.5 328.7 52.3 328.9 52.7 327.5 54.2 325.6 55.7 324.9 57.3 325.1 57.7 326.5 58.3 331.5 59.2 336.5 59.2 341.5 59.5 345.8 59.2 349.5 58.6 352.2 57.3 357.2 56.4 361.5 55.8 366.5 55.8 371.5 55.4 376.5 55.8 378.8 57.3 381.4 62.3 381.3 62.7 379.8 63.5 376.5 64.6 361.5 65.8 356.5 65.0 346.5 65.0 334.5 66.1 331.5 66.5 330.8 67.0 330.3 67.7 331.5 72.3 332.0 72.7 335.5 73.6 340.2 74.3 351.5 75.0 353.2 75.5 355.2 76.4 356.7 77.7 358.3 79.7 359.8 82.3 359.5 83.7 358.8 85.3 358.1 86.3 356.5 87.7 351.5 82.6 344.8 84.8 341.2 85.6 336.8 87.3 336.5 87.7 336.5 90.3 336.2 90.3ZM365.5 38.3 363.5 38.5 363.2 38.4 363.0 38.0 363.1 37.7 363.5 37.5 371.8 36.8 378.8 36.5 379.4 36.7 379.5 37.0 379.4 37.3 378.8 37.5 372.2 37.8 365.5 38.3ZM160.2 90.3 158.2 90.5 120.8 90.5 96.5 90.3 96.5 87.7 91.5 87.7 90.7 87.3 86.5 86.5 82.5 85.9 81.3 84.7 80.2 84.3 71.5 84.3 70.5 84.5 69.8 85.0 69.2 86.0 69.2 87.0 68.2 87.7 68.2 90.3 56.5 90.5 46.5 90.4 45.5 90.3 45.5 87.7 45.3 87.3 43.8 86.4 42.0 85.7 41.5 85.5 36.8 86.2 34.2 86.2 34.0 82.3 34.1 63.7 34.1 51.3 34.2 50.7 37.8 50.7 38.4 50.3 38.6 49.7 38.5 49.0 37.8 48.5 34.2 48.5 34.0 47.0 34.0 43.0 34.2 39.7 36.5 39.7 38.2 40.4 39.5 41.2 40.6 42.3 41.5 45.0 46.5 47.5 51.3 52.3 52.5 54.2 53.5 55.4 54.8 56.5 56.2 57.3 55.8 57.7 51.5 58.5 47.2 57.7 44.2 56.6 41.5 55.8 38.8 57.7 36.5 60.0 34.5 60.0 34.6 63.0 34.8 63.5 36.5 63.5 38.8 65.1 41.3 67.3 42.5 69.2 43.5 70.4 44.8 71.5 46.2 72.3 43.5 72.6 42.7 73.0 42.1 73.7 41.8 74.7 41.9 75.7 42.4 76.3 43.2 76.9 44.2 77.0 51.2 77.0 51.8 76.9 52.9 76.0 53.2 74.7 52.9 73.7 52.2 72.8 51.7 72.7 51.8 72.4 56.5 71.5 58.5 72.3 61.5 73.8 65.2 75.2 69.5 77.7 71.5 78.3 76.5 78.5 86.5 78.5 96.5 78.2 98.2 78.0 103.2 77.0 116.5 72.6 119.8 72.7 119.8 77.3 117.9 80.0 116.6 82.3 116.7 82.7 118.1 83.7 117.3 85.0 117.2 86.3 117.8 87.6 118.8 88.4 120.2 88.6 158.8 89.4 160.2 89.3 160.2 90.3ZM289.0 58.0 291.7 57.3 296.3 52.7 296.0 52.3 294.5 52.0 286.2 50.8 283.2 50.0 280.8 48.8 278.8 46.3 277.8 45.6 276.5 45.0 273.6 46.0 271.7 47.3 271.6 47.7 271.8 48.0 273.2 50.0 274.5 51.2 276.5 52.7 276.5 57.3 277.4 57.7 281.5 58.3 286.5 58.3 289.0 58.0ZM396.2 52.7 385.8 50.5 377.5 47.3 377.2 47.0 377.5 46.7 377.8 46.8 386.2 50.0 395.8 52.2 396.3 52.3 396.2 52.7ZM417.8 55.0 416.5 55.0 411.8 52.7 412.2 52.3 414.2 51.9 416.5 51.5 417.8 51.5 417.8 55.0ZM106.2 69.7 87.8 64.9 76.8 62.4 76.6 62.0 76.8 61.6 77.2 61.6 88.2 64.1 106.2 68.9 106.4 69.3 106.2 69.7ZM305.4 66.7 306.2 66.2 306.7 65.7 307.0 65.0 307.1 64.0 307.0 63.3 306.5 62.5 305.8 61.9 305.2 61.6 294.2 61.6 293.5 61.8 292.6 62.3 291.9 63.7 291.9 64.7 292.3 65.7 292.9 66.3 293.8 66.8 304.5 66.8 305.4 66.7ZM417.8 74.2 416.5 74.2 414.2 73.8 412.8 73.3 411.7 72.7 412.2 72.3 414.5 71.8 416.5 71.5 417.8 71.5 417.8 74.2ZM206.7 80.7 208.8 79.4 211.5 78.5 212.4 77.7 212.3 77.3 211.5 76.8 206.5 76.2 201.5 76.8 200.5 77.3 200.3 77.7 201.5 79.2 206.5 80.8 206.7 80.7ZM417.8 90.5 391.5 90.5 384.4 90.3 384.3 87.0 383.7 84.7 382.8 82.7 382.9 82.3 384.3 81.3 385.8 80.6 387.2 80.2 390.8 79.6 401.5 78.3 406.5 77.4 411.8 78.3 417.8 78.8 418.0 82.7 418.0 90.3 417.8 90.5ZM187.8 81.3 188.6 80.7 188.9 80.0 188.9 79.3 188.5 78.4 188.0 78.0 187.2 77.7 177.5 77.7 176.5 78.0 175.7 79.0 175.8 80.5 176.2 81.0 177.2 81.5 187.2 81.5 187.8 81.3ZM87.8 154.0 86.5 154.2 84.2 153.9 76.8 152.6 73.8 151.6 72.5 150.8 71.5 150.0 70.5 147.4 69.9 142.7 68.1 137.3 67.4 132.7 66.5 131.7 61.5 129.6 56.5 129.2 50.8 129.1 44.2 128.1 38.8 126.8 36.5 126.5 34.2 126.5 34.0 120.0 34.2 119.8 56.5 120.0 56.5 122.3 57.1 123.0 58.2 123.6 61.5 124.5 66.5 124.7 68.2 123.7 69.2 122.7 69.4 122.3 69.4 120.0 70.5 119.9 121.5 119.8 141.5 120.0 141.5 122.3 140.8 122.7 132.5 124.5 126.5 125.3 123.8 126.5 122.7 127.3 122.6 127.7 124.1 130.7 125.4 132.7 126.5 133.5 128.2 133.9 129.3 134.3 130.2 134.9 130.8 135.7 131.6 137.7 133.9 142.3 133.8 142.7 132.8 143.4 131.0 144.3 126.8 145.2 121.5 145.5 118.8 145.9 114.5 146.7 111.5 147.5 106.2 147.6 96.5 150.8 93.8 152.6 92.0 153.3 87.8 154.0ZM166.2 127.3 156.5 127.5 154.5 125.3 152.6 122.7 152.5 120.0 156.5 119.8 166.5 120.0 166.5 127.3 166.2 127.3ZM221.8 129.1 216.5 129.2 215.2 127.2 213.5 126.2 211.5 125.5 204.5 125.1 201.5 124.6 199.5 124.1 196.7 122.7 196.5 122.3 196.5 120.0 211.5 119.8 231.5 120.0 231.5 125.7 231.2 125.8 226.5 125.8 224.5 127.7 221.8 129.1ZM256.5 192.4 251.3 192.3 246.5 187.6 236.5 187.3 236.5 172.7 231.5 172.3 231.5 167.7 230.5 162.7 230.7 160.3 231.4 157.7 233.7 156.7 234.8 155.8 235.8 154.4 236.5 152.6 241.5 152.4 241.9 152.0 242.3 151.0 242.7 148.7 242.6 147.3 241.5 145.8 239.5 144.3 238.3 142.7 238.3 142.3 239.6 140.0 240.5 137.7 240.0 134.7 239.1 132.7 239.3 132.3 243.2 130.8 246.5 130.0 251.5 129.7 261.5 129.7 264.8 128.6 266.3 127.7 266.4 127.3 265.7 126.3 264.8 125.7 263.5 125.1 261.5 124.6 256.5 125.0 251.5 125.0 246.5 124.6 242.8 123.9 240.1 123.0 239.0 122.3 239.0 120.0 251.5 119.8 276.5 120.0 276.5 122.3 281.5 122.3 281.8 122.7 286.5 125.0 287.8 126.5 289.3 127.7 293.0 129.3 296.5 130.0 301.5 129.7 306.5 130.0 311.5 130.8 313.5 130.8 313.8 131.1 314.3 132.0 314.8 132.4 315.4 132.7 315.4 133.0 311.5 134.2 306.2 135.1 299.5 136.5 297.5 137.1 296.5 137.6 291.5 137.7 291.5 142.3 296.3 147.3 296.1 147.7 293.8 148.2 283.2 149.6 276.5 151.2 273.8 152.7 271.2 155.3 269.5 156.4 266.5 157.5 261.5 158.5 254.2 162.3 254.1 162.7 256.4 167.3 256.4 167.7 255.5 169.2 254.5 170.4 253.2 171.5 251.8 172.3 252.5 172.7 256.5 173.3 264.5 177.3 264.9 177.7 265.6 180.3 266.4 182.3 266.4 182.7 265.8 183.7 264.5 185.4 263.2 186.5 261.3 187.7 256.5 192.4ZM366.2 128.1 335.2 127.8 319.8 128.2 316.5 128.0 315.5 122.7 315.5 120.0 331.5 119.8 377.8 119.8 389.0 120.0 389.0 122.3 388.5 122.7 385.2 124.1 381.5 125.0 376.5 125.3 370.1 126.3 366.9 127.3 366.5 127.7 366.5 128.0 366.2 128.1ZM417.8 137.7 416.5 137.7 416.2 137.3 414.8 136.5 411.5 135.0 406.5 135.0 404.2 134.6 402.5 133.8 401.6 132.7 401.7 132.3 403.2 131.1 407.8 128.4 410.5 126.1 414.0 122.3 414.0 120.0 417.9 120.0 418.0 127.7 417.8 137.7ZM341.2 132.7 336.5 132.7 335.8 132.3 341.3 132.3 341.2 132.7ZM391.8 152.4 381.5 152.5 376.5 150.8 374.8 150.0 373.2 148.9 371.5 147.5 367.9 142.7 366.5 141.5 361.8 139.3 358.8 138.4 356.8 137.7 356.5 137.3 356.5 132.7 369.8 132.8 371.5 132.4 391.5 132.5 396.5 133.9 399.5 134.3 400.2 134.9 400.5 136.0 401.5 142.7 401.5 147.3 401.2 147.7 396.5 150.0 394.5 151.2 391.8 152.4ZM110.7 141.3 111.8 141.1 112.8 140.4 113.5 139.3 113.7 138.3 113.7 137.3 113.2 136.3 112.2 135.3 111.2 134.9 90.2 134.9 89.2 135.1 88.2 135.9 87.6 136.7 87.3 137.7 87.4 139.0 87.9 140.0 88.8 140.9 89.8 141.3 110.7 141.3ZM351.2 147.7 350.5 147.4 347.2 147.3 346.5 147.1 344.5 147.1 332.2 146.0 330.2 145.7 329.0 142.7 329.0 137.7 336.5 137.3 351.2 137.3 351.5 137.7 351.5 147.3 351.2 147.7ZM346.2 152.3 336.5 152.3 336.5 150.7 338.2 150.6 343.2 151.2 345.9 151.3 346.2 151.6 346.5 151.7 346.5 152.3 346.2 152.3ZM393.8 163.7 377.5 161.2 377.3 161.0 377.5 160.8 392.2 162.9 392.5 163.1 393.8 163.1 394.2 163.3 394.2 163.7 393.8 163.7ZM388.8 184.4 388.2 184.5 379.2 182.4 378.6 182.0 378.5 181.3 378.8 180.8 379.5 180.5 388.8 182.6 389.2 182.8 389.5 183.3 389.4 184.0 388.8 184.4Z"/>
<path fill="#8accd8" fill-rule="evenodd" d="M226.5 44.7 221.5 44.7 214.5 44.1 207.5 43.2 203.8 42.3 202.9 40.7 202.2 36.9 201.5 35.0 200.3 32.7 200.4 32.3 201.5 31.2 203.1 30.3 204.8 29.7 211.5 28.1 212.0 27.7 212.0 27.3 211.5 26.7 209.8 26.3 206.5 25.6 201.5 25.0 198.8 23.4 197.9 22.7 197.9 22.3 199.4 21.0 201.5 20.0 206.5 19.4 211.5 19.4 221.5 22.0 226.5 23.0 231.5 23.3 233.2 24.0 234.0 25.0 235.0 28.3 237.4 32.7 238.9 37.3 238.9 37.7 235.8 42.3 235.2 42.8 233.5 43.6 231.5 44.3 226.5 44.7ZM37.2 26.3 34.2 26.4 34.0 22.7 34.2 19.8 36.5 19.8 38.8 20.3 44.5 22.2 44.9 22.3 45.1 22.7 43.3 24.0 40.8 25.4 39.2 26.0 37.2 26.3ZM220.1 33.0 220.8 32.7 221.5 32.0 221.9 30.7 221.5 29.3 220.8 28.7 220.2 28.4 212.5 28.3 211.5 28.4 210.5 29.3 210.2 30.0 210.1 31.0 210.5 32.0 211.2 32.7 211.8 33.0 220.1 33.0ZM142.2 64.1 141.5 64.3 133.8 63.4 127.2 62.2 121.5 61.4 116.5 60.2 111.5 60.9 106.5 60.7 101.5 61.2 98.2 60.9 96.5 60.6 92.6 57.7 92.4 57.3 94.2 52.3 96.5 50.0 98.8 49.0 101.5 48.1 105.5 49.4 111.5 50.3 116.5 50.0 118.4 49.7 124.8 48.4 127.9 47.3 131.5 43.8 132.1 42.7 131.9 42.3 131.5 42.0 126.5 40.0 124.8 38.8 123.5 37.7 122.0 34.7 120.8 32.7 120.9 32.3 121.8 31.8 123.9 31.0 126.4 30.3 131.5 29.8 141.5 29.8 146.2 30.3 148.8 30.9 151.5 32.0 153.2 32.3 154.0 32.7 154.0 37.3 153.2 37.7 149.8 38.5 147.5 39.4 146.5 40.0 144.7 42.3 144.8 43.7 145.7 47.7 145.7 52.3 145.1 54.7 144.7 57.3 145.1 60.3 145.6 62.3 145.4 62.7 144.5 63.2 142.2 64.1ZM335.5 90.3 321.5 90.5 235.2 90.4 234.6 90.3 234.5 87.3 233.3 86.0 231.5 85.0 226.5 86.2 226.2 86.5 225.2 87.7 225.2 90.3 221.5 90.5 186.2 90.4 184.7 90.3 184.7 87.3 183.9 85.7 182.8 84.5 181.5 83.8 176.5 83.0 174.5 84.0 173.5 85.3 172.8 87.3 172.8 90.3 164.2 90.4 163.1 90.3 163.0 87.3 161.3 84.7 160.5 84.0 159.2 83.6 147.7 83.3 148.4 82.7 148.4 82.3 146.5 80.7 141.5 78.8 138.5 77.8 137.8 77.3 138.5 75.6 139.8 74.4 142.2 73.5 144.5 73.2 151.2 72.9 161.5 72.9 176.5 73.3 179.2 72.3 181.5 70.0 183.2 70.4 186.5 70.6 188.2 69.8 190.2 69.3 196.5 68.6 198.1 67.7 198.9 66.0 199.8 65.3 201.2 65.0 206.5 64.6 207.8 65.0 208.8 65.7 209.5 66.5 211.0 69.0 211.8 69.7 212.5 69.9 227.2 70.0 228.5 69.5 229.5 68.3 231.5 68.0 232.5 68.5 235.2 70.3 237.4 72.7 240.6 82.3 241.4 83.7 243.5 84.4 246.5 85.0 251.5 84.4 258.3 82.7 259.2 82.3 261.8 79.6 262.6 79.0 264.2 78.5 266.5 78.1 271.5 77.9 276.5 79.0 281.5 78.6 302.2 78.6 303.2 78.6 307.8 79.7 308.8 79.5 309.7 79.0 310.2 78.3 310.4 77.7 310.3 76.3 309.5 75.2 308.1 74.7 307.6 72.3 306.2 71.3 301.5 70.2 286.5 70.0 281.5 69.7 272.2 68.8 264.8 67.7 264.1 67.3 264.8 65.3 265.2 62.7 265.0 62.3 264.2 61.9 261.5 61.0 256.5 61.0 253.8 60.6 251.5 60.0 246.5 60.0 245.5 58.7 244.2 57.7 244.8 57.3 248.2 56.6 251.5 55.6 253.2 54.3 254.5 52.7 254.6 52.3 254.2 51.2 253.2 49.6 251.5 48.3 249.6 47.7 249.8 47.3 256.5 46.2 262.5 46.2 264.5 46.0 265.7 45.7 267.2 44.3 267.8 42.3 270.2 37.7 271.5 37.0 273.4 37.3 277.8 39.2 283.5 40.4 286.5 40.7 291.5 40.3 296.5 40.7 297.5 41.5 298.2 42.3 299.2 45.4 300.6 47.7 300.2 49.3 299.5 50.4 298.5 51.1 296.5 51.7 286.5 50.4 284.2 49.8 282.5 49.0 281.2 48.1 279.8 46.3 278.8 45.4 276.5 44.4 273.8 45.1 271.5 46.2 269.8 46.7 269.2 47.2 269.2 47.7 271.5 50.0 272.6 51.3 274.1 52.7 274.8 54.7 275.2 57.3 276.5 58.0 281.5 58.8 286.5 58.8 290.2 58.3 292.8 57.8 294.2 57.3 296.5 55.0 297.9 56.0 298.9 57.3 300.5 57.8 301.5 58.0 311.5 57.9 312.9 57.3 316.5 53.8 323.8 53.8 324.0 54.0 324.0 57.3 324.3 57.7 326.5 58.8 331.5 59.6 336.5 59.6 341.5 60.0 351.5 60.0 352.9 59.0 353.9 57.7 354.8 57.3 361.5 56.2 366.5 56.2 371.5 55.7 376.5 56.2 378.2 57.3 380.6 62.3 380.4 62.7 379.2 63.3 376.5 64.3 366.5 65.0 361.5 65.0 358.8 64.5 356.5 63.8 351.5 63.8 349.2 64.1 331.5 66.0 330.5 66.7 329.8 67.3 329.7 67.7 331.0 72.3 331.5 72.9 335.2 73.8 339.5 74.5 351.5 75.3 352.5 75.6 354.2 76.3 355.7 77.3 358.9 82.3 358.8 83.0 358.2 84.4 357.5 85.3 356.5 86.2 352.8 82.6 351.5 81.9 346.5 83.3 344.1 84.3 339.8 85.5 336.8 86.7 335.9 87.3 335.7 87.7 335.7 90.3 335.5 90.3ZM36.5 58.8 34.2 58.8 34.0 52.3 34.2 50.9 37.8 50.8 38.5 50.3 38.7 49.3 38.4 48.7 37.8 48.4 34.2 48.3 34.0 47.0 34.0 42.7 34.2 40.0 36.5 40.0 38.2 40.7 39.5 41.7 40.3 42.7 41.5 46.2 46.5 48.8 50.1 52.3 50.8 54.4 53.8 57.3 53.2 57.7 51.8 57.9 50.8 57.9 48.9 57.3 48.5 56.9 47.8 56.5 41.5 55.0 37.6 57.7 36.5 58.8ZM196.5 63.8 191.5 63.3 186.5 61.9 181.5 61.9 176.5 61.0 171.5 58.0 169.8 57.7 169.0 57.3 169.0 52.7 170.8 52.1 176.5 51.2 186.5 51.2 191.5 52.0 201.5 52.0 203.8 51.0 206.5 50.3 216.5 50.3 219.2 51.0 221.5 52.0 223.2 52.3 223.7 52.7 221.5 53.8 219.1 57.3 217.8 62.3 216.5 63.3 215.4 62.7 214.2 61.4 213.6 59.7 212.8 58.9 211.5 58.5 205.8 58.5 204.0 58.3 202.6 57.3 201.5 55.0 200.8 56.0 200.1 57.7 198.3 60.3 197.2 63.0 196.5 63.8ZM417.8 53.8 416.5 53.8 414.3 52.7 414.8 52.3 415.8 52.1 417.8 52.0 417.8 53.8ZM326.5 53.8 324.2 53.8 324.0 53.7 324.0 52.7 324.8 52.3 326.5 52.0 327.4 52.3 327.6 52.7 326.5 53.8ZM305.8 66.7 306.9 65.7 307.2 65.0 307.3 64.0 307.0 63.0 306.6 62.3 305.8 61.8 305.2 61.5 294.2 61.4 293.2 61.8 292.5 62.3 291.8 63.7 291.8 64.7 292.1 65.7 292.8 66.4 293.8 66.9 304.5 67.0 305.8 66.7ZM159.8 90.3 120.8 90.5 99.0 90.3 99.0 87.7 98.1 87.3 96.5 87.1 91.5 87.0 86.5 86.0 82.5 85.5 81.2 84.4 79.8 84.1 71.5 84.1 70.5 84.3 69.5 85.1 68.8 86.7 67.6 87.3 67.3 87.7 67.3 90.3 56.5 90.5 46.0 90.3 46.0 87.7 45.8 87.3 44.5 86.4 42.8 85.7 41.5 85.2 36.5 85.9 34.2 85.9 34.0 77.7 34.2 64.0 36.5 64.0 38.8 65.7 40.7 67.3 41.5 70.0 42.5 71.2 43.8 72.3 43.2 72.4 42.2 73.3 41.8 74.0 41.6 74.7 41.8 75.7 42.2 76.3 42.8 76.9 43.5 77.1 50.8 77.2 51.8 77.0 52.8 76.3 53.3 75.3 53.2 74.0 52.6 73.0 52.8 72.8 56.5 72.0 60.5 73.9 64.5 75.6 67.5 77.3 68.8 77.9 71.5 78.8 76.5 79.0 86.5 79.0 96.5 78.6 99.2 78.2 104.6 77.3 111.5 75.0 114.2 74.5 116.5 73.8 117.5 74.3 118.2 75.0 118.6 76.0 119.0 77.3 117.2 80.1 115.9 82.3 116.2 82.8 117.7 83.7 117.1 85.0 117.1 86.3 117.7 87.7 118.8 88.5 120.2 88.8 159.5 89.5 159.9 89.7 159.8 90.3ZM417.5 73.3 416.5 73.3 414.4 72.7 414.8 72.3 415.8 72.1 417.8 72.0 417.8 73.3 417.5 73.3ZM206.9 81.3 209.0 80.0 211.5 79.0 212.9 77.7 212.8 77.3 211.5 76.4 206.5 75.9 201.5 76.4 199.9 77.3 199.7 77.7 200.1 78.3 201.5 80.0 206.5 81.7 206.9 81.3ZM188.1 81.3 188.9 80.3 189.0 79.0 188.3 78.0 187.2 77.5 177.2 77.6 176.2 78.0 175.7 78.7 175.5 79.3 175.5 80.0 175.8 80.8 176.5 81.4 177.2 81.6 187.2 81.6 188.1 81.3ZM417.8 90.5 391.5 90.5 384.7 90.3 384.6 87.0 384.1 84.7 383.5 82.7 383.6 82.3 385.2 81.3 386.5 80.7 388.2 80.3 391.5 79.8 401.5 78.8 406.5 77.9 413.5 78.8 417.8 79.1 418.0 82.7 418.0 90.3 417.8 90.5ZM86.8 153.7 81.8 153.1 76.5 151.9 73.8 150.7 71.8 149.1 71.5 148.8 71.0 147.3 70.3 142.7 68.6 137.3 67.8 132.7 66.5 131.2 61.5 129.3 56.5 128.8 51.5 128.8 44.8 127.7 41.5 126.2 34.2 126.0 34.0 120.0 34.2 119.9 54.0 120.0 54.0 122.3 54.3 122.7 57.8 124.3 61.5 125.0 66.5 125.0 67.2 124.7 68.5 123.8 69.6 122.7 69.7 120.0 70.5 119.9 121.5 119.8 139.0 120.0 139.0 122.3 138.2 122.7 132.8 124.0 126.5 125.0 123.5 126.3 122.2 127.3 122.1 127.7 123.5 130.6 124.8 132.7 126.5 134.0 127.8 134.4 129.0 135.0 130.3 136.3 133.3 142.3 133.2 142.7 132.5 143.2 130.5 144.1 126.5 145.0 121.5 145.2 118.8 145.6 114.8 146.2 111.5 147.1 106.5 147.0 104.7 147.3 96.5 150.0 93.0 152.3 91.5 153.0 86.8 153.7ZM157.8 126.7 156.5 126.9 153.8 123.7 153.0 122.3 153.0 120.0 156.5 119.9 164.0 120.0 164.0 122.3 163.2 123.8 160.4 126.0 157.8 126.7ZM221.5 128.8 216.5 128.3 215.8 127.3 214.8 126.6 213.5 125.9 211.5 125.2 205.5 124.9 201.5 124.3 200.2 123.9 198.2 123.0 197.3 122.3 197.3 120.0 211.5 119.8 230.2 120.0 230.2 122.7 229.5 123.7 228.2 124.6 226.5 125.0 223.7 127.7 221.5 128.8ZM256.5 190.0 251.5 190.0 249.2 187.7 246.5 186.9 243.5 186.6 241.2 186.2 239.5 185.4 238.5 184.4 237.8 182.8 237.6 181.3 237.3 177.7 237.3 172.3 236.5 170.0 234.8 168.8 234.0 167.3 234.0 165.3 234.2 165.0 236.5 165.0 237.7 162.3 236.5 160.0 234.2 160.0 234.0 159.7 234.0 157.7 235.7 156.3 236.5 155.0 238.5 154.3 241.5 153.8 243.7 152.7 243.9 152.3 243.6 151.0 243.3 147.3 241.8 145.3 240.2 143.9 239.1 142.7 239.1 142.3 240.2 140.0 241.0 137.7 240.7 134.7 240.3 132.7 240.6 132.3 243.5 131.1 246.5 130.3 251.5 130.0 261.5 130.0 264.7 129.0 267.4 127.7 267.6 127.3 265.5 125.3 264.2 124.8 262.5 124.4 261.5 124.3 256.5 124.7 251.5 124.7 246.5 124.3 243.5 123.6 240.8 122.7 240.2 122.3 240.2 120.0 251.5 119.9 274.0 120.0 274.0 122.3 274.8 123.0 276.5 123.8 281.5 123.8 286.5 126.2 287.8 127.6 289.0 128.3 292.2 129.6 296.5 130.3 301.5 130.0 306.5 130.3 313.8 131.6 314.8 132.7 310.8 133.9 299.2 136.1 296.5 136.9 286.5 136.7 284.4 137.3 284.2 137.7 286.5 140.0 287.9 141.0 289.2 142.7 293.8 147.3 293.4 147.7 292.2 147.9 281.5 149.4 276.5 150.6 272.6 152.7 270.5 154.8 268.5 156.1 266.5 156.9 261.5 158.0 258.8 159.3 256.5 160.6 254.2 161.4 252.9 162.3 252.8 162.7 255.2 167.3 255.1 167.7 253.5 169.7 251.5 171.2 250.4 172.3 250.7 172.7 251.5 172.9 256.5 173.8 263.7 177.3 264.0 177.7 265.2 182.3 264.7 183.3 263.2 185.0 260.9 186.7 258.8 187.7 256.5 190.0ZM365.5 128.0 335.2 127.6 319.3 128.0 316.5 125.0 316.0 122.7 316.0 120.0 331.5 119.8 376.5 119.8 387.8 120.0 387.8 122.3 387.4 122.7 384.5 123.9 381.5 124.7 375.8 125.1 368.8 126.2 366.5 126.9 365.9 127.3 365.5 128.0ZM417.5 136.7 416.5 136.7 414.2 135.4 411.5 134.4 406.5 134.4 405.8 134.2 404.2 133.6 402.9 132.7 402.9 132.3 404.5 131.2 408.5 129.1 409.8 128.0 413.1 124.3 415.0 122.7 415.2 122.3 415.2 120.0 417.9 120.0 417.9 133.7 417.8 136.7 417.5 136.7ZM277.4 132.7 277.6 132.3 276.5 131.2 275.9 132.3 276.1 132.7 276.5 133.0 277.4 132.7ZM391.2 151.7 381.5 151.7 376.5 150.0 374.5 148.8 371.5 146.7 368.5 142.7 367.2 141.5 365.9 140.7 363.2 139.4 358.1 137.7 357.8 137.3 358.2 136.2 358.7 135.3 359.4 134.7 361.2 133.8 364.2 133.3 369.0 133.0 391.5 132.9 398.5 134.7 399.2 135.1 399.7 135.7 400.2 137.3 400.9 142.7 400.6 144.7 400.2 146.0 399.2 147.4 396.5 148.8 393.7 150.7 391.5 151.7 391.2 151.7ZM111.5 141.3 112.5 140.8 113.3 140.0 113.8 139.0 113.9 138.0 113.7 137.0 113.2 136.0 112.2 135.2 111.2 134.8 90.2 134.7 89.2 135.0 88.1 135.7 87.4 136.7 87.1 137.7 87.2 139.0 87.7 140.0 88.5 140.8 89.8 141.4 110.5 141.5 111.5 141.3ZM344.8 146.7 342.5 146.8 337.5 146.3 336.5 146.1 334.8 146.0 332.5 145.4 331.5 145.0 330.9 144.0 330.3 142.7 330.5 141.7 331.5 140.0 333.3 139.3 335.8 138.8 341.5 138.8 345.5 139.6 346.8 140.2 347.8 140.9 348.7 142.0 348.9 142.7 347.9 144.0 346.5 145.0 344.8 146.7ZM233.8 165.0 231.5 165.0 231.0 162.3 231.5 160.0 233.8 160.0 234.0 160.3 234.0 164.7 233.8 165.0Z"/>
<path fill="#a4d6bb" fill-rule="evenodd" d="M36.8 26.0 34.2 26.1 34.0 22.7 34.2 20.0 36.5 20.0 38.5 20.5 43.6 22.3 43.8 22.7 40.2 25.0 36.8 26.0ZM226.8 44.3 221.5 44.4 214.2 43.7 207.4 42.7 206.2 42.3 205.5 41.9 204.5 40.8 203.8 39.6 202.5 35.0 201.6 32.7 201.7 32.3 202.5 31.7 205.2 30.4 210.2 29.1 210.3 29.3 210.0 30.7 210.2 31.7 210.8 32.6 211.5 33.0 212.5 33.2 219.8 33.2 220.8 32.8 221.7 32.0 222.0 31.0 221.9 30.0 221.4 29.0 220.2 28.3 212.5 28.1 212.3 28.0 212.7 27.3 211.5 25.8 201.5 24.2 199.2 22.7 199.2 22.3 201.2 21.0 202.8 20.6 206.5 20.0 211.5 20.0 223.5 23.0 231.5 24.2 232.5 24.8 233.5 26.0 234.8 29.5 236.6 32.7 238.1 37.3 238.0 37.7 234.9 42.3 234.5 42.7 231.5 43.9 226.8 44.3ZM142.2 63.7 141.5 63.9 135.8 63.2 127.8 61.9 121.5 61.1 116.5 60.0 111.5 60.6 106.5 60.4 101.5 60.8 100.5 60.7 96.5 60.0 93.4 57.7 93.2 57.3 95.0 52.3 96.5 50.8 98.8 49.7 101.5 48.8 105.5 49.8 111.5 50.6 116.5 50.3 123.2 49.1 126.8 48.2 129.2 47.3 131.5 45.0 132.7 42.7 132.6 42.3 131.5 41.5 126.5 39.5 124.2 37.7 121.6 32.7 121.8 32.3 122.2 32.1 124.2 31.3 126.5 30.6 131.5 30.0 141.5 30.0 144.5 30.3 147.9 31.0 151.2 32.3 151.5 32.7 151.5 37.3 148.2 38.4 146.5 39.2 144.1 42.3 144.1 43.3 144.8 47.7 144.8 52.3 144.4 57.3 144.8 62.3 144.2 62.9 142.2 63.7ZM296.8 50.7 296.5 50.8 291.5 50.5 286.5 50.0 285.5 49.7 283.6 49.0 282.1 48.0 281.4 47.3 280.5 45.6 279.8 45.0 278.8 44.4 276.5 43.8 273.5 44.3 271.5 45.0 270.5 44.6 269.7 44.0 269.2 43.1 269.1 42.3 271.5 37.6 273.2 38.7 274.8 39.5 277.2 40.2 279.8 40.6 282.5 40.9 286.5 41.1 291.5 40.6 296.5 41.1 297.8 42.3 298.6 45.3 299.8 47.7 299.3 48.7 298.6 49.7 296.8 50.7ZM36.5 57.6 34.2 57.6 34.0 52.3 34.2 51.0 37.8 51.0 38.7 50.3 38.9 49.3 38.5 48.6 37.8 48.2 34.2 48.2 34.0 42.7 34.2 40.3 36.5 40.3 37.8 40.9 39.0 41.7 39.9 42.7 40.6 45.3 41.5 47.6 43.6 49.0 46.5 50.0 48.8 52.3 49.0 52.7 48.2 54.2 47.5 54.6 46.5 55.0 41.5 54.2 39.2 56.0 36.5 57.6ZM334.5 90.3 321.5 90.5 271.5 90.5 235.2 90.3 235.2 87.7 235.0 87.0 233.5 85.4 231.5 84.5 226.5 85.8 225.9 86.3 224.8 87.7 224.8 90.3 221.5 90.5 186.5 90.4 185.1 90.3 184.9 87.0 184.2 85.3 183.4 84.3 181.5 83.3 176.5 82.4 174.2 83.3 173.2 84.5 172.7 85.7 172.4 87.3 172.3 90.3 166.5 90.5 164.2 90.4 163.4 90.3 163.4 87.7 162.9 86.3 161.2 84.3 160.5 83.9 159.2 83.5 148.8 83.2 148.5 83.0 148.9 82.7 148.9 82.3 147.9 81.3 146.8 80.5 141.5 78.3 139.4 77.7 139.1 77.3 140.2 75.9 142.2 74.6 143.8 74.0 146.5 73.5 161.5 73.3 170.2 73.7 176.5 74.2 180.2 73.1 182.8 71.8 186.5 71.2 187.8 70.5 189.8 69.8 191.5 69.4 196.5 68.9 198.5 67.9 199.8 66.2 201.2 65.6 206.5 65.0 208.4 66.0 211.1 69.3 211.8 69.9 212.5 70.1 227.2 70.1 228.5 69.7 229.5 68.7 231.5 68.5 232.2 68.8 234.5 70.4 236.4 72.3 239.9 82.7 240.8 84.3 241.5 85.0 245.2 85.7 246.5 85.8 251.5 85.0 260.8 82.7 261.5 82.4 262.5 80.7 263.5 79.8 265.2 79.1 267.2 78.7 271.5 78.3 276.5 79.5 281.5 78.9 303.2 78.9 307.8 79.8 309.2 79.6 310.2 78.7 310.6 77.3 310.3 76.0 309.8 75.3 308.4 74.3 308.0 72.3 306.5 71.1 301.5 70.0 296.5 70.0 284.2 69.6 274.8 68.8 267.4 67.7 266.5 67.3 266.5 62.7 266.2 62.2 265.2 61.5 263.5 60.9 261.5 60.5 256.5 60.5 254.8 60.2 251.5 59.2 248.5 58.6 246.7 57.7 247.3 57.3 251.5 56.2 253.5 54.7 255.1 52.7 255.1 51.7 254.5 50.0 253.5 48.6 252.0 47.7 252.4 47.3 256.5 46.7 263.5 46.8 265.5 47.0 266.5 47.5 272.2 53.3 273.2 55.0 274.0 57.3 274.5 57.7 276.5 58.5 281.5 59.2 286.5 59.2 291.5 58.8 294.8 58.0 296.5 57.4 298.4 58.0 301.5 58.5 311.5 58.3 314.2 57.3 316.5 55.0 321.5 55.0 322.5 55.8 323.1 57.3 323.4 57.7 326.5 59.2 331.5 60.0 336.5 60.0 346.5 60.8 349.2 61.3 350.8 62.0 351.3 62.3 351.1 62.7 348.2 63.5 341.5 64.5 331.5 65.5 329.8 66.7 329.1 67.3 329.1 67.7 330.5 72.3 331.5 73.3 335.8 74.3 341.5 75.0 351.5 75.6 352.6 76.0 354.5 77.0 355.3 77.7 355.8 79.3 356.8 80.3 358.1 82.3 358.1 82.7 357.8 83.3 356.5 85.0 353.6 82.0 352.5 81.4 351.5 81.2 346.5 82.5 344.2 83.7 339.2 85.2 336.4 86.3 335.0 87.3 334.8 87.7 334.8 90.3 334.5 90.3ZM216.5 62.4 215.4 61.0 214.2 60.1 213.2 59.0 212.5 58.5 211.5 58.4 205.5 58.3 204.3 57.7 203.8 57.3 202.8 55.7 201.6 52.7 201.8 52.3 203.2 51.7 206.5 50.6 216.5 50.6 219.2 51.4 221.2 52.3 221.4 52.7 218.3 57.3 217.3 60.7 216.5 62.4ZM196.5 62.4 191.5 62.5 186.5 61.2 181.5 61.2 176.5 60.5 171.8 57.7 171.5 57.3 171.5 52.7 172.4 52.3 176.5 51.7 186.5 51.7 191.5 52.5 199.0 52.7 199.0 57.3 197.5 60.0 196.5 62.4ZM371.8 64.3 366.5 64.5 361.8 64.2 359.5 63.7 357.2 62.8 356.5 62.3 356.5 57.7 357.4 57.3 361.5 56.7 366.5 56.7 371.5 56.1 376.5 56.7 377.5 57.3 379.7 62.3 379.5 62.7 376.5 63.9 371.8 64.3ZM305.3 67.0 306.2 66.6 306.8 66.0 307.3 65.0 307.4 64.0 307.2 63.0 306.8 62.3 306.0 61.7 305.2 61.3 294.2 61.3 293.2 61.6 292.6 62.0 291.7 63.3 291.6 64.7 292.0 65.7 292.8 66.6 293.8 67.1 304.5 67.1 305.3 67.0ZM159.5 90.3 120.8 90.5 101.5 90.3 101.5 87.7 100.6 87.3 96.5 86.7 91.5 86.5 86.5 85.5 82.2 85.0 81.2 84.2 79.8 84.0 71.5 84.0 70.5 84.2 69.4 85.0 68.8 86.3 66.8 87.3 66.5 87.7 66.5 90.3 56.5 90.5 46.5 90.3 46.5 87.7 46.3 87.3 45.0 86.3 43.5 85.6 41.5 85.0 36.5 85.6 34.2 85.6 34.0 77.7 34.2 64.5 36.5 64.5 40.1 67.3 40.3 67.7 41.5 72.3 42.4 72.7 41.5 74.3 41.6 75.7 42.3 76.7 43.5 77.3 50.8 77.3 51.8 77.2 52.8 76.5 53.4 75.7 53.5 74.7 53.2 73.3 56.5 72.5 59.2 74.0 63.5 75.8 66.8 77.6 68.2 78.1 71.5 79.2 76.5 79.5 86.5 79.5 98.2 78.7 105.5 77.7 111.5 75.8 116.5 75.0 117.5 76.0 118.1 77.3 118.0 77.7 115.8 80.9 115.3 82.3 115.7 83.0 117.3 84.0 116.9 85.3 117.0 86.7 117.8 88.0 118.8 88.7 119.8 88.9 159.2 89.7 159.5 89.8 159.6 90.0 159.5 90.3ZM206.7 82.3 208.8 80.7 211.8 79.3 213.2 78.0 213.4 77.7 213.3 77.3 211.5 76.1 206.5 75.6 201.5 76.1 199.2 77.3 199.1 77.7 199.8 79.2 200.5 80.0 201.5 80.8 206.5 82.6 206.7 82.3ZM187.7 81.7 188.5 81.2 188.9 80.7 189.2 79.3 189.0 78.7 188.5 78.0 187.5 77.5 177.2 77.4 176.0 78.0 175.5 78.7 175.3 79.3 175.4 80.3 175.8 81.0 176.2 81.4 177.2 81.8 186.8 81.8 187.7 81.7ZM417.8 90.5 391.5 90.5 385.1 90.3 385.0 87.0 384.1 82.7 384.5 82.1 386.2 81.2 389.5 80.3 391.5 80.0 401.5 79.2 406.5 78.3 413.5 79.1 417.8 79.4 418.0 82.7 418.0 90.3 417.8 90.5ZM88.5 153.0 86.5 153.3 82.4 152.7 78.2 151.7 76.5 151.2 74.8 150.5 72.5 148.8 71.5 147.3 70.7 142.7 69.0 137.3 68.2 132.7 67.5 131.7 66.5 130.8 61.5 128.9 56.5 128.3 51.5 128.3 47.4 127.7 46.3 127.3 44.2 125.9 41.5 125.0 38.5 125.4 34.2 125.5 34.0 120.0 34.2 119.9 51.5 120.0 51.5 122.3 51.8 122.8 53.2 123.8 54.8 124.5 56.8 125.1 61.5 125.5 66.5 125.3 67.8 124.6 69.1 123.7 70.0 122.7 70.1 120.0 70.5 120.0 121.5 119.8 136.5 120.0 136.5 122.3 136.1 122.7 132.2 123.8 125.8 124.9 123.2 126.2 121.7 127.3 121.6 127.7 123.0 130.7 124.2 132.7 126.5 134.5 128.5 135.4 129.8 136.8 132.7 142.3 132.2 142.9 130.2 143.8 126.5 144.7 118.5 145.3 114.8 145.9 111.5 146.7 106.5 146.5 103.2 147.0 96.5 149.2 91.5 152.5 88.5 153.0ZM157.5 126.0 156.5 126.2 153.6 122.7 153.5 120.0 156.5 119.9 161.5 120.0 161.5 122.3 160.8 123.9 159.5 125.2 157.5 126.0ZM221.5 128.3 218.8 128.0 216.5 127.5 214.5 126.1 211.5 125.0 206.5 124.7 202.5 124.1 200.7 123.7 198.8 122.9 198.2 122.3 198.2 120.0 211.5 119.8 229.0 120.0 229.0 122.3 228.8 122.7 227.8 123.6 226.5 124.2 225.9 124.7 222.9 127.7 221.5 128.3ZM256.8 187.5 256.5 187.6 251.5 187.6 246.5 186.2 243.2 185.6 241.8 185.2 240.5 184.4 239.5 183.3 239.0 182.3 238.2 177.7 238.2 172.7 237.2 170.1 236.5 167.7 236.8 166.3 237.4 164.7 239.0 162.3 238.2 160.0 237.5 158.8 236.7 157.7 236.7 157.3 238.6 156.0 241.5 155.0 246.2 152.7 246.2 152.3 245.4 151.7 244.8 150.8 244.4 149.7 243.9 147.3 243.3 146.3 242.2 144.8 240.0 142.7 239.9 142.3 240.8 140.3 241.5 137.7 241.5 132.7 241.8 132.3 243.2 131.7 246.5 130.6 251.5 130.3 261.5 130.3 264.8 129.3 268.5 127.8 269.0 127.3 268.5 126.2 267.8 125.6 265.5 124.5 264.2 124.2 261.5 123.9 256.5 124.4 251.5 124.4 246.5 123.9 244.2 123.4 241.9 122.7 241.5 122.3 241.5 120.0 251.5 119.9 271.5 120.0 271.5 122.3 272.1 123.0 273.5 123.9 276.5 125.0 281.5 125.0 286.5 127.5 288.5 128.9 290.8 129.8 293.2 130.3 296.5 130.6 301.5 130.3 306.5 130.6 312.2 131.8 313.7 132.3 313.5 132.7 309.8 133.8 296.5 136.2 291.5 135.8 286.5 135.8 284.2 136.2 282.8 136.7 281.7 137.3 281.7 137.7 291.3 147.3 290.6 147.7 287.2 148.2 281.5 148.8 276.5 150.0 271.8 152.3 269.8 154.4 267.5 155.8 266.5 156.2 261.5 157.5 258.8 158.7 256.5 160.0 253.8 160.6 252.2 161.5 251.6 162.3 251.6 162.7 253.9 167.3 253.9 167.7 249.2 172.3 249.4 172.7 251.5 173.3 256.5 174.2 262.5 177.1 263.2 177.7 264.0 182.3 263.9 182.7 262.5 184.2 260.5 185.8 259.0 186.7 256.8 187.5ZM364.5 127.8 363.5 127.9 335.2 127.5 321.8 127.7 319.2 126.0 317.4 124.0 316.5 122.3 316.5 120.0 331.5 119.8 376.5 119.9 386.5 120.0 386.5 122.3 385.8 122.9 384.0 123.7 381.5 124.4 375.2 124.9 367.8 125.9 366.5 126.2 364.5 127.8ZM417.8 135.8 416.5 135.8 414.2 134.7 411.5 133.8 406.5 133.8 404.5 132.9 404.2 132.7 404.2 132.3 406.5 130.8 408.5 130.2 409.8 129.5 410.8 128.6 412.8 125.7 414.5 124.0 416.5 122.3 417.8 122.3 418.0 127.7 417.8 135.8ZM277.3 133.3 278.5 132.9 278.8 132.7 278.9 132.3 277.9 131.0 276.5 130.0 275.8 131.0 275.3 132.3 275.4 132.7 276.5 133.5 277.3 133.3ZM391.8 150.7 391.5 150.8 381.5 150.8 376.5 149.2 371.5 145.8 368.8 142.3 366.8 140.7 363.5 139.1 359.4 137.7 359.1 137.3 360.4 135.7 362.5 134.6 365.8 133.8 370.8 133.4 391.5 133.3 397.8 135.0 398.5 135.4 399.1 136.0 399.8 137.3 400.2 142.3 399.8 144.3 399.1 145.7 398.2 146.7 396.5 147.5 393.8 149.6 391.8 150.7ZM111.9 141.3 112.8 140.7 113.5 140.0 113.9 139.0 114.0 137.7 113.7 136.7 113.1 135.7 112.2 135.0 111.2 134.6 90.2 134.6 88.8 135.0 87.9 135.7 87.3 136.7 87.0 137.7 87.1 139.0 87.8 140.3 88.8 141.2 89.8 141.6 110.5 141.6 111.9 141.3ZM342.5 146.4 340.0 146.3 338.2 145.5 334.5 144.4 332.5 143.3 331.7 142.7 331.7 142.3 333.6 141.0 336.5 140.0 341.5 140.0 343.5 140.6 345.5 141.7 346.3 142.3 346.3 142.7 342.5 146.4Z"/>
<path fill="#bedc89" fill-rule="evenodd" d="M36.5 25.7 34.2 25.7 34.0 22.7 34.2 20.2 36.5 20.2 38.1 20.7 42.3 22.3 42.5 22.7 39.7 24.7 36.5 25.7ZM227.2 44.0 221.5 44.1 212.5 43.1 208.5 42.3 206.2 41.0 205.0 39.7 204.1 37.7 202.8 32.7 203.2 32.2 205.8 30.8 209.8 29.8 209.8 31.0 210.2 32.0 210.7 32.7 211.5 33.2 212.5 33.4 219.8 33.4 220.8 33.0 221.6 32.3 222.1 31.3 222.1 30.0 221.5 28.9 220.2 28.1 213.0 28.0 213.3 27.3 212.9 26.3 212.4 25.7 211.5 25.0 206.5 24.4 202.5 23.6 201.5 23.3 200.5 22.7 200.5 22.3 201.5 21.7 206.5 20.6 211.5 20.6 220.5 22.9 229.5 24.5 231.5 25.0 231.8 25.2 233.0 26.7 234.4 30.0 235.7 32.7 237.3 37.3 237.2 37.7 234.1 42.3 233.7 42.7 231.5 43.6 227.2 44.0ZM141.8 63.5 141.5 63.6 137.2 63.0 128.8 61.6 121.5 60.7 116.5 59.8 111.5 60.3 106.5 60.0 101.5 60.4 96.5 59.4 94.2 57.7 94.1 57.3 95.8 52.3 96.5 51.7 97.7 51.0 101.5 49.4 105.5 50.3 111.5 50.9 116.5 50.6 123.7 49.3 127.2 48.6 129.9 47.7 131.5 46.2 132.1 45.3 133.2 43.1 133.3 42.7 133.2 42.3 131.5 41.0 126.5 39.0 124.8 37.7 122.4 32.7 122.6 32.3 126.5 30.9 131.5 30.2 141.5 30.2 143.5 30.5 147.5 31.2 149.8 32.1 150.6 32.7 150.2 35.3 149.4 37.0 149.2 37.3 146.5 38.3 144.8 40.3 143.5 42.3 143.4 43.0 144.0 47.7 144.0 62.3 143.7 62.7 141.8 63.5ZM296.8 49.8 296.5 50.0 291.5 50.0 286.5 49.6 284.2 48.7 282.5 47.7 281.5 45.0 280.9 44.3 280.2 43.9 278.8 43.5 276.5 43.1 271.5 43.8 270.6 43.0 270.3 42.3 271.5 40.0 273.2 40.6 275.2 41.1 281.2 41.6 286.5 41.4 291.5 40.9 296.5 41.4 297.6 42.7 298.1 45.3 298.9 47.7 297.9 49.0 296.8 49.8ZM36.8 56.7 36.5 56.9 34.2 56.9 34.0 52.3 34.2 51.2 37.5 51.2 38.2 51.0 38.9 50.3 39.0 49.3 38.5 48.4 37.8 48.1 34.2 48.0 34.0 42.7 34.2 40.6 36.5 40.6 38.0 41.3 39.3 42.3 41.5 50.0 43.5 50.7 46.5 51.2 47.6 52.3 47.6 52.7 46.5 53.8 41.5 53.3 39.2 55.2 36.8 56.7ZM333.8 90.3 271.5 90.5 235.9 90.3 235.9 87.7 235.2 86.1 233.8 84.9 231.5 84.0 226.5 85.4 225.7 86.0 224.8 87.0 224.4 87.7 224.4 90.3 221.5 90.5 185.4 90.3 185.3 87.0 184.8 85.4 184.2 84.3 183.5 83.7 182.5 83.2 178.7 82.3 178.2 82.0 187.2 81.9 187.8 81.8 188.6 81.3 189.2 80.3 189.3 79.3 189.0 78.3 188.2 77.6 187.2 77.3 177.5 77.3 176.2 77.7 175.4 78.7 175.2 80.0 175.4 80.7 175.9 81.3 175.8 81.6 173.5 82.8 172.9 83.3 172.5 84.0 172.0 86.7 171.9 90.3 164.5 90.4 163.7 90.3 163.6 87.3 163.1 86.0 162.5 85.2 160.5 83.7 159.2 83.3 149.2 83.1 149.0 83.0 149.3 82.7 149.3 82.3 147.5 80.6 146.5 80.0 140.7 77.7 140.4 77.3 142.8 75.2 144.5 74.5 146.5 74.0 151.5 73.8 161.5 73.8 170.2 74.3 176.5 75.0 177.2 74.9 181.5 73.8 184.5 72.3 186.5 71.9 188.2 70.8 190.2 70.0 191.5 69.7 196.5 69.3 198.8 68.1 200.3 66.7 201.5 66.0 206.5 65.4 208.0 66.3 211.2 69.6 212.5 70.2 227.2 70.3 228.2 70.0 229.5 69.1 231.5 69.0 232.2 69.4 234.2 70.8 235.7 72.3 239.5 84.3 240.2 85.4 241.5 86.2 246.5 86.7 251.5 85.6 261.5 83.1 262.1 82.7 263.5 80.9 264.8 80.0 266.5 79.4 269.5 78.9 271.5 78.8 276.5 80.0 281.5 79.3 303.8 79.3 304.8 79.3 308.2 80.0 309.5 79.5 310.3 78.7 310.8 77.3 310.5 76.0 310.0 75.3 308.9 74.3 308.5 72.3 307.5 71.4 306.5 70.7 301.5 69.8 286.5 69.4 277.4 68.7 269.9 67.7 268.8 67.3 268.0 66.3 267.5 65.0 267.1 62.3 266.5 61.2 266.0 61.0 264.2 60.4 261.8 60.0 256.5 60.0 253.8 59.3 251.5 58.3 249.4 57.7 249.7 57.3 251.5 56.9 252.8 56.0 254.5 54.5 255.8 52.7 255.8 51.7 255.4 49.7 254.8 48.3 254.2 47.7 254.9 47.3 256.5 47.1 261.5 47.1 263.3 47.3 264.2 47.7 271.5 55.0 272.8 57.5 274.2 58.2 276.5 59.0 281.5 59.6 286.5 59.6 291.5 59.4 296.5 58.3 301.5 59.0 306.5 58.8 311.5 58.8 314.9 57.7 316.5 56.2 321.5 56.2 322.6 57.7 324.3 58.7 326.5 59.6 331.5 60.4 336.5 60.4 343.8 61.2 346.5 61.7 348.6 62.3 348.5 62.7 347.8 62.8 342.8 63.8 331.5 65.0 329.8 66.0 328.5 67.3 328.4 67.7 330.0 72.3 330.5 73.0 331.5 73.8 334.8 74.4 339.2 75.0 351.5 75.9 353.5 76.8 354.4 77.3 354.6 77.7 354.2 79.7 353.5 80.3 351.5 80.6 346.5 81.9 343.2 83.5 338.5 84.9 336.2 85.8 334.2 87.3 334.0 87.7 334.0 90.3 333.8 90.3ZM216.5 60.0 215.2 59.1 211.8 58.1 206.5 58.1 205.6 57.7 205.1 57.3 203.9 55.7 202.4 52.7 202.6 52.3 203.5 51.9 206.5 50.9 216.5 50.9 220.4 52.3 220.6 52.7 217.4 57.3 216.5 60.0ZM191.5 61.7 186.5 60.6 181.5 60.6 176.5 60.0 172.6 57.7 172.4 57.3 172.7 55.3 173.2 53.8 173.8 52.7 176.5 52.1 186.5 52.1 189.4 52.7 191.5 53.3 194.2 53.8 195.8 54.5 197.0 55.7 197.7 57.3 196.5 60.0 194.8 61.0 191.5 61.7ZM372.2 64.0 366.5 64.0 364.8 63.8 361.5 63.3 359.4 62.7 359.0 62.3 359.0 57.7 361.5 57.1 366.5 57.1 371.5 56.4 376.5 57.1 376.9 57.3 377.2 57.7 378.9 62.3 378.8 62.5 378.5 62.8 376.5 63.6 372.2 64.0ZM305.8 67.0 306.5 66.5 307.2 65.7 307.5 65.0 307.6 64.0 307.3 63.0 306.8 62.2 306.2 61.6 305.2 61.2 294.2 61.1 293.2 61.4 292.5 61.9 291.8 62.7 291.6 63.3 291.5 64.7 291.8 65.7 292.7 66.7 293.8 67.2 304.5 67.3 305.8 67.0ZM159.2 90.3 120.8 90.5 104.0 90.3 104.0 87.7 103.3 87.3 96.8 86.3 91.5 86.0 86.5 85.0 82.2 84.6 80.8 84.0 79.8 83.8 71.5 83.8 70.5 84.0 69.5 84.7 68.8 85.9 65.6 87.3 65.2 87.7 65.2 90.3 47.8 90.3 47.8 87.7 45.2 86.1 43.8 85.4 41.5 84.8 36.5 85.3 34.2 85.3 34.0 77.7 34.2 65.0 36.5 65.0 39.4 67.3 39.7 67.7 40.8 72.3 41.7 73.3 41.3 74.7 41.5 75.7 42.2 76.7 43.5 77.4 50.8 77.5 51.8 77.3 52.8 76.7 53.4 76.0 53.7 75.0 53.7 74.0 53.8 73.8 56.5 73.3 58.8 74.6 63.1 76.3 65.6 77.7 68.2 78.6 71.5 79.6 76.5 80.0 86.5 80.0 96.8 79.3 105.5 78.3 108.2 77.7 111.5 76.7 116.5 76.2 117.2 77.3 117.2 77.7 116.5 78.8 115.8 79.2 115.2 80.0 114.6 82.3 114.7 82.7 115.3 83.3 117.0 84.3 116.7 85.7 117.0 87.0 117.6 88.0 118.8 88.9 119.8 89.1 158.8 89.9 159.3 90.0 159.3 90.3 159.2 90.3ZM206.6 84.7 207.5 82.3 209.2 81.1 211.5 80.0 212.5 79.3 213.9 77.7 213.8 77.3 213.5 77.0 211.5 75.7 206.5 75.3 201.5 75.7 199.8 76.5 198.6 77.3 198.4 77.7 198.9 79.0 200.2 80.8 201.5 81.7 204.2 82.7 206.5 85.0 206.6 84.7ZM417.8 90.5 391.5 90.5 385.4 90.3 385.4 87.0 384.7 82.7 384.9 82.3 386.5 81.4 390.8 80.4 401.5 79.6 406.5 78.8 413.5 79.5 417.8 79.7 418.0 82.7 418.0 90.3 417.8 90.5ZM356.5 83.8 355.4 82.7 355.3 82.3 355.7 81.7 356.5 81.2 357.2 82.3 357.2 82.7 356.5 83.8ZM48.8 125.0 46.5 125.0 44.5 124.3 41.5 123.8 40.2 124.3 38.5 124.7 36.5 125.0 34.2 125.0 34.1 120.0 49.0 120.0 49.0 124.7 48.8 125.0ZM87.8 152.7 86.5 152.9 85.8 152.8 81.5 152.0 78.2 151.2 75.5 150.1 73.1 148.3 72.3 147.3 72.0 146.0 71.5 145.0 71.0 142.3 69.4 137.3 68.6 132.7 68.0 131.7 66.8 130.6 64.8 129.7 61.5 128.6 56.5 127.9 51.5 127.9 49.9 127.7 49.0 127.3 49.0 125.3 49.2 125.0 51.5 125.0 53.5 125.7 56.5 126.2 66.5 125.6 68.3 124.7 69.8 123.3 70.4 122.3 70.4 120.0 71.2 119.9 121.5 119.9 135.2 120.0 135.2 122.3 134.8 122.7 131.8 123.5 126.5 124.4 125.2 124.9 122.5 126.2 121.2 127.3 121.1 127.7 122.4 130.7 123.5 132.7 125.5 134.3 128.3 136.0 129.5 137.3 132.0 142.3 131.9 142.7 129.8 143.6 126.5 144.4 118.2 145.1 111.5 146.2 106.5 146.0 101.5 146.7 96.5 148.3 91.5 151.7 87.8 152.7ZM157.2 125.4 156.5 125.6 154.1 122.7 154.0 120.0 160.7 120.0 160.7 122.3 160.4 123.0 159.2 124.4 157.2 125.4ZM221.8 127.8 221.5 127.9 220.8 127.8 216.5 127.0 214.4 125.7 211.5 124.8 206.5 124.4 201.5 123.6 199.5 122.8 199.0 122.3 199.0 120.0 211.5 119.9 227.8 120.0 227.8 122.3 227.6 122.7 224.9 124.7 222.5 127.3 221.8 127.8ZM257.2 124.0 251.5 124.1 246.5 123.6 244.8 123.2 243.2 122.7 242.8 122.3 242.8 120.0 269.0 120.0 268.9 122.7 268.5 123.1 267.8 123.5 266.5 123.8 261.5 123.6 257.2 124.0ZM363.8 127.7 335.2 127.3 322.8 127.5 319.5 124.7 318.1 123.0 317.8 122.3 317.8 120.0 331.5 119.9 385.7 120.0 385.7 122.3 385.4 122.7 383.5 123.5 381.5 124.1 374.5 124.6 366.5 125.6 364.9 126.7 363.8 127.7ZM417.8 135.0 416.5 135.0 414.2 134.0 411.5 133.1 406.5 133.1 405.5 132.7 405.5 132.3 406.5 131.7 409.5 131.1 411.1 130.3 411.7 129.7 412.5 127.3 413.8 125.7 416.5 123.3 417.8 123.3 417.8 135.0ZM256.8 186.8 251.5 186.9 243.8 184.9 242.2 184.2 240.8 183.2 240.2 182.3 239.7 180.7 239.0 177.3 239.0 172.7 237.8 170.2 237.0 167.7 237.4 166.3 238.1 164.7 238.8 163.7 240.2 162.3 239.8 159.7 239.1 157.7 239.3 157.3 239.8 157.0 246.5 153.8 247.3 152.7 247.2 152.2 245.3 149.7 244.6 147.3 243.8 146.0 242.6 144.3 240.8 142.7 240.7 142.3 242.1 137.7 242.3 132.7 242.6 132.3 246.5 130.9 251.5 130.6 261.5 130.6 263.5 130.1 268.5 128.4 270.0 127.7 270.3 127.3 270.8 125.7 271.5 125.0 273.5 125.7 276.5 126.2 281.5 126.2 283.7 127.3 284.8 128.1 286.5 128.8 288.1 129.7 291.5 130.6 296.5 130.9 301.5 130.6 305.5 130.9 308.6 131.3 312.3 132.3 312.3 132.7 308.2 133.8 301.5 135.0 296.5 135.6 291.5 135.0 281.5 135.0 281.1 135.7 280.9 137.3 281.5 140.0 283.8 142.3 285.1 144.0 286.5 145.0 288.8 147.3 288.1 147.7 286.5 147.9 281.5 148.1 276.5 149.4 271.5 151.9 268.8 154.3 266.5 155.6 261.5 156.9 256.5 159.4 253.2 159.6 251.5 160.0 249.2 162.3 249.3 162.7 250.3 163.3 251.2 164.4 252.7 167.3 252.6 167.7 249.8 170.7 248.0 172.3 248.1 172.7 251.1 173.7 256.5 174.6 262.0 177.3 262.3 177.7 262.7 182.3 262.6 182.7 259.8 185.3 258.5 186.1 256.8 186.8ZM279.3 133.7 279.8 133.3 280.2 132.7 280.0 131.7 279.5 130.6 278.8 129.8 278.1 129.3 276.5 128.8 276.2 128.9 275.5 129.6 275.1 130.3 274.6 132.3 274.8 132.7 276.5 134.0 279.3 133.7ZM391.8 149.8 391.5 150.0 381.5 150.0 376.5 148.3 371.5 145.0 369.5 142.3 367.2 140.4 364.5 139.1 360.7 137.7 360.4 137.3 361.9 136.0 364.2 134.9 367.2 134.3 371.5 133.8 391.5 133.8 397.2 135.2 398.5 136.1 399.3 137.3 399.6 142.3 399.4 143.3 398.5 145.0 397.6 146.0 391.8 149.8ZM111.4 141.7 112.5 141.2 113.4 140.3 114.0 139.3 114.2 138.0 113.9 136.7 113.2 135.7 112.2 134.8 111.2 134.5 90.2 134.4 89.2 134.7 88.1 135.3 87.3 136.3 86.9 137.3 86.9 139.0 87.5 140.2 88.5 141.2 89.8 141.7 111.4 141.7ZM341.8 144.7 341.5 145.0 339.5 144.3 336.5 143.8 334.3 142.7 334.3 142.3 336.5 141.2 341.5 141.2 343.7 142.3 343.8 142.7 341.8 144.7Z"/>
<path fill="#d6e162" fill-rule="evenodd" d="M36.5 25.4 34.2 25.4 34.0 22.7 34.2 20.5 36.8 20.6 39.2 21.3 41.2 22.3 41.4 22.7 39.8 24.0 38.5 24.7 36.5 25.4ZM227.2 43.7 221.5 43.8 212.5 42.7 210.9 42.3 209.2 41.7 206.9 40.3 205.8 39.2 204.9 37.7 204.0 32.7 204.3 32.3 206.5 31.2 209.5 30.5 210.2 32.3 210.9 33.0 211.8 33.4 219.8 33.5 220.8 33.2 221.8 32.3 222.2 31.3 222.2 30.0 221.5 28.7 220.2 28.0 214.8 27.9 213.9 27.7 213.9 26.7 213.5 25.5 212.8 24.7 212.2 24.4 205.8 23.6 202.0 22.7 202.0 22.3 206.5 21.2 211.5 21.2 215.8 22.3 218.8 23.3 227.8 24.7 231.5 25.8 232.7 27.3 233.8 30.3 234.9 32.7 236.4 37.3 236.4 37.7 233.3 42.3 232.8 42.7 231.5 43.2 227.2 43.7ZM141.8 63.1 141.5 63.2 139.2 62.9 130.8 61.4 121.5 60.4 116.5 59.5 111.5 60.0 106.5 59.6 101.5 60.0 98.8 59.5 96.5 58.8 95.1 57.7 94.9 57.3 96.5 52.6 98.5 51.3 101.5 50.0 105.5 50.7 111.5 51.2 116.5 50.8 124.8 49.5 128.5 48.7 131.2 47.7 132.0 47.0 133.0 45.3 133.9 43.0 133.9 42.3 132.8 41.3 131.5 40.5 126.5 38.5 125.4 37.7 123.3 32.7 123.8 32.2 126.5 31.2 131.5 30.5 141.8 30.5 146.5 31.2 149.2 32.2 149.8 32.7 149.3 34.3 148.5 35.8 147.5 36.9 146.5 37.5 145.5 38.6 142.8 42.3 143.2 47.7 143.2 52.3 143.5 55.3 143.6 58.3 143.2 62.3 141.8 63.1ZM36.8 56.1 36.5 56.2 34.2 56.2 34.2 51.3 38.2 51.2 39.0 50.3 39.2 49.3 38.6 48.3 37.8 47.9 34.2 47.9 34.2 40.8 36.5 40.8 38.8 42.3 41.4 52.3 41.3 52.7 39.8 54.0 36.8 56.1ZM294.5 49.3 291.5 49.5 286.5 49.2 284.5 48.3 283.4 47.7 283.1 47.3 282.6 44.3 281.7 42.7 282.1 42.3 283.5 42.1 291.5 41.2 296.5 41.8 297.2 42.7 298.1 47.7 296.5 49.2 294.5 49.3ZM332.8 90.3 271.5 90.5 246.5 90.3 246.5 87.7 247.0 87.3 261.5 83.8 262.8 82.8 264.8 80.8 266.5 80.0 267.8 79.7 271.5 79.2 276.5 80.5 281.5 79.6 304.8 79.6 308.2 80.1 309.2 79.9 310.0 79.3 310.5 78.7 310.9 77.7 310.8 76.3 310.2 75.3 309.4 74.7 308.9 72.3 307.8 71.2 306.5 70.4 301.5 69.5 296.5 69.5 291.5 69.2 286.5 69.2 283.8 69.0 276.5 68.2 271.5 67.4 270.2 66.9 268.9 65.7 268.2 64.2 267.4 61.3 267.1 60.7 266.5 60.0 262.5 59.5 256.5 59.5 253.0 58.3 251.8 57.7 251.8 57.3 253.2 56.5 254.5 55.4 255.5 54.2 256.4 52.7 256.5 47.7 261.5 47.6 271.3 57.3 273.5 58.6 276.5 59.5 281.5 60.0 291.5 60.0 296.5 59.2 301.5 59.5 306.5 59.2 311.5 59.2 314.5 58.3 316.5 57.4 321.5 57.4 323.5 58.8 326.5 60.0 331.5 60.8 337.5 60.9 343.2 61.7 346.0 62.3 345.8 62.7 340.5 63.7 336.5 64.2 331.5 64.5 329.5 65.7 327.9 67.3 327.8 67.7 329.5 72.3 330.2 73.2 331.5 74.2 338.5 75.2 351.5 76.2 353.5 77.2 354.0 77.7 353.3 79.0 352.2 79.8 346.5 81.2 342.8 83.0 337.4 84.7 335.5 85.6 333.3 87.3 333.2 87.7 333.2 90.3 332.8 90.3ZM216.5 57.6 206.5 57.4 204.7 55.3 203.2 52.7 203.8 52.2 206.5 51.2 216.5 51.2 219.5 52.3 219.7 52.7 216.5 57.6ZM192.2 60.7 191.5 60.8 186.5 60.0 181.5 60.0 176.5 59.5 173.4 57.7 173.2 57.3 173.7 55.7 174.4 54.3 175.2 53.4 176.2 52.7 186.5 52.6 189.2 53.6 193.5 54.8 194.8 55.5 196.0 56.7 196.4 57.3 196.4 57.7 195.5 58.9 194.2 59.9 192.2 60.7ZM372.2 63.7 366.5 63.5 362.0 62.7 361.5 62.3 361.5 57.7 366.5 57.6 371.5 56.8 376.5 57.6 378.1 62.3 377.8 62.7 376.5 63.2 372.2 63.7ZM305.2 67.3 306.2 66.9 306.9 66.3 307.5 65.3 307.7 64.3 307.6 63.3 307.1 62.3 306.5 61.7 305.5 61.1 304.5 61.0 294.2 61.0 293.2 61.3 292.5 61.7 291.8 62.4 291.4 63.3 291.3 64.7 291.6 65.7 292.4 66.7 293.5 67.3 294.5 67.4 305.2 67.3ZM158.8 90.3 120.8 90.5 111.5 90.3 111.5 87.7 106.5 87.7 105.5 87.2 102.8 86.7 96.5 85.8 91.5 85.5 86.5 84.5 81.8 84.2 80.8 83.8 79.8 83.7 71.5 83.7 70.5 83.9 69.5 84.5 68.8 85.4 64.3 87.3 64.0 87.7 64.0 90.3 49.0 90.3 49.0 87.7 48.7 87.3 46.5 86.5 44.2 85.2 41.5 84.5 36.5 85.0 34.2 85.0 34.0 77.7 34.2 65.5 36.5 65.5 38.8 67.3 39.0 67.7 40.2 72.3 41.2 73.3 41.4 73.7 41.2 75.0 41.5 76.0 42.2 77.0 43.5 77.6 50.8 77.6 51.8 77.5 52.8 77.0 53.4 76.3 53.8 75.3 53.8 74.5 56.5 74.2 58.8 75.3 61.7 76.3 64.8 77.9 68.2 79.1 71.5 80.0 76.5 80.5 86.5 80.5 106.2 78.8 109.2 78.3 111.5 77.5 114.0 77.7 114.1 82.7 114.8 83.7 116.7 84.7 116.6 86.3 117.0 87.3 117.8 88.4 119.2 89.1 158.5 90.0 158.8 90.0 159.0 90.3 158.8 90.3ZM223.8 90.3 185.8 90.3 185.7 87.0 185.4 85.3 184.9 84.3 183.8 83.2 181.3 82.3 187.2 82.1 188.2 81.8 188.8 81.3 189.5 80.0 189.3 78.7 188.8 77.9 188.2 77.4 186.8 77.1 177.5 77.1 176.2 77.5 175.5 78.1 175.1 79.0 175.0 80.0 175.2 80.7 171.8 82.3 171.5 82.7 171.5 90.3 166.5 90.5 164.0 90.3 164.0 87.7 163.8 86.7 163.2 85.3 162.2 84.4 160.5 83.5 159.5 83.2 149.8 83.0 149.5 82.0 147.8 80.4 146.6 79.7 141.8 77.7 141.6 77.3 143.2 75.8 145.5 74.8 146.5 74.5 151.5 74.2 161.5 74.2 164.2 74.3 171.2 75.0 176.5 75.8 179.5 75.4 182.2 74.8 184.2 74.1 185.5 73.3 187.8 71.4 189.8 70.5 191.5 70.0 196.5 69.6 198.8 68.6 201.5 66.5 206.5 65.8 207.8 66.7 209.2 68.2 211.2 69.8 212.5 70.4 227.2 70.4 228.2 70.2 229.2 69.6 231.5 69.5 233.8 71.1 235.3 72.7 235.9 76.0 238.1 82.3 238.2 87.3 237.8 87.7 236.5 87.7 236.0 86.0 234.9 84.7 233.5 84.0 231.5 83.5 226.5 85.0 225.5 85.7 224.1 87.3 224.0 90.3 223.8 90.3ZM206.6 87.3 207.4 85.3 208.1 82.7 208.4 82.3 212.8 79.6 214.0 78.3 214.4 77.7 214.4 77.3 213.2 76.2 211.5 75.4 206.5 75.0 201.5 75.4 199.8 76.0 198.3 77.0 197.9 77.3 197.8 77.9 198.4 79.7 199.1 81.0 200.2 81.9 201.7 82.7 206.5 87.7 206.6 87.3ZM417.8 90.5 385.8 90.3 385.8 87.0 385.3 82.7 385.5 82.3 386.8 81.7 391.5 80.5 401.5 80.0 406.5 79.2 417.8 80.0 418.0 82.7 418.0 90.3 417.8 90.5ZM206.5 87.7 206.5 88.0 206.5 87.7ZM206.5 88.0 206.5 88.3 206.5 88.0ZM206.5 88.3 206.5 88.7 206.5 88.3ZM206.5 88.7 206.5 89.0 206.5 88.7ZM206.5 89.0 206.5 89.3 206.5 89.0ZM206.5 89.3 206.5 89.7 206.5 89.3ZM206.5 89.7 206.5 90.0 206.5 89.7ZM206.5 90.0 206.5 90.3 206.5 90.0ZM37.2 124.4 34.2 124.5 34.1 120.0 41.5 120.0 41.5 122.3 41.3 122.7 39.7 123.7 37.2 124.4ZM86.8 152.4 86.5 152.5 81.5 151.5 78.5 150.7 76.5 150.0 74.2 148.5 73.2 147.3 73.2 142.7 71.5 142.6 69.9 137.7 69.0 132.7 68.4 131.7 66.8 130.2 64.8 129.3 61.5 128.2 57.5 127.7 56.9 127.3 59.2 126.8 66.5 125.8 68.2 125.1 69.7 124.0 70.7 122.7 70.8 120.0 76.5 119.9 134.0 120.0 134.0 122.3 133.5 122.7 130.2 123.5 126.5 124.2 124.5 124.8 121.8 126.2 120.6 127.3 120.6 127.7 121.8 130.7 122.9 132.7 124.5 134.2 127.5 136.1 128.9 137.3 130.2 140.2 131.4 142.3 131.2 142.7 129.2 143.4 126.5 144.2 117.8 144.8 111.5 145.8 106.5 145.5 101.5 145.8 96.5 147.5 91.5 150.8 86.8 152.4ZM157.2 124.7 156.5 125.0 154.6 122.7 154.5 120.0 159.8 120.0 159.7 122.7 158.5 123.9 157.2 124.7ZM221.5 127.4 219.2 126.8 216.5 126.5 214.5 125.4 211.8 124.6 206.5 124.2 201.5 123.2 200.2 122.7 199.8 122.3 199.8 120.0 211.5 119.9 226.5 120.0 226.5 122.3 223.5 125.0 221.5 127.4ZM257.2 123.7 251.5 123.8 246.5 123.2 245.5 123.0 244.0 122.3 244.0 120.0 266.5 120.0 266.5 122.3 266.1 122.7 264.2 123.0 257.2 123.7ZM363.2 127.4 361.8 127.6 335.2 127.2 324.8 127.4 323.8 127.3 319.1 122.7 319.0 120.0 331.5 119.9 384.8 120.0 384.8 122.3 384.5 122.7 382.8 123.3 381.5 123.8 366.5 125.0 364.8 126.0 363.2 127.4ZM417.8 134.2 416.5 134.2 412.1 132.7 411.7 132.3 412.6 130.7 413.3 127.3 414.8 125.7 416.5 124.2 417.8 124.2 417.8 134.2ZM256.8 186.1 256.5 186.2 251.5 186.2 245.8 184.8 243.8 184.1 242.5 183.3 241.4 182.3 240.1 178.7 239.8 177.3 239.8 172.7 238.4 170.0 237.6 167.3 238.3 165.7 239.1 164.3 241.5 162.3 241.5 157.7 241.8 157.3 247.0 154.7 247.6 154.0 248.1 152.7 247.7 151.7 245.9 149.0 244.2 145.3 243.2 144.0 241.7 142.7 241.6 142.3 242.2 140.7 242.6 138.7 243.1 132.7 244.2 132.0 246.5 131.2 251.5 130.8 261.8 130.8 264.2 130.3 266.5 129.5 269.2 128.9 270.5 128.3 271.5 127.4 274.0 127.7 274.0 132.3 274.1 132.7 275.2 133.7 276.5 134.5 278.2 134.7 279.2 135.1 279.9 136.0 280.7 140.3 281.5 142.7 281.5 147.3 280.8 147.7 276.5 148.8 271.2 151.4 268.5 153.8 266.5 155.0 261.5 156.2 256.5 158.8 253.2 158.3 251.5 157.6 246.7 162.3 247.0 162.7 248.8 163.6 249.8 164.5 250.7 165.7 251.4 167.3 251.4 167.7 250.1 169.3 248.5 171.0 246.7 172.3 246.8 172.7 248.2 173.3 249.8 173.8 256.5 175.0 261.2 177.3 261.5 177.7 261.4 182.7 259.5 184.7 256.8 186.1ZM300.8 134.7 296.5 135.0 291.5 134.2 286.5 134.2 284.2 133.8 282.8 133.3 281.7 132.7 281.5 132.3 281.5 130.3 281.8 130.0 286.5 130.0 288.5 130.7 291.5 131.2 296.5 131.2 301.5 130.8 306.5 131.2 311.0 132.3 311.0 132.7 308.5 133.3 300.8 134.7ZM111.9 141.7 113.0 141.0 113.8 140.0 114.2 139.0 114.3 137.7 113.9 136.3 113.2 135.4 112.2 134.7 111.2 134.3 90.2 134.3 88.8 134.7 87.9 135.3 87.1 136.3 86.8 137.3 86.8 139.0 87.4 140.3 88.5 141.3 89.8 141.9 110.5 141.9 111.9 141.7ZM391.5 149.2 381.5 149.2 376.5 147.5 371.5 144.2 369.8 142.0 367.8 140.3 366.5 139.5 362.0 137.7 361.7 137.3 363.2 136.2 365.3 135.3 368.0 134.7 371.5 134.2 391.5 134.2 396.5 135.4 397.8 136.1 398.9 137.3 398.9 142.7 398.2 144.2 397.2 145.3 391.5 149.2Z"/>
<path fill="#ece348" fill-rule="evenodd" d="M37.5 24.7 36.5 25.0 34.2 25.0 34.2 20.7 36.5 20.7 38.8 21.5 40.6 22.3 40.7 22.7 39.8 23.5 37.5 24.7ZM211.5 23.3 206.5 23.1 204.6 22.7 204.6 22.3 206.5 21.9 211.5 21.9 213.3 22.3 213.9 22.7 213.2 23.1 211.5 23.3ZM227.2 43.4 221.5 43.4 217.2 42.9 213.4 42.3 211.5 41.9 209.5 41.1 207.4 39.7 205.8 37.7 205.3 32.7 205.6 32.3 206.5 31.9 209.5 31.1 209.8 32.0 210.5 32.9 211.2 33.3 212.2 33.6 219.8 33.6 221.4 33.0 222.2 32.0 222.5 30.7 222.1 29.3 221.3 28.3 219.8 27.8 214.5 27.7 214.9 24.7 215.2 24.2 215.8 23.9 216.5 23.8 226.5 25.0 228.8 25.6 230.8 26.3 231.5 26.7 232.2 27.7 234.1 32.7 235.6 37.3 235.6 37.7 232.4 42.3 232.2 42.5 231.5 42.9 227.2 43.4ZM141.8 62.7 141.5 62.9 140.1 62.7 131.2 61.0 121.5 60.0 116.5 59.2 111.5 59.7 106.5 59.3 101.5 59.6 97.2 58.4 96.5 58.1 95.7 57.3 96.5 55.0 97.7 52.7 98.8 51.9 101.5 50.6 105.5 51.2 111.5 51.6 116.5 51.1 127.2 49.4 130.1 48.7 132.4 47.7 133.1 47.0 133.8 45.5 134.5 43.0 134.5 42.3 133.2 41.0 131.8 40.2 126.5 38.0 126.1 37.7 124.1 32.7 124.4 32.3 126.5 31.6 131.5 30.8 141.5 30.8 146.5 31.6 148.6 32.3 148.9 32.7 148.0 34.7 146.5 36.2 143.9 39.7 142.1 42.7 142.3 52.3 142.9 54.7 143.3 57.7 142.6 61.7 142.4 62.3 141.8 62.7ZM36.8 55.4 36.5 55.6 34.2 55.6 34.2 51.4 38.2 51.3 38.7 51.0 39.2 50.3 39.3 49.0 38.5 48.1 37.8 47.8 34.2 47.8 34.2 41.1 36.5 41.1 38.0 42.0 38.6 42.7 40.6 52.3 40.5 52.7 39.5 53.5 36.8 55.4ZM294.5 48.7 291.5 49.0 286.5 48.8 284.5 47.8 284.0 47.3 284.0 42.7 285.0 42.3 291.5 41.6 296.5 42.1 296.9 42.7 297.3 47.3 297.2 47.7 296.5 48.3 294.5 48.7ZM332.2 90.3 249.0 90.3 249.0 87.7 249.6 87.3 261.5 84.4 263.2 83.3 264.8 81.7 265.8 81.0 266.5 80.6 268.8 80.0 271.5 79.6 276.5 81.0 281.5 80.0 306.5 80.0 308.2 80.3 309.2 80.0 310.2 79.4 310.7 78.7 311.1 77.7 310.9 76.3 309.9 74.7 309.3 72.3 308.2 71.0 306.5 70.0 301.5 69.2 296.5 69.2 291.5 68.9 286.2 68.9 278.2 68.1 273.6 67.3 271.2 66.5 270.2 65.8 269.5 65.0 268.4 62.7 268.1 59.7 267.5 59.0 266.5 58.8 262.5 59.0 256.5 59.0 253.5 57.9 253.1 57.7 253.0 57.3 255.1 55.7 256.5 53.8 258.7 52.7 260.1 51.0 261.5 50.0 269.5 58.0 271.5 58.3 273.8 59.3 276.5 60.0 281.5 60.4 291.5 60.6 296.5 60.0 301.5 60.0 306.5 59.6 311.5 59.6 314.2 59.0 316.5 58.1 321.5 58.1 323.8 59.4 326.5 60.4 331.5 61.2 336.5 61.2 343.3 62.3 343.2 62.7 338.2 63.5 331.5 64.0 329.2 65.2 327.8 66.5 327.2 67.3 327.2 67.7 329.1 72.7 330.2 73.8 331.5 74.6 337.5 75.4 351.5 76.6 353.1 77.3 353.3 77.7 352.6 78.7 351.5 79.4 346.5 80.6 341.8 82.9 337.2 84.2 335.2 85.0 333.8 86.0 332.5 87.3 332.3 87.7 332.3 90.3 332.2 90.3ZM216.5 56.2 206.5 56.2 205.2 54.5 204.1 52.7 204.4 52.3 206.5 51.6 216.5 51.6 218.6 52.3 218.9 52.7 216.5 56.2ZM192.2 59.8 191.5 60.0 186.5 59.4 181.5 59.4 176.5 59.0 174.3 57.7 174.1 57.3 175.0 55.3 176.5 53.8 186.5 53.8 192.2 55.2 193.6 56.0 194.8 57.0 195.1 57.3 195.1 57.7 194.8 58.0 193.6 59.0 192.2 59.8ZM372.2 63.4 366.8 63.0 364.7 62.7 364.1 62.3 365.1 61.0 366.5 60.0 368.8 57.7 371.5 57.1 374.2 57.7 376.5 60.0 377.3 62.3 376.5 62.9 372.2 63.4ZM305.7 67.3 306.5 66.9 307.3 66.0 307.8 65.0 307.9 64.0 307.6 63.0 307.2 62.2 306.5 61.5 305.5 61.0 304.5 60.8 293.8 60.8 292.8 61.2 292.2 61.8 291.5 62.7 291.3 63.3 291.2 64.7 291.5 65.7 292.2 66.7 293.5 67.4 294.5 67.6 304.5 67.6 305.7 67.3ZM158.5 90.3 112.3 90.3 112.3 87.3 112.0 86.7 111.5 86.2 106.5 86.7 98.5 85.6 91.5 85.0 86.5 84.0 81.5 83.8 80.2 83.5 76.5 83.4 70.7 83.7 69.5 84.3 68.8 85.1 63.5 87.1 62.8 87.7 62.8 90.3 50.2 90.3 50.2 87.7 49.9 87.3 46.5 86.0 44.5 85.0 41.5 84.2 36.5 84.7 34.2 84.7 34.0 77.7 34.2 66.0 36.5 66.0 38.2 67.3 38.4 67.7 39.6 72.3 41.1 74.0 41.0 75.0 41.3 76.0 42.2 77.1 43.5 77.7 51.5 77.7 52.5 77.3 53.2 76.8 54.2 75.0 56.5 75.0 58.8 76.0 61.5 76.9 64.5 78.3 68.2 79.5 71.5 80.4 76.5 81.0 86.5 81.0 101.5 79.6 108.2 79.2 111.5 78.8 112.3 79.3 112.8 80.2 113.5 83.1 113.9 84.0 114.8 84.7 116.5 85.0 116.5 86.3 117.0 87.7 117.9 88.7 119.2 89.3 158.2 90.1 158.7 90.3 158.5 90.3ZM223.5 90.3 207.8 90.3 207.8 87.7 209.0 82.7 209.8 81.9 213.2 80.0 214.2 79.0 214.9 77.7 214.8 77.3 213.8 76.3 211.5 75.0 206.5 74.7 201.5 75.0 199.0 76.0 197.3 77.3 197.1 77.7 197.4 79.7 198.2 81.7 203.8 87.3 204.0 87.7 204.0 90.3 186.1 90.3 186.1 87.0 185.7 84.3 185.2 83.2 183.9 82.3 187.5 82.2 188.5 81.8 189.2 81.0 189.6 80.0 189.5 78.7 188.8 77.7 187.5 77.0 177.5 76.7 176.5 77.1 175.4 78.0 175.0 78.7 174.8 79.6 169.3 82.3 169.2 82.7 170.0 83.7 170.6 85.3 170.9 87.3 170.9 90.3 166.5 90.5 164.3 90.3 164.3 87.3 164.0 86.0 163.6 85.0 162.8 84.2 161.2 83.8 159.5 83.1 150.5 82.8 150.1 82.7 150.2 82.3 149.5 81.3 148.2 80.2 142.7 77.7 142.5 77.3 144.2 76.0 146.5 75.0 151.5 74.6 161.5 74.6 164.2 74.8 171.2 75.6 176.5 76.7 183.2 76.0 185.2 75.5 186.5 75.0 187.1 72.7 187.3 72.3 189.8 70.9 191.5 70.3 196.5 70.0 199.2 68.9 201.5 67.0 206.5 66.2 207.5 67.0 209.5 69.0 211.5 70.2 212.5 70.5 227.2 70.6 228.8 70.0 231.5 70.0 233.5 71.4 234.6 72.7 235.3 77.7 235.8 79.0 236.5 80.0 237.3 82.3 236.9 84.3 236.5 85.0 235.8 84.1 235.1 83.7 233.5 83.2 231.5 83.0 226.5 84.6 224.8 85.8 223.7 87.3 223.5 90.3ZM417.8 90.5 386.1 90.3 385.9 82.7 386.2 82.3 387.5 81.8 391.5 80.8 396.5 80.7 401.5 80.4 406.5 79.6 417.8 80.3 417.8 90.5ZM37.5 123.8 36.5 124.0 34.2 124.0 34.2 119.9 40.2 120.0 40.2 122.5 39.2 123.1 37.5 123.8ZM87.2 151.7 86.5 151.9 80.2 150.6 76.5 149.4 74.5 148.0 74.0 147.3 74.4 146.0 75.1 144.7 76.5 143.8 77.2 142.7 77.2 142.3 76.8 141.7 76.5 141.2 71.5 141.2 70.2 137.3 69.4 132.7 68.5 131.1 67.7 130.3 66.5 129.6 61.8 128.0 60.1 127.7 59.6 127.3 63.5 126.5 66.5 126.1 68.8 125.1 70.2 124.0 71.1 122.7 71.1 120.0 76.5 119.9 132.8 120.0 132.8 122.3 132.5 122.5 130.5 123.1 126.0 124.0 123.8 124.7 121.2 126.2 120.2 127.3 120.0 127.7 120.9 130.0 122.3 132.7 124.2 134.5 127.2 136.4 128.2 137.3 130.6 142.3 130.3 142.7 126.5 143.9 117.2 144.6 111.5 145.4 106.5 145.0 101.5 145.0 96.5 146.7 91.5 150.0 87.2 151.7ZM156.5 124.4 155.0 122.3 155.0 120.0 159.0 120.0 159.0 122.3 158.9 122.7 157.8 123.6 156.5 124.4ZM221.5 126.2 216.5 126.0 214.8 125.1 212.5 124.4 206.5 123.9 201.5 122.9 200.7 122.3 200.7 120.0 211.5 119.9 225.2 120.0 225.2 122.3 222.8 124.6 221.5 126.2ZM257.5 123.3 251.5 123.4 246.2 122.8 245.2 122.3 245.2 120.0 264.0 120.0 264.0 122.3 263.1 122.7 257.5 123.3ZM362.2 127.4 335.2 127.0 325.2 127.2 324.8 127.1 320.4 122.7 320.2 122.3 320.2 120.0 331.5 119.9 384.0 120.0 384.0 122.3 383.6 122.7 382.2 123.2 381.2 123.5 371.5 124.3 366.5 124.4 364.5 125.5 362.5 127.3 362.2 127.4ZM417.8 133.3 416.5 133.3 414.0 132.3 414.0 127.7 414.7 126.7 416.5 125.0 417.8 125.0 417.8 133.3ZM256.5 158.1 254.2 157.6 251.5 156.2 249.2 156.2 249.0 156.0 248.9 152.3 247.8 150.5 246.3 148.3 244.6 144.7 242.8 142.3 244.0 132.7 244.4 132.3 246.5 131.6 248.8 131.3 251.5 131.1 262.3 131.0 264.8 130.5 266.5 130.0 269.5 129.5 271.5 128.8 272.3 129.3 272.8 130.0 273.4 132.3 273.8 133.0 275.9 134.7 278.5 135.8 279.1 136.3 279.5 137.1 280.2 142.7 279.8 145.3 279.1 147.3 276.5 148.1 270.8 151.0 269.8 151.7 268.1 153.3 266.5 154.4 261.5 155.6 256.5 158.1ZM297.8 134.3 296.2 134.3 291.5 133.3 286.5 133.3 284.4 132.7 284.2 132.3 285.2 131.7 286.5 131.2 291.5 131.9 301.5 131.1 306.5 131.6 309.7 132.3 309.7 132.7 308.2 133.1 301.5 134.3 297.8 134.3ZM111.2 142.0 112.5 141.5 113.5 140.7 114.3 139.3 114.5 138.0 114.2 136.7 113.5 135.5 112.5 134.7 111.2 134.2 90.2 134.2 88.8 134.5 87.8 135.2 87.1 136.0 86.6 137.3 86.6 139.0 87.2 140.3 88.5 141.5 89.8 142.0 111.2 142.0ZM391.8 148.1 391.5 148.3 381.5 148.3 376.5 146.7 371.5 143.3 369.8 141.4 368.2 140.0 366.5 139.0 363.2 137.7 363.0 137.3 364.5 136.4 366.4 135.7 371.5 134.6 391.5 134.6 396.5 135.7 397.8 136.6 398.6 137.7 398.3 142.7 397.5 144.0 396.5 145.0 391.8 148.1ZM246.5 160.0 245.1 159.0 244.1 157.7 244.3 157.3 246.5 156.2 249.0 156.3 249.0 157.3 248.8 157.7 246.5 160.0ZM256.8 185.5 256.5 185.6 251.5 185.6 245.5 184.0 243.8 183.2 242.7 182.3 241.5 180.0 240.7 177.7 240.7 172.7 239.2 170.3 238.1 167.7 238.4 166.7 239.1 165.3 240.8 163.6 241.5 163.1 246.5 163.3 247.8 164.1 249.0 165.0 249.8 166.0 250.6 167.3 250.5 167.7 249.5 169.0 247.5 170.9 246.5 171.7 244.5 172.3 244.3 172.7 248.8 174.1 256.5 175.4 260.3 177.3 260.7 177.7 260.7 182.3 260.5 182.7 258.8 184.3 256.8 185.5Z"/>
<path fill="#f5d338" fill-rule="evenodd" d="M37.2 24.4 36.5 24.6 34.2 24.6 34.2 21.0 36.5 21.0 39.9 22.3 40.1 22.7 39.5 23.2 37.2 24.4ZM227.5 43.0 221.5 43.1 217.7 42.7 211.5 41.2 210.2 40.7 208.2 39.4 206.6 37.7 206.5 32.7 207.2 32.3 209.5 31.7 210.5 33.1 211.2 33.5 212.2 33.8 219.8 33.8 220.8 33.5 221.5 33.1 222.3 32.0 222.6 31.0 222.5 30.0 222.1 29.0 221.2 28.1 220.2 27.7 216.2 27.6 215.3 27.3 215.7 26.0 216.5 25.0 221.5 25.0 226.5 25.5 230.2 26.7 231.5 27.7 234.8 37.3 234.7 37.7 231.6 42.3 227.5 43.0ZM141.5 62.4 138.5 61.6 133.2 60.7 121.5 59.6 116.5 59.0 111.5 59.4 106.5 58.9 101.5 59.2 98.2 58.2 96.8 57.7 96.6 57.3 98.9 52.7 101.5 51.2 111.5 51.9 116.5 51.4 128.2 49.7 131.2 48.9 133.5 47.8 134.1 47.3 134.6 46.0 135.1 43.3 135.1 42.3 133.9 41.0 132.5 40.0 126.5 37.4 124.9 32.7 125.2 32.3 126.5 31.9 131.5 31.0 141.5 31.0 146.5 31.9 147.8 32.3 148.1 32.7 147.3 34.0 142.9 40.0 141.5 42.7 141.5 52.3 142.4 54.7 142.9 57.3 142.4 60.3 142.0 61.7 141.5 62.4ZM38.8 48.1 37.8 47.6 34.2 47.6 34.2 41.4 36.5 41.4 38.0 42.3 38.2 42.7 39.0 47.7 39.1 48.0 38.8 48.1ZM292.5 48.4 291.5 48.5 286.5 48.3 285.1 47.7 284.9 47.3 285.2 45.0 285.7 43.7 286.3 42.7 287.7 42.3 291.5 41.9 295.3 42.3 296.5 42.7 296.5 47.3 295.5 47.8 292.5 48.4ZM36.8 54.8 36.5 55.0 34.2 55.0 34.2 51.6 37.8 51.6 38.5 51.3 39.2 50.7 39.5 50.8 39.8 52.3 39.6 52.7 36.8 54.8ZM216.5 55.0 206.5 55.0 204.9 52.7 205.2 52.3 206.5 51.9 216.5 51.9 217.8 52.3 218.1 52.7 216.5 55.0ZM262.8 58.4 256.5 58.5 254.3 57.7 254.2 57.3 255.5 56.3 256.5 55.0 259.4 54.0 261.5 52.5 266.3 57.3 266.1 57.7 265.5 57.9 262.8 58.4ZM191.8 59.0 191.5 59.2 186.5 58.8 181.5 58.8 176.5 58.5 175.1 57.7 174.9 57.3 175.7 56.0 176.5 55.0 186.5 55.0 191.5 55.8 193.8 57.3 193.8 57.7 193.5 58.0 191.8 59.0ZM372.5 63.0 371.5 63.1 369.2 62.9 367.4 62.7 366.7 62.3 371.5 57.6 376.3 62.3 375.3 62.7 372.5 63.0ZM331.2 90.3 251.5 90.3 251.5 87.7 252.2 87.3 261.5 85.0 263.4 84.0 265.2 82.2 266.5 81.2 268.8 80.5 271.5 80.0 276.5 81.5 281.5 80.4 308.2 80.4 309.2 80.2 310.0 79.7 310.6 79.0 311.4 77.7 311.0 76.0 310.5 75.0 309.6 72.0 308.4 70.7 306.5 69.6 301.5 69.0 296.5 69.0 291.5 68.6 286.5 68.6 281.5 68.1 276.2 67.3 274.2 66.6 271.5 65.8 269.9 64.3 269.0 62.3 269.6 60.3 270.2 59.7 270.8 59.4 271.5 59.2 273.8 60.0 276.5 60.5 281.5 60.8 286.5 60.8 292.2 61.2 292.5 61.3 292.2 61.4 291.2 63.0 291.0 64.7 291.7 66.3 292.8 67.3 294.5 67.7 304.5 67.7 305.5 67.6 306.5 67.1 307.2 66.5 307.7 65.7 308.0 64.7 308.0 63.7 307.6 62.7 307.2 61.9 306.2 61.1 304.8 60.7 298.4 60.7 301.8 60.5 306.5 60.0 311.5 60.0 314.2 59.5 316.5 58.8 321.5 58.8 323.8 59.9 326.5 60.8 331.5 61.7 336.5 61.7 340.6 62.3 340.6 62.7 336.5 63.3 331.5 63.5 329.2 64.5 327.5 66.0 326.6 67.3 326.6 67.7 328.6 72.7 329.4 73.7 330.5 74.5 331.5 75.0 334.8 75.5 351.5 76.9 352.4 77.3 352.6 77.7 351.5 78.8 346.5 80.0 343.8 81.2 341.5 82.5 336.5 83.8 334.5 84.7 332.8 85.9 331.6 87.3 331.5 90.3 331.2 90.3ZM61.2 90.3 51.5 90.3 51.5 87.7 51.2 87.3 49.2 86.3 46.5 85.5 44.8 84.8 41.5 84.0 36.5 84.4 34.2 84.4 34.2 66.5 36.5 66.5 37.6 67.3 37.8 67.7 39.1 72.7 40.8 74.1 41.0 75.7 41.5 76.7 42.5 77.5 43.5 77.9 51.5 77.9 52.8 77.3 54.2 75.6 56.5 75.8 61.5 77.5 64.5 78.9 69.2 80.3 71.5 80.8 76.5 81.5 86.5 81.5 93.1 80.7 101.5 80.0 111.5 80.0 112.2 81.0 112.7 82.3 112.5 84.2 111.8 84.9 106.5 85.8 91.8 84.5 86.5 83.5 76.5 83.1 74.2 83.4 71.2 83.4 70.2 83.7 68.8 84.6 63.8 86.3 61.8 87.3 61.5 87.7 61.5 90.3 61.2 90.3ZM223.2 90.3 209.0 90.3 209.0 87.7 209.8 82.7 210.5 82.1 212.8 80.9 213.8 80.2 215.0 78.7 215.4 77.7 215.4 77.3 213.8 75.7 211.8 74.8 206.5 74.4 201.5 74.6 200.2 75.0 197.8 76.2 196.8 77.1 196.5 77.7 196.5 82.3 201.3 87.3 201.5 87.7 201.5 90.3 186.5 90.3 186.5 82.7 188.2 82.2 188.8 81.7 189.6 80.7 189.8 79.7 189.6 78.7 189.0 77.7 187.8 76.9 186.9 76.7 187.7 72.7 189.0 71.7 191.4 70.7 196.8 70.3 199.5 69.2 200.5 68.6 201.5 67.5 206.5 66.7 209.2 69.3 210.5 70.0 212.5 70.7 226.8 70.7 228.5 70.4 231.5 70.5 233.2 71.7 234.0 72.7 234.0 82.3 231.5 82.4 229.8 83.1 226.5 84.2 225.2 84.9 224.1 86.0 223.2 87.3 223.2 90.3ZM170.2 90.3 164.6 90.3 164.4 85.3 164.1 84.3 163.5 83.7 162.2 83.4 161.2 83.5 159.2 82.9 150.6 82.7 150.6 82.3 150.0 81.3 148.6 80.0 147.5 79.3 143.5 77.7 143.3 77.3 144.7 76.3 146.5 75.5 151.5 75.0 161.5 75.0 163.2 75.1 170.5 76.1 175.8 77.3 174.8 78.3 166.8 82.3 167.0 82.7 168.2 83.3 168.8 84.0 169.6 85.3 170.2 87.3 170.2 90.3ZM417.8 90.4 386.5 90.3 386.5 82.7 386.9 82.3 388.2 81.9 391.5 81.0 396.5 81.1 401.5 80.8 406.5 80.0 417.8 80.6 417.8 90.4ZM158.2 90.3 113.2 90.3 113.2 87.3 113.5 86.3 113.8 85.9 114.6 85.7 116.2 85.5 116.5 87.0 117.2 88.2 118.2 89.0 119.5 89.5 158.3 90.3 158.2 90.3ZM296.5 87.7 296.5 88.0 296.5 87.7ZM296.5 88.0 296.5 88.3 296.5 88.0ZM296.5 88.3 296.5 88.7 296.5 88.3ZM296.5 88.7 296.5 89.0 296.5 88.7ZM296.5 89.0 296.5 89.3 296.5 89.0ZM296.5 89.3 296.5 89.7 296.5 89.3ZM296.5 89.7 296.5 90.0 296.5 89.7ZM296.5 90.0 296.5 90.3 296.5 90.0ZM36.8 123.4 34.2 123.5 34.2 120.0 39.0 120.0 39.0 122.3 38.5 122.8 36.8 123.4ZM87.2 151.0 86.5 151.2 81.5 150.5 76.5 148.8 75.0 147.7 74.9 147.3 75.5 146.1 76.8 144.7 78.1 142.7 78.1 142.3 77.5 141.1 76.5 140.0 71.5 140.0 70.6 137.3 69.9 132.7 68.9 131.0 67.9 130.0 66.9 129.3 62.1 127.7 61.9 127.3 67.2 126.2 68.5 125.7 69.6 125.0 70.6 124.0 71.4 122.7 71.5 120.0 131.5 120.0 131.5 122.3 130.9 122.7 125.5 123.8 123.0 124.7 120.8 126.0 119.8 127.0 119.5 127.7 120.5 130.7 121.9 133.0 123.8 134.9 126.8 136.7 127.8 137.7 128.6 140.0 129.7 142.3 129.4 142.7 126.5 143.6 116.5 144.4 111.5 145.0 101.5 144.2 96.2 146.0 91.5 149.2 87.2 151.0ZM156.5 123.8 155.5 122.3 155.5 120.0 158.2 120.0 158.2 122.3 157.8 122.8 156.5 123.8ZM219.2 125.3 216.5 125.5 214.8 124.8 212.8 124.2 206.5 123.6 202.1 122.7 201.5 122.3 201.5 120.0 224.0 120.0 224.0 122.3 223.8 122.7 221.5 125.0 219.2 125.3ZM257.5 123.0 251.5 123.1 247.2 122.5 246.5 122.3 246.5 120.0 261.5 120.0 261.5 122.3 260.3 122.7 257.5 123.0ZM361.8 127.0 361.5 127.2 358.2 127.2 335.2 126.9 326.0 127.0 321.7 122.7 321.5 122.3 321.5 120.0 383.2 120.0 383.2 122.3 382.8 122.7 381.5 123.1 371.5 123.9 366.5 123.8 363.8 125.1 361.8 127.0ZM417.8 132.4 416.3 132.3 415.6 131.0 415.1 129.3 414.9 127.7 415.0 127.3 416.5 125.8 417.8 125.8 417.8 132.4ZM256.5 157.5 253.5 156.2 250.6 154.3 248.7 150.3 246.5 147.4 245.5 144.6 244.0 142.3 244.0 137.3 244.8 132.7 245.2 132.3 246.5 131.9 248.5 131.7 251.5 131.4 261.5 131.4 264.4 131.0 266.5 130.5 271.5 130.0 272.2 131.0 272.9 132.7 273.7 133.7 275.2 134.8 277.8 136.1 278.9 137.3 279.0 142.7 277.8 145.7 276.7 147.3 270.1 150.7 269.2 151.3 268.0 152.7 266.5 153.8 261.5 155.0 258.8 156.2 256.5 157.5ZM302.8 133.7 301.5 133.9 296.5 133.8 292.0 132.7 292.3 132.3 293.2 132.2 301.5 131.4 306.5 131.9 308.4 132.3 308.4 132.7 307.5 132.9 302.8 133.7ZM111.8 142.0 113.0 141.3 113.9 140.3 114.5 139.0 114.6 137.7 114.2 136.3 113.5 135.3 112.5 134.5 111.2 134.1 89.8 134.1 88.5 134.5 87.5 135.3 86.8 136.3 86.5 137.3 86.5 139.0 87.2 140.5 88.5 141.7 89.8 142.1 110.5 142.2 111.8 142.0ZM391.5 147.5 381.5 147.5 376.5 145.8 371.5 142.5 370.2 141.0 368.5 139.7 366.5 138.5 364.5 137.7 364.3 137.3 367.2 136.0 371.5 135.0 391.5 135.0 396.5 136.1 397.5 136.8 398.2 137.7 397.7 142.7 396.5 144.2 391.5 147.5ZM241.8 172.5 241.5 172.7 240.2 170.9 238.6 167.7 238.7 167.0 239.5 165.7 240.4 164.7 241.5 163.8 246.5 164.2 247.5 164.8 249.1 166.3 249.7 167.3 249.7 167.7 248.2 169.3 246.5 170.8 241.8 172.5ZM256.8 184.8 256.5 185.0 251.5 185.0 246.5 183.8 244.3 182.7 243.9 182.3 241.6 177.7 241.5 174.3 241.8 174.2 246.5 174.2 248.6 174.7 253.2 175.3 256.5 175.8 259.5 177.3 259.8 177.7 259.8 182.3 258.8 183.5 256.8 184.8Z"/>
<path fill="#f4b134" fill-rule="evenodd" d="M37.2 24.0 36.5 24.3 34.2 24.3 34.2 21.2 36.5 21.2 39.3 22.3 39.4 22.7 39.2 22.9 37.2 24.0ZM227.5 42.7 221.5 42.8 220.3 42.7 211.2 40.5 209.2 39.3 207.5 37.7 207.4 37.3 207.6 35.7 208.2 33.7 208.8 32.7 209.5 32.4 211.2 33.7 212.5 33.9 219.8 33.9 220.8 33.7 221.8 33.0 222.5 32.0 222.7 31.0 222.6 29.7 222.0 28.7 221.2 27.9 220.2 27.5 215.9 27.3 216.5 26.2 221.5 25.6 226.5 26.0 229.3 27.0 230.3 27.7 231.5 30.0 233.9 37.3 233.9 37.7 231.5 41.2 229.3 42.3 227.5 42.7ZM141.5 61.2 131.5 60.0 121.5 59.3 116.5 58.8 111.5 59.1 106.5 58.6 101.5 58.8 98.5 57.8 97.8 57.3 100.2 52.7 101.5 51.9 111.5 52.2 116.5 51.7 128.8 50.0 131.8 49.3 134.2 48.2 135.3 47.3 135.7 44.3 135.8 42.3 134.7 41.0 133.2 39.8 127.7 37.3 126.5 35.0 125.7 32.7 126.5 32.2 131.5 31.2 141.5 31.2 146.5 32.2 147.2 32.7 145.2 35.5 141.5 41.2 139.3 42.3 139.0 42.7 139.0 47.3 140.1 49.3 140.6 52.3 141.8 54.5 142.5 57.3 142.2 59.4 141.5 61.2ZM38.2 47.4 34.2 47.5 34.2 41.7 36.5 41.7 37.5 42.3 37.8 42.7 38.3 47.3 38.2 47.4ZM291.5 48.0 286.5 47.9 285.7 47.3 286.5 45.0 287.9 44.0 288.9 42.7 291.5 42.2 294.0 42.7 294.0 47.3 293.3 47.7 291.5 48.0ZM36.5 54.4 34.2 54.4 34.2 51.7 37.8 51.7 38.8 51.4 39.0 52.3 38.8 52.7 36.5 54.4ZM216.5 53.8 206.5 53.8 205.8 52.7 206.5 52.2 216.5 52.2 217.2 52.7 216.5 53.8ZM261.2 58.0 256.5 58.0 255.6 57.7 255.5 57.3 256.5 56.2 259.5 55.7 261.5 55.0 263.8 57.3 263.4 57.7 261.2 58.0ZM191.8 58.1 191.5 58.3 176.5 58.0 175.9 57.7 175.8 57.3 176.5 56.2 186.5 56.2 191.5 56.7 192.5 57.3 192.5 57.7 191.8 58.1ZM330.2 90.3 297.8 90.3 297.8 87.7 297.5 87.3 296.5 86.7 294.4 87.3 294.0 87.7 294.0 90.3 254.0 90.3 254.0 87.7 254.7 87.3 262.8 85.2 264.5 84.1 265.9 82.3 266.5 81.9 268.8 81.0 271.5 80.4 276.5 82.0 281.5 80.7 306.5 80.7 308.8 80.5 309.5 80.2 310.3 79.7 311.5 78.3 312.5 77.7 312.6 77.3 311.5 76.2 309.8 71.7 308.8 70.5 307.5 69.7 306.5 69.3 302.2 68.8 296.5 68.8 291.5 68.3 286.5 68.3 280.3 67.7 278.7 67.3 276.2 66.1 271.5 65.0 271.1 64.7 270.1 63.3 269.7 62.3 270.3 61.0 271.5 60.0 273.8 60.6 276.5 61.0 281.5 61.2 286.5 61.2 291.5 61.9 290.9 63.7 290.9 65.0 291.5 66.3 292.8 67.4 294.5 67.8 304.5 67.8 305.8 67.6 306.8 67.0 307.7 66.0 308.1 64.7 308.0 63.3 307.6 62.3 306.8 61.4 306.2 60.9 305.4 60.7 305.5 60.6 306.5 60.4 311.5 60.4 316.5 59.4 321.5 59.4 323.8 60.4 326.5 61.2 331.5 62.1 336.5 62.1 338.1 62.3 338.1 62.7 336.5 62.9 331.5 63.0 330.2 63.4 327.8 64.7 326.0 67.0 325.8 67.7 326.6 69.0 328.1 72.7 329.1 74.0 330.2 74.8 331.8 75.5 350.2 77.0 351.5 77.2 352.0 77.7 351.5 78.1 345.8 79.6 343.5 80.6 341.5 81.7 336.2 83.2 333.8 84.3 332.4 85.3 330.4 87.3 330.2 87.7 330.2 90.3ZM372.5 62.7 371.2 62.8 369.2 62.3 371.5 60.0 373.8 62.3 372.5 62.7ZM58.8 90.3 54.0 90.3 54.0 87.7 53.6 87.3 49.5 85.8 44.5 84.3 41.5 83.8 34.2 84.1 34.2 67.0 36.5 67.0 36.9 67.3 37.2 67.7 38.5 72.7 39.3 73.7 40.6 74.7 41.0 76.0 41.6 77.0 42.5 77.7 43.5 78.0 51.5 78.0 52.8 77.5 53.8 76.4 54.2 76.3 56.5 76.7 65.0 79.7 71.5 81.2 76.5 82.0 86.5 82.0 94.2 80.9 101.5 80.4 107.1 80.7 110.5 81.0 111.5 81.2 112.1 82.3 112.0 83.0 111.5 83.8 109.2 84.5 106.5 85.0 101.5 85.0 96.2 84.6 91.5 84.0 86.5 83.0 76.5 82.8 73.8 83.2 71.2 83.3 70.2 83.5 69.2 84.1 63.8 85.7 59.4 87.3 59.0 87.7 59.0 90.3 58.8 90.3ZM222.5 90.3 210.2 90.3 210.2 87.7 210.7 82.7 211.5 82.0 213.5 81.2 214.5 80.4 215.5 78.9 216.0 77.7 215.9 77.3 214.6 75.7 212.5 74.6 211.5 74.3 206.5 74.1 201.5 74.3 199.8 74.7 197.7 75.7 195.2 77.7 194.8 80.0 194.1 82.7 195.1 84.0 196.5 85.0 198.8 87.3 199.0 87.7 199.0 90.3 189.0 90.3 189.0 82.7 188.8 82.0 189.6 81.0 189.9 79.7 189.8 78.7 189.4 78.0 187.9 76.7 188.4 72.7 189.5 71.8 191.5 70.9 196.5 70.7 197.5 70.5 199.8 69.6 201.5 68.3 203.6 67.7 206.5 67.1 208.5 69.4 209.8 70.2 211.5 70.7 216.5 71.0 228.2 70.8 231.5 71.0 233.2 72.3 233.4 72.7 233.0 76.3 232.4 78.7 231.1 80.7 230.3 82.3 229.8 82.7 225.8 84.0 224.8 84.7 223.8 85.5 222.8 87.3 222.8 90.3 222.5 90.3ZM161.2 83.0 160.5 83.1 159.2 82.8 151.2 82.5 150.2 80.9 149.2 79.8 147.8 79.1 144.4 77.7 144.2 77.3 146.5 76.0 149.5 75.6 151.5 75.4 161.5 75.4 169.8 76.5 173.4 77.3 173.7 77.7 163.8 82.6 161.2 83.0ZM417.8 90.4 387.3 90.3 387.3 82.7 388.5 82.1 391.5 81.2 396.5 81.4 401.5 81.2 406.5 80.4 417.8 80.9 417.8 90.4ZM169.5 90.3 164.9 90.3 165.1 85.0 165.3 84.0 165.8 83.5 166.5 83.3 167.2 83.7 168.2 84.6 168.9 85.7 169.6 87.7 169.6 90.3 169.5 90.3ZM153.5 90.3 114.0 90.3 114.0 87.7 114.2 87.2 114.7 86.7 116.2 86.1 116.5 87.3 117.2 88.4 118.2 89.2 119.5 89.6 153.6 90.3 153.5 90.3ZM37.2 122.8 36.5 123.0 34.2 123.0 34.1 120.0 37.8 120.0 37.8 122.3 37.2 122.8ZM87.2 150.4 86.5 150.6 81.5 150.0 77.7 148.7 75.9 147.7 75.8 147.3 75.9 147.0 77.7 144.7 78.9 142.7 78.7 141.3 78.2 140.0 77.5 139.3 76.5 138.8 71.5 138.8 71.1 137.3 70.2 132.3 69.3 130.7 68.2 129.7 67.2 129.0 63.3 127.7 63.3 127.3 68.2 126.2 70.2 125.1 72.3 122.3 72.3 120.0 130.2 120.0 130.2 122.3 129.6 122.7 124.2 123.9 122.2 124.6 120.1 126.0 119.3 127.0 119.0 127.7 119.8 130.6 120.8 132.7 123.5 135.3 126.5 137.0 127.2 137.7 128.9 142.3 128.6 142.7 126.5 143.3 111.5 144.6 101.5 143.3 95.2 145.5 93.9 146.3 92.5 147.7 91.5 148.3 89.5 149.4 87.2 150.4ZM156.5 123.1 156.0 122.3 156.0 120.0 157.3 120.0 157.3 122.3 156.5 123.1ZM218.8 124.7 216.5 125.0 215.2 124.5 213.2 124.0 206.5 123.3 203.4 122.7 202.8 122.3 202.8 120.0 222.8 120.0 222.8 122.3 222.6 122.7 221.2 123.9 218.8 124.7ZM257.5 122.7 251.5 122.8 249.0 122.3 249.0 120.0 259.0 120.0 259.0 122.3 257.5 122.7ZM359.8 127.0 327.5 126.7 326.5 126.2 322.9 122.7 322.8 122.3 322.8 120.0 382.3 120.0 382.3 122.3 381.5 122.8 376.5 123.3 371.5 123.6 366.5 123.1 363.8 124.3 362.5 125.2 361.5 126.2 359.8 127.0ZM417.8 130.0 416.5 130.0 416.2 129.3 415.7 127.7 416.5 126.7 417.8 126.7 417.8 130.0ZM256.8 156.5 256.5 156.7 254.2 155.6 252.5 154.5 251.2 153.4 249.3 149.7 247.7 147.3 245.2 142.3 244.6 137.7 245.6 132.7 246.5 132.2 251.5 131.7 261.5 131.7 266.5 131.0 271.5 131.2 272.4 133.0 273.5 134.2 274.8 135.2 277.5 136.6 278.2 137.2 278.4 137.7 278.1 140.7 277.7 142.7 275.3 147.3 271.5 149.4 269.2 150.4 268.2 151.3 267.1 152.7 266.5 153.1 261.5 154.4 259.1 155.3 256.8 156.5ZM302.8 133.3 301.5 133.6 298.8 133.4 296.5 133.1 294.6 132.7 295.2 132.3 301.5 131.7 307.1 132.3 307.1 132.7 306.5 132.8 302.8 133.3ZM110.7 142.3 112.2 142.0 113.5 141.1 114.4 139.7 114.7 138.3 114.6 137.0 114.0 135.7 112.8 134.6 111.5 134.0 89.8 133.9 88.5 134.3 87.6 135.0 86.8 136.0 86.4 137.0 86.3 138.7 86.9 140.3 88.2 141.6 89.5 142.2 110.7 142.3ZM391.2 146.7 381.5 146.7 376.5 145.0 371.5 141.7 369.2 139.5 367.5 138.5 365.7 137.7 365.6 137.3 368.2 136.2 371.5 135.4 391.5 135.4 396.5 136.4 397.5 137.2 397.7 137.7 397.0 142.7 396.5 143.3 391.5 146.7 391.2 146.7ZM241.5 171.7 240.2 169.9 239.1 167.7 239.1 167.3 239.9 166.0 241.5 164.4 246.5 165.0 247.8 166.1 248.9 167.3 248.9 167.7 248.6 168.0 246.5 170.0 241.5 171.7ZM256.5 184.4 251.5 184.4 246.5 183.1 245.6 182.7 245.2 182.3 242.8 177.7 243.0 177.0 243.5 176.2 244.2 175.7 246.5 175.0 251.5 175.4 256.5 176.2 258.7 177.3 259.0 177.7 259.0 182.3 258.2 183.2 256.5 184.4Z"/>
<path fill="#e9702e" fill-rule="evenodd" d="M36.8 23.8 36.5 23.9 34.2 23.9 34.2 21.5 36.5 21.5 38.7 22.3 38.8 22.7 36.8 23.8ZM226.5 42.4 221.5 42.4 217.2 41.0 211.5 40.0 209.8 39.0 208.3 37.7 208.2 37.3 208.7 35.7 209.4 34.3 210.2 33.4 212.2 34.1 219.5 34.1 220.8 33.8 221.8 33.2 222.5 32.3 222.9 31.0 222.7 29.7 222.2 28.7 220.8 27.6 217.8 27.0 221.5 26.2 226.5 26.5 227.5 26.8 229.0 27.7 230.0 30.3 231.5 32.5 233.1 37.3 233.1 37.7 231.5 40.0 226.5 42.4ZM136.8 42.3 136.5 42.7 135.5 41.0 133.8 39.5 128.9 37.3 126.6 32.7 127.2 32.3 131.5 31.5 141.5 31.5 145.8 32.3 146.3 32.7 144.7 34.7 141.5 40.0 136.8 42.3ZM37.5 47.3 34.2 47.3 34.2 41.9 36.5 41.9 37.3 42.7 37.7 47.0 37.5 47.3ZM141.5 60.0 136.5 60.0 130.8 59.4 116.5 58.5 111.5 58.8 106.5 58.2 101.5 58.3 99.4 57.7 99.1 57.3 101.5 52.6 111.5 52.6 121.5 51.2 128.5 50.6 131.5 50.0 133.6 49.3 135.5 48.3 136.5 47.3 137.8 48.4 138.6 49.3 139.3 50.7 140.1 53.0 141.5 55.0 142.2 57.3 141.5 60.0ZM36.5 53.8 34.2 53.8 34.2 51.9 38.1 52.0 38.0 52.7 36.5 53.8ZM328.8 90.3 299.0 90.3 299.0 87.7 298.8 87.3 296.5 85.8 293.8 86.6 291.8 87.3 291.5 87.7 291.5 90.3 256.5 90.3 256.5 87.7 257.2 87.3 263.8 85.6 264.8 85.0 265.5 84.4 266.4 82.7 266.8 82.3 268.8 81.6 271.5 80.8 274.8 81.9 276.5 82.6 278.2 81.9 281.5 81.1 306.5 81.1 309.2 80.6 309.8 80.3 313.8 77.7 313.9 77.3 313.3 76.7 311.5 75.0 310.5 72.0 309.8 70.8 309.0 70.0 307.8 69.3 306.5 68.9 303.2 68.6 296.5 68.5 291.5 68.1 286.5 68.1 281.3 67.3 279.8 66.3 277.7 65.3 275.0 64.7 271.5 64.2 270.5 62.9 270.3 62.3 271.5 60.8 276.5 61.5 286.5 61.7 290.8 62.3 290.9 62.7 290.7 64.3 291.0 65.7 291.8 66.9 293.2 67.8 294.5 68.0 304.5 68.0 305.8 67.7 306.8 67.2 307.6 66.3 308.1 65.3 308.3 64.3 308.2 63.3 307.6 62.0 306.6 61.0 306.8 60.8 311.5 60.8 316.5 60.0 321.5 60.0 324.5 61.2 326.5 61.7 330.5 62.3 330.7 62.7 328.8 63.3 327.5 64.0 325.9 65.7 324.9 67.3 324.9 67.7 325.4 68.7 326.5 70.0 327.9 73.3 328.7 74.3 329.5 75.0 331.5 75.8 345.5 76.8 350.1 77.3 350.8 77.7 345.5 79.1 341.5 80.8 338.5 81.7 333.2 83.7 330.7 85.7 329.1 87.3 329.0 90.3 328.8 90.3ZM56.8 87.3 56.5 87.7 56.2 87.3 54.8 86.8 49.8 85.2 43.5 83.8 41.5 83.5 34.2 83.8 34.2 67.6 36.5 67.6 37.7 72.3 38.0 73.0 39.2 74.3 40.5 75.1 41.0 76.3 41.5 77.1 42.8 78.0 43.8 78.2 51.5 78.1 52.5 77.8 53.8 76.8 56.0 77.3 58.8 78.4 64.0 80.0 71.2 81.6 75.6 82.3 75.2 82.7 70.5 83.2 66.5 84.5 63.2 85.2 56.8 87.3ZM222.2 90.3 211.5 90.3 211.5 82.7 213.8 81.8 214.9 81.0 215.8 79.7 216.5 77.7 216.3 77.0 215.6 76.0 214.2 74.8 211.5 73.9 206.5 73.8 201.5 73.9 198.8 74.6 197.2 75.3 194.2 77.3 193.0 80.3 191.5 82.7 190.2 80.7 190.0 78.7 189.0 77.0 189.0 72.7 189.5 72.2 191.5 71.2 196.5 71.1 198.8 70.6 200.2 70.0 201.5 69.2 203.8 68.6 206.5 67.6 207.2 68.7 208.2 69.8 209.5 70.5 211.5 71.1 216.5 71.2 226.5 71.1 231.5 71.5 232.6 72.3 232.7 72.7 232.3 75.3 231.5 77.5 230.0 79.7 229.0 82.3 228.5 82.7 225.2 83.9 224.2 84.5 223.4 85.3 222.4 87.3 222.3 90.3 222.2 90.3ZM160.5 82.7 151.5 82.4 150.6 80.7 149.5 79.5 148.2 78.8 145.2 77.7 145.1 77.3 146.5 76.5 151.5 75.8 161.5 75.8 168.5 76.8 170.8 77.3 171.2 77.7 161.8 82.3 160.5 82.7ZM104.5 84.3 101.5 84.5 95.8 84.1 91.5 83.5 87.3 82.7 87.4 82.3 95.8 81.1 101.5 80.8 107.5 81.4 109.5 81.8 111.1 82.3 111.2 82.7 108.5 83.7 106.5 84.2 104.5 84.3ZM417.8 90.4 388.2 90.3 388.2 82.7 388.6 82.3 391.5 81.5 396.5 81.8 401.5 81.7 406.5 80.8 417.8 81.2 417.8 90.4ZM168.8 90.3 165.2 90.3 165.3 87.3 165.5 86.0 165.8 84.9 166.5 84.2 167.8 85.4 168.9 87.3 169.0 90.3 168.8 90.3ZM146.5 90.3 114.8 90.3 114.8 87.7 115.5 86.9 115.8 86.8 116.2 86.9 116.7 88.0 117.5 88.9 118.5 89.5 119.5 89.8 146.7 90.3 146.5 90.3ZM87.2 149.7 86.5 150.0 81.5 149.5 76.8 147.7 76.7 147.3 78.3 145.3 79.8 142.7 79.8 137.7 71.5 137.4 70.6 132.3 69.6 130.3 68.8 129.5 67.8 128.9 64.5 127.7 64.6 127.3 68.8 126.3 70.5 125.3 73.1 122.7 73.2 120.0 129.0 120.0 129.0 122.3 128.3 122.7 123.5 123.7 120.8 124.8 119.4 126.0 118.7 127.0 118.5 127.7 119.3 131.0 120.2 133.0 123.2 135.7 126.5 137.7 128.1 142.3 127.7 142.7 126.5 143.1 125.2 143.2 111.5 144.2 102.8 142.9 102.0 142.7 110.8 142.5 111.8 142.3 112.8 141.8 114.1 140.7 114.8 139.0 114.8 137.3 114.2 135.7 112.7 134.3 111.8 133.9 110.8 133.7 89.8 133.8 88.5 134.2 87.4 135.0 86.7 136.0 86.0 137.7 86.5 140.0 87.2 140.9 87.8 141.6 88.8 142.2 90.2 142.5 97.8 142.5 101.0 142.7 94.0 145.0 92.6 146.0 91.2 147.7 87.2 149.7ZM217.2 124.4 216.5 124.5 213.5 123.8 206.5 123.1 204.7 122.7 204.0 122.3 204.0 120.0 221.5 120.0 221.5 122.3 221.3 122.7 219.7 123.7 217.2 124.4ZM357.2 126.7 353.5 126.9 335.2 126.6 329.8 126.7 326.5 125.0 324.2 122.7 324.0 122.3 324.0 120.0 381.5 120.0 381.5 122.3 380.1 122.7 376.5 123.1 371.5 123.2 367.8 122.8 366.5 122.3 363.3 123.7 361.5 125.0 359.4 125.7 357.2 126.7ZM366.5 120.0 366.5 120.3 366.5 120.0ZM366.5 120.3 366.5 120.7 366.5 120.3ZM366.5 120.7 366.5 121.0 366.5 120.7ZM366.5 121.0 366.5 121.3 366.5 121.0ZM366.5 121.3 366.5 121.7 366.5 121.3ZM366.5 121.7 366.5 122.0 366.5 121.7ZM366.5 122.0 366.5 122.3 366.5 122.0ZM256.5 155.8 253.7 154.3 251.5 152.4 250.3 149.7 248.9 147.3 246.3 142.0 245.7 140.0 245.3 137.7 246.4 132.7 247.9 132.3 251.5 131.9 261.5 131.9 266.5 131.5 268.8 131.8 271.5 132.5 272.5 134.0 273.5 135.0 274.8 135.8 276.5 136.5 277.6 137.3 277.7 137.7 277.5 139.0 276.8 141.7 276.5 142.5 275.2 144.3 274.0 147.3 273.7 147.7 271.5 148.8 269.8 149.2 268.5 149.8 267.5 150.7 266.5 152.4 260.5 154.1 256.5 155.8ZM302.8 133.0 301.5 133.2 297.2 132.7 297.9 132.3 301.5 131.9 305.1 132.3 305.2 132.7 302.8 133.0ZM91.5 132.7 91.5 133.0 91.5 132.7ZM91.5 133.0 91.5 133.3 91.5 133.0ZM91.5 133.3 91.5 133.7 91.5 133.3ZM391.5 145.8 381.5 145.8 376.5 144.2 372.8 141.6 371.5 140.8 369.4 139.0 366.9 137.7 366.8 137.3 368.8 136.6 371.5 135.8 391.5 135.8 396.5 136.8 397.2 137.3 397.3 137.7 396.5 142.4 391.5 145.8ZM241.8 170.7 241.5 170.8 241.1 170.3 239.6 167.7 239.6 167.3 240.2 166.5 241.5 165.0 246.5 165.8 248.0 167.3 248.0 167.7 246.5 169.2 241.8 170.7ZM256.5 183.8 251.5 183.8 246.5 182.4 244.1 177.7 244.1 177.3 245.2 176.4 246.5 175.8 251.5 175.8 256.5 176.7 257.8 177.3 258.2 177.7 258.2 182.3 258.0 182.7 256.5 183.8Z"/>
<path fill="#d62a27" fill-rule="evenodd" d="M36.8 23.4 36.5 23.6 34.2 23.6 34.2 21.8 36.5 21.8 38.0 22.3 38.1 22.7 36.8 23.4ZM226.8 41.1 226.5 41.2 221.5 41.2 217.5 40.2 211.5 39.4 209.8 38.3 209.2 37.7 209.1 37.3 210.0 35.3 211.2 34.0 212.2 34.2 219.5 34.2 221.2 33.8 221.9 33.3 222.6 32.3 223.0 31.3 223.0 30.0 222.6 29.0 222.1 28.3 221.2 27.5 220.6 27.3 220.8 27.0 221.5 26.9 226.5 27.0 227.8 27.7 228.2 30.3 228.9 32.3 231.5 35.0 232.3 37.3 231.5 38.8 226.8 41.1ZM136.8 41.1 136.5 41.2 135.5 40.0 134.2 39.0 130.2 37.3 127.8 32.7 128.5 32.3 131.5 31.7 141.5 31.7 144.5 32.3 145.1 32.7 143.7 34.7 142.4 37.3 141.5 38.8 136.8 41.1ZM36.8 47.1 34.2 47.2 34.2 42.2 36.5 42.2 36.9 42.7 37.1 47.0 36.8 47.1ZM136.8 59.4 116.5 58.2 111.5 58.4 106.5 57.9 101.5 57.9 100.7 57.7 100.3 57.3 101.5 55.0 106.5 55.0 108.5 54.3 111.5 53.8 113.7 52.7 115.5 52.3 121.5 51.6 127.2 51.2 131.3 50.7 134.5 49.8 136.5 48.8 137.5 49.7 138.2 50.6 139.6 54.0 140.5 55.3 141.5 56.2 141.8 57.3 141.5 58.8 136.8 59.4ZM36.5 53.1 34.2 53.1 34.2 52.0 37.2 52.1 37.3 52.3 37.1 52.7 36.5 53.1ZM327.5 90.3 300.2 90.3 300.1 87.3 298.6 86.0 296.5 85.0 292.8 85.8 291.2 86.5 290.2 87.7 290.2 90.3 259.0 90.3 259.0 87.7 259.7 87.3 263.8 86.5 265.4 86.0 266.5 85.0 267.7 82.7 268.8 82.1 271.5 81.2 274.8 82.3 275.3 82.7 276.5 85.0 277.7 82.7 278.5 82.2 281.5 81.4 306.5 81.4 308.8 81.0 310.5 80.5 313.8 78.9 315.1 77.7 315.1 77.3 313.5 75.3 311.5 73.8 310.5 71.0 309.4 69.7 308.5 69.1 307.0 68.7 303.2 68.3 305.2 68.2 306.2 67.8 307.2 67.1 307.8 66.3 308.3 65.0 308.4 63.7 308.1 62.7 307.3 61.3 311.5 61.2 316.5 60.6 321.5 60.6 324.5 61.6 328.0 62.3 328.5 62.7 327.1 63.3 325.5 64.7 324.5 66.2 324.1 67.7 325.0 69.7 326.5 71.2 327.6 74.0 329.0 75.3 330.2 75.9 331.5 76.2 341.5 76.8 347.5 77.3 348.3 77.7 344.7 78.7 341.5 80.0 336.8 81.1 332.1 83.3 329.8 85.0 327.9 87.3 327.8 90.3 327.5 90.3ZM292.5 67.8 286.5 67.8 283.9 67.3 282.6 65.7 280.8 64.7 277.2 63.8 271.5 63.3 271.0 62.7 271.0 62.3 271.5 61.7 276.5 62.0 286.5 62.1 288.1 62.3 289.1 62.7 289.8 63.7 290.5 64.4 290.6 65.3 290.9 66.0 291.7 67.0 292.7 67.7 292.5 67.8ZM221.8 90.3 214.0 90.3 214.0 82.7 215.5 81.7 216.0 81.0 216.5 80.0 218.8 77.7 218.7 77.3 216.5 76.2 215.8 75.3 214.8 74.5 213.5 74.0 211.5 73.6 206.5 73.4 201.5 73.6 199.2 74.0 197.2 74.6 193.9 76.3 192.9 77.3 191.5 80.0 190.2 77.3 189.6 72.7 189.9 72.3 191.5 71.6 196.5 71.4 198.2 71.2 200.1 70.7 201.5 70.0 204.2 69.5 206.5 68.8 207.2 69.7 208.2 70.5 209.5 71.0 211.5 71.4 216.5 71.6 226.5 71.4 231.5 72.0 232.1 72.7 231.5 75.0 228.9 77.7 228.2 79.7 227.8 82.3 224.2 83.8 223.2 84.7 222.5 85.7 222.0 87.3 221.8 90.3ZM57.2 86.0 56.5 86.2 49.5 84.5 43.2 83.4 41.5 83.3 34.2 83.4 34.2 70.0 36.5 70.0 37.2 72.7 37.9 74.0 39.0 75.0 40.5 75.7 41.5 77.3 42.8 78.1 43.8 78.3 51.2 78.3 52.2 78.1 53.5 77.4 56.3 78.7 58.8 79.5 63.5 80.5 73.1 82.3 72.8 82.7 63.5 84.5 57.2 86.0ZM159.2 82.3 153.7 82.3 151.5 81.2 150.8 80.0 149.7 79.0 148.3 78.3 146.1 77.7 145.9 77.3 146.5 77.0 151.5 76.2 161.5 76.2 167.5 77.2 168.2 77.3 168.7 77.7 159.2 82.3ZM104.5 83.7 101.5 84.0 96.5 83.8 89.8 82.7 89.9 82.3 95.2 81.6 101.5 81.2 106.8 81.9 108.5 82.3 108.6 82.7 106.5 83.3 104.5 83.7ZM417.8 90.4 389.0 90.3 389.0 82.7 389.5 82.3 391.5 81.8 396.5 82.1 401.5 82.1 406.5 81.2 417.8 81.6 417.8 90.4ZM168.2 90.3 165.6 90.3 165.6 87.3 165.9 86.0 166.5 85.0 167.5 86.0 168.3 87.3 168.4 90.3 168.2 90.3ZM139.5 90.3 115.7 90.3 115.7 87.7 116.2 87.3 116.7 88.3 117.5 89.1 118.5 89.6 119.5 89.9 139.7 90.3 139.5 90.3ZM112.5 143.7 111.2 143.7 104.7 142.7 111.2 142.6 112.8 142.0 114.0 141.0 114.6 140.0 114.9 139.0 115.0 137.7 114.8 136.7 113.8 135.0 112.8 134.2 111.8 133.8 110.5 133.6 94.8 133.4 94.5 133.3 93.7 132.3 91.5 131.2 90.4 132.3 90.0 133.3 89.6 133.7 88.2 134.2 87.2 135.0 86.2 136.2 76.2 136.2 73.5 135.7 71.5 135.0 70.9 131.7 69.8 129.7 68.5 128.6 65.8 127.7 66.0 127.3 68.2 126.9 69.8 126.3 72.8 124.1 73.9 122.7 74.0 120.0 127.8 120.0 127.8 122.3 127.0 122.7 122.8 123.5 120.2 124.5 118.8 125.7 118.3 126.7 118.0 127.7 118.6 131.0 119.3 133.0 120.5 134.4 123.1 136.3 125.3 137.7 126.5 140.0 127.3 142.3 126.5 142.8 123.2 143.1 112.5 143.7ZM217.5 123.8 216.5 124.0 213.8 123.5 206.0 122.7 205.2 122.3 205.2 120.0 220.2 120.0 220.2 122.5 219.2 123.1 217.5 123.8ZM354.5 126.7 331.5 126.2 326.5 123.8 326.2 123.4 325.2 122.3 325.2 120.0 364.0 120.0 364.0 122.3 363.5 122.7 361.5 123.8 358.8 124.2 356.8 124.8 354.8 126.7 354.5 126.7ZM377.5 122.7 371.5 122.9 369.8 122.6 369.0 122.3 369.0 120.0 379.0 120.0 379.0 122.3 377.5 122.7ZM257.2 154.7 256.5 155.0 256.2 154.8 254.2 153.6 252.7 152.3 246.5 140.0 245.9 137.7 246.5 135.0 248.8 132.7 251.5 132.2 267.2 132.1 269.2 132.6 271.5 133.8 272.2 134.7 273.3 135.7 274.8 136.5 276.5 137.0 276.9 137.3 277.1 137.7 276.5 140.0 273.9 142.7 273.2 144.7 272.8 147.3 272.4 147.7 271.5 148.1 269.2 148.5 267.8 148.9 266.8 149.6 264.2 152.3 259.8 153.6 257.2 154.7ZM302.5 132.7 301.5 132.9 300.0 132.7 300.5 132.3 301.5 132.2 302.5 132.3 302.8 132.7 302.5 132.7ZM391.8 144.8 391.5 145.0 381.5 145.0 376.5 143.3 373.6 141.0 371.5 140.0 369.9 138.7 368.1 137.7 368.1 137.3 371.5 136.2 391.5 136.2 396.5 137.1 396.9 137.7 396.5 140.0 395.3 142.3 391.8 144.8ZM86.5 149.4 81.5 149.0 78.1 147.7 77.9 147.3 79.1 145.7 80.0 144.0 81.5 140.0 83.3 139.3 85.8 138.8 86.4 140.0 87.2 141.2 88.2 142.0 89.2 142.4 90.5 142.6 98.5 142.7 96.5 143.3 93.8 143.8 92.4 144.3 91.5 145.0 90.3 147.3 90.0 147.7 86.5 149.4ZM242.5 169.7 241.5 170.0 240.1 167.7 240.3 167.0 241.5 165.6 246.5 166.7 247.2 167.3 247.2 167.7 246.5 168.3 242.5 169.7ZM256.5 183.1 251.5 183.1 248.8 182.3 246.5 180.0 245.3 177.7 245.4 177.3 246.5 176.7 251.5 176.2 256.5 177.1 257.0 177.3 257.3 177.7 257.3 182.3 256.5 183.1Z"/>
<path fill="#bc2224" fill-rule="evenodd" d="M36.8 23.0 36.5 23.2 34.2 23.2 34.2 22.0 36.5 22.0 37.4 22.3 37.5 22.7 36.8 23.0ZM136.8 39.8 136.5 40.0 135.5 39.0 134.3 38.3 131.4 37.3 129.1 32.7 129.8 32.3 131.5 32.0 141.5 32.0 143.2 32.3 143.9 32.7 142.7 34.7 141.5 37.4 136.8 39.8ZM227.2 39.7 226.5 40.0 221.5 40.0 217.5 39.3 211.5 38.8 210.0 37.7 209.9 37.3 210.7 36.0 211.5 35.0 213.8 34.5 219.8 34.4 221.5 33.8 222.8 32.7 222.8 32.3 226.5 32.3 231.3 37.3 231.2 37.7 227.2 39.7ZM136.8 58.7 116.5 58.0 111.5 58.1 107.7 57.7 106.7 57.3 107.8 56.4 109.2 55.8 114.4 54.0 116.3 52.7 121.5 51.9 127.5 51.6 131.8 51.2 134.5 50.7 136.5 50.0 137.9 52.0 138.7 54.3 139.4 55.7 140.2 56.6 141.2 57.3 141.1 57.7 140.2 58.0 136.8 58.7ZM326.2 90.3 301.5 90.3 301.5 87.7 300.8 86.4 299.2 85.1 296.5 84.2 291.5 85.0 290.4 85.7 289.1 87.3 289.0 90.3 266.5 90.3 266.5 87.7 268.0 85.3 269.0 82.7 269.4 82.3 271.5 81.7 273.5 82.3 274.0 82.7 275.0 85.3 276.5 87.7 278.0 85.3 279.0 82.7 279.5 82.3 281.5 81.8 306.5 81.8 310.2 81.3 313.8 80.1 315.4 79.0 316.4 77.7 316.4 77.3 315.8 76.3 314.2 74.3 311.5 72.4 311.0 70.7 310.1 69.3 308.8 68.7 306.2 68.2 306.0 68.0 306.5 67.8 307.5 67.0 308.4 65.3 308.5 63.7 308.0 62.0 308.2 61.7 311.5 61.7 316.5 61.2 321.5 61.2 325.6 62.3 326.2 62.7 325.2 63.4 324.2 64.7 323.5 66.3 323.2 67.7 323.7 69.3 324.4 70.7 325.2 71.7 326.5 72.6 327.2 74.5 328.2 75.7 329.5 76.3 331.5 76.7 341.5 77.0 344.9 77.3 345.9 77.7 341.5 79.2 338.2 79.6 335.8 80.2 332.8 81.4 329.5 83.7 327.6 85.7 326.6 87.3 326.5 90.3 326.2 90.3ZM291.8 67.4 291.7 67.3 291.8 67.4ZM221.5 87.7 216.8 87.7 216.5 87.3 216.5 82.7 221.3 77.7 221.3 77.3 220.9 77.0 219.4 76.0 216.5 75.0 215.8 74.3 214.8 73.9 212.8 73.4 206.5 73.1 201.5 73.2 198.1 73.7 194.5 74.8 192.8 75.8 191.5 77.5 190.7 75.3 190.3 72.7 190.6 72.3 191.5 71.9 198.2 71.6 200.2 71.3 201.5 70.8 206.5 70.0 207.2 70.7 208.2 71.1 211.2 71.8 226.5 71.8 230.6 72.3 231.3 72.7 226.7 77.3 226.5 77.7 226.5 82.3 224.2 83.1 222.9 84.0 222.1 85.3 221.5 87.7ZM57.8 84.7 56.5 85.0 49.5 83.8 42.8 83.1 34.2 83.1 34.2 72.5 36.5 72.5 37.0 74.0 37.8 75.1 38.8 75.8 40.5 76.3 41.8 77.8 43.2 78.4 51.2 78.5 52.5 78.3 54.5 79.4 57.2 80.2 66.5 81.5 70.5 82.3 70.4 82.7 66.5 83.5 57.8 84.7ZM156.8 82.1 155.9 82.0 154.2 80.9 151.5 80.0 150.8 79.1 150.2 78.6 149.2 78.1 147.5 77.7 147.4 77.3 151.5 76.7 161.5 76.7 165.6 77.3 166.2 77.7 161.5 80.0 158.8 80.9 156.8 82.1ZM102.5 83.4 101.5 83.5 96.5 83.3 92.4 82.7 92.5 82.3 96.5 81.8 101.5 81.7 105.8 82.3 106.0 82.7 102.5 83.4ZM417.8 90.4 389.8 90.3 389.8 82.7 390.4 82.3 391.5 82.0 395.2 82.3 396.5 82.6 401.5 82.6 406.5 81.7 417.8 81.9 417.8 90.4ZM167.5 90.3 165.9 90.3 165.9 87.3 166.5 85.8 167.4 87.0 167.8 87.7 167.8 90.3 167.5 90.3ZM276.5 87.7 276.5 88.0 276.5 87.7ZM276.5 88.0 276.5 88.3 276.5 88.0ZM132.5 90.3 116.5 90.3 116.5 88.7 116.8 88.7 117.8 89.5 119.5 90.1 132.7 90.3 132.5 90.3ZM276.5 88.3 276.5 88.7 276.5 88.3ZM276.5 88.7 276.5 89.0 276.5 88.7ZM276.5 89.0 276.5 89.3 276.5 89.0ZM276.5 89.3 276.5 89.7 276.5 89.3ZM276.5 89.7 276.5 90.0 276.5 89.7ZM276.5 90.0 276.5 90.3 276.5 90.0ZM121.2 143.0 111.5 143.3 109.3 143.0 111.2 142.8 113.1 142.0 114.2 141.0 115.0 139.3 115.1 137.3 114.5 135.7 113.2 134.3 111.8 133.6 110.5 133.4 102.5 133.3 101.5 132.5 96.5 132.5 94.5 131.1 91.5 130.0 90.1 131.0 88.2 133.8 86.5 135.0 76.5 135.0 73.8 134.1 72.1 133.0 71.5 132.5 70.9 130.3 70.2 129.1 69.2 128.3 67.4 127.7 67.8 127.3 70.5 126.5 73.6 124.7 74.3 123.7 74.8 122.7 74.8 120.0 126.5 120.0 126.5 122.3 122.5 123.2 119.5 124.2 118.3 125.3 117.6 127.0 117.5 127.7 117.9 131.0 118.2 132.7 118.7 133.7 119.8 135.0 121.5 135.8 124.0 137.7 125.0 140.3 126.3 142.3 124.9 142.7 121.2 143.0ZM216.8 123.4 216.5 123.5 208.2 122.7 206.5 122.3 206.5 120.0 219.0 120.0 219.0 122.3 218.5 122.8 216.8 123.4ZM352.5 126.4 340.0 126.3 338.5 125.6 336.5 125.0 331.5 125.0 326.8 122.7 326.5 122.3 326.5 120.0 356.5 120.0 356.5 122.3 356.3 122.7 352.5 126.4ZM256.8 154.0 256.5 154.2 256.2 154.0 254.5 152.9 254.0 152.3 253.0 149.7 251.5 147.5 249.1 142.7 248.0 139.7 246.7 137.7 246.7 137.3 251.3 132.7 266.5 132.6 268.6 134.0 271.5 135.0 272.5 136.0 273.5 136.6 276.3 137.7 271.7 142.3 271.5 142.7 271.5 147.3 266.5 147.5 261.7 152.3 256.8 154.0ZM391.5 144.2 381.5 144.2 376.5 142.4 375.5 141.1 374.6 140.3 373.2 139.7 371.5 139.2 369.3 137.7 369.4 137.3 371.5 136.7 391.5 136.7 395.4 137.3 396.3 137.7 395.0 139.7 394.0 142.3 391.5 144.2ZM86.5 148.8 81.5 148.5 79.4 147.7 79.1 147.3 80.5 145.0 81.5 142.5 83.5 141.1 86.2 140.1 87.1 141.3 88.2 142.1 89.8 142.8 91.0 143.0 89.8 145.0 89.0 147.3 88.7 147.7 86.5 148.8ZM241.8 169.1 241.5 169.2 240.6 167.7 240.6 167.3 241.5 166.2 246.0 167.3 246.0 167.7 241.8 169.1ZM256.2 182.3 251.3 182.3 246.7 177.7 247.1 177.3 247.8 177.1 251.5 176.7 255.5 177.3 256.5 177.7 256.5 182.3 256.2 182.3Z"/>
<path fill="#7f1b1e" fill-rule="evenodd" d="M36.8 22.7 36.5 22.9 34.2 22.9 34.2 22.2 36.5 22.2 36.7 22.3 36.8 22.7ZM136.5 38.8 133.9 37.3 132.9 36.0 131.5 35.0 130.3 32.7 131.5 32.2 141.5 32.2 142.6 32.7 141.5 35.0 140.2 35.9 138.7 37.7 136.5 38.8ZM226.5 38.8 221.5 38.8 211.5 38.1 210.9 37.7 210.8 37.3 211.5 36.2 214.5 35.7 216.5 35.0 226.5 35.0 228.8 37.3 228.7 37.7 226.5 38.8ZM136.8 58.1 111.5 57.8 109.3 57.3 111.5 56.2 114.2 55.8 116.2 55.2 117.8 54.1 118.9 52.7 120.4 52.3 131.8 51.9 136.5 51.2 137.2 52.3 137.9 55.7 138.8 57.3 138.5 57.7 136.8 58.1ZM323.8 90.3 304.0 90.3 303.9 87.3 302.8 85.9 300.2 84.1 298.6 83.7 296.5 83.3 291.5 83.8 289.4 84.7 288.5 85.7 287.8 87.2 287.8 90.3 279.0 90.3 279.0 87.7 279.8 85.3 280.2 82.7 281.5 82.1 307.2 82.1 313.2 81.4 314.8 81.0 315.8 80.5 317.9 79.0 318.8 77.8 318.9 77.3 318.2 76.3 316.5 75.0 315.5 73.7 313.9 72.3 312.9 71.0 311.5 70.0 310.8 68.9 309.8 68.3 307.2 67.9 306.9 67.7 307.9 66.7 308.6 65.3 308.7 63.7 308.3 62.3 308.5 62.1 321.5 61.9 323.8 62.7 322.9 64.3 322.4 67.3 322.7 69.7 323.2 71.3 324.8 73.7 326.5 75.0 326.9 75.7 327.5 76.3 328.8 76.7 330.8 77.0 341.5 77.3 343.4 77.7 341.5 78.3 337.2 78.7 334.2 79.1 332.3 79.7 330.9 80.3 329.8 81.3 329.1 82.3 327.5 83.7 326.5 85.0 325.4 85.7 324.5 86.7 324.0 87.7 324.0 90.3 323.8 90.3ZM226.5 75.0 221.5 75.0 219.5 74.3 216.5 73.8 215.5 73.3 213.8 73.0 206.5 72.8 201.5 72.9 197.5 73.2 193.5 73.9 192.4 74.3 191.5 75.0 190.9 72.7 191.5 72.2 198.2 72.1 206.5 71.2 208.2 71.8 210.8 72.1 226.5 72.1 227.9 72.3 228.8 72.7 226.5 75.0ZM57.2 83.7 56.5 83.8 43.2 82.8 34.2 82.8 34.2 75.0 36.5 75.0 37.5 76.1 38.8 76.6 40.8 77.0 41.5 77.7 42.8 78.5 49.8 78.7 51.5 80.0 54.5 80.9 58.5 81.5 66.5 82.0 68.1 82.3 68.1 82.7 66.5 83.0 57.2 83.7ZM157.2 79.7 156.5 80.0 154.5 79.3 151.5 78.8 150.8 78.2 149.6 77.7 149.9 77.3 151.5 77.1 161.5 77.1 163.1 77.3 163.7 77.7 161.5 78.8 159.2 79.1 157.2 79.7ZM221.5 85.0 220.1 84.0 219.1 82.7 219.2 82.3 221.5 80.0 222.9 81.0 223.9 82.3 222.2 83.6 221.5 85.0ZM103.2 82.7 101.5 83.0 96.5 82.9 94.9 82.7 95.1 82.3 96.5 82.1 101.5 82.1 103.1 82.3 103.3 82.7 103.2 82.7ZM273.8 90.3 269.0 90.3 269.0 87.7 269.8 85.3 270.2 82.7 270.7 82.3 271.5 82.1 272.8 82.7 273.2 85.3 274.0 87.7 274.0 90.3 273.8 90.3ZM417.8 90.4 390.7 90.3 390.7 82.7 391.5 82.3 394.1 82.7 395.1 84.0 396.5 85.0 401.5 85.0 402.9 84.0 403.9 82.7 405.0 82.3 406.5 82.1 417.8 82.2 417.8 90.4ZM166.8 90.3 166.2 90.3 166.2 87.7 166.5 86.7 167.1 87.7 167.1 90.3 166.8 90.3ZM125.5 90.3 119.0 90.3 125.8 90.3 125.5 90.3ZM122.2 142.7 112.2 142.9 112.0 142.7 113.2 142.1 114.4 141.0 115.0 140.0 115.3 139.0 115.4 137.3 115.1 136.3 114.0 134.7 112.8 133.8 111.8 133.4 110.5 133.2 106.2 133.2 104.8 133.0 103.9 132.3 102.8 130.9 101.5 130.0 96.5 130.0 94.5 129.3 91.5 128.8 90.2 129.2 89.0 130.0 88.3 131.0 87.6 132.7 86.5 133.8 76.5 133.8 74.3 132.7 72.9 131.0 71.5 130.0 71.1 129.0 70.6 128.3 69.5 127.7 69.8 127.3 71.5 126.7 73.5 126.1 74.6 125.3 75.2 124.4 75.6 123.0 75.7 120.0 124.0 120.0 124.0 122.3 119.5 123.3 118.5 123.8 117.9 124.3 117.5 125.0 117.0 127.3 117.3 132.3 118.0 134.7 118.5 135.4 119.2 135.9 121.5 136.7 122.8 137.7 123.2 140.3 123.9 142.3 122.2 142.7ZM217.2 122.8 216.5 123.0 211.5 122.8 209.0 122.3 209.0 120.0 217.8 120.0 217.8 122.3 217.2 122.8ZM351.8 124.7 351.5 125.0 341.5 125.0 339.5 124.3 336.5 123.8 331.5 123.8 329.3 122.7 329.0 122.3 329.0 120.0 354.0 120.0 354.0 122.3 351.8 124.7ZM257.2 153.1 256.5 153.3 255.2 152.3 254.8 149.7 254.1 147.7 252.9 146.0 251.5 145.0 250.2 142.3 249.8 139.7 249.1 137.7 249.2 137.3 251.5 135.0 266.5 135.0 268.5 135.7 271.5 136.2 273.8 137.7 271.5 140.0 269.8 141.2 267.9 144.0 265.2 145.9 263.8 147.7 261.5 150.0 260.1 151.0 259.1 152.3 257.2 153.1ZM391.8 143.1 391.5 143.3 381.5 143.3 378.9 142.3 377.8 140.9 375.5 139.3 373.8 138.7 371.5 138.3 370.5 137.7 370.7 137.3 371.5 137.1 391.5 137.1 393.0 137.3 393.9 137.7 393.2 139.7 392.8 142.3 391.8 143.1ZM86.5 148.1 81.5 148.0 80.7 147.7 80.4 147.3 81.5 145.0 82.9 144.0 84.3 142.3 86.5 141.2 88.5 142.6 88.9 142.7 88.2 144.7 87.8 147.3 86.5 148.1ZM242.2 168.1 241.5 168.3 241.1 167.7 241.1 167.3 241.5 166.9 243.4 167.3 243.5 167.7 242.2 168.1ZM251.8 179.8 251.5 180.0 249.2 177.7 249.8 177.3 251.5 177.1 253.9 177.7 252.9 179.0 251.8 179.8Z"/></g>
<g stroke="#7b7b7b" stroke-width="1.3" fill="none">
<rect x="33.5" y="0.9" width="384.5" height="389.40000000000003"/>
<line x1="33.5" y1="209.8" x2="418.0" y2="209.8"/>
<line x1="33.5" y1="300.2" x2="418.0" y2="300.2"/>
<line x1="60.0" y1="209.8" x2="60.0" y2="207.8"/>
<line x1="60.0" y1="0.9" x2="60.0" y2="2.9"/>
<line x1="60.0" y1="209.8" x2="60.0" y2="217.3"/>
<line x1="60.0" y1="300.2" x2="60.0" y2="292.7"/>
<line x1="60.0" y1="300.2" x2="60.0" y2="307.7"/>
<line x1="60.0" y1="390.3" x2="60.0" y2="382.8"/>
<line x1="126.3" y1="209.8" x2="126.3" y2="207.8"/>
<line x1="126.3" y1="0.9" x2="126.3" y2="2.9"/>
<line x1="126.3" y1="209.8" x2="126.3" y2="217.3"/>
<line x1="126.3" y1="300.2" x2="126.3" y2="292.7"/>
<line x1="126.3" y1="300.2" x2="126.3" y2="307.7"/>
<line x1="126.3" y1="390.3" x2="126.3" y2="382.8"/>
<line x1="192.6" y1="209.8" x2="192.6" y2="207.8"/>
<line x1="192.6" y1="0.9" x2="192.6" y2="2.9"/>
<line x1="192.6" y1="209.8" x2="192.6" y2="217.3"/>
<line x1="192.6" y1="300.2" x2="192.6" y2="292.7"/>
<line x1="192.6" y1="300.2" x2="192.6" y2="307.7"/>
<line x1="192.6" y1="390.3" x2="192.6" y2="382.8"/>
<line x1="258.9" y1="209.8" x2="258.9" y2="207.8"/>
<line x1="258.9" y1="0.9" x2="258.9" y2="2.9"/>
<line x1="258.9" y1="209.8" x2="258.9" y2="217.3"/>
<line x1="258.9" y1="300.2" x2="258.9" y2="292.7"/>
<line x1="258.9" y1="300.2" x2="258.9" y2="307.7"/>
<line x1="258.9" y1="390.3" x2="258.9" y2="382.8"/>
<line x1="325.2" y1="209.8" x2="325.2" y2="207.8"/>
<line x1="325.2" y1="0.9" x2="325.2" y2="2.9"/>
<line x1="325.2" y1="209.8" x2="325.2" y2="217.3"/>
<line x1="325.2" y1="300.2" x2="325.2" y2="292.7"/>
<line x1="325.2" y1="300.2" x2="325.2" y2="307.7"/>
<line x1="325.2" y1="390.3" x2="325.2" y2="382.8"/>
<line x1="391.5" y1="209.8" x2="391.5" y2="207.8"/>
<line x1="391.5" y1="0.9" x2="391.5" y2="2.9"/>
<line x1="391.5" y1="209.8" x2="391.5" y2="217.3"/>
<line x1="391.5" y1="300.2" x2="391.5" y2="292.7"/>
<line x1="391.5" y1="300.2" x2="391.5" y2="307.7"/>
<line x1="391.5" y1="390.3" x2="391.5" y2="382.8"/>
<line x1="33.5" y1="15.2" x2="35.5" y2="15.2"/>
<line x1="418.0" y1="15.2" x2="416.0" y2="15.2"/>
<line x1="33.5" y1="60.2" x2="35.5" y2="60.2"/>
<line x1="418.0" y1="60.2" x2="416.0" y2="60.2"/>
<line x1="33.5" y1="105.2" x2="35.5" y2="105.2"/>
<line x1="418.0" y1="105.2" x2="416.0" y2="105.2"/>
<line x1="33.5" y1="150.2" x2="35.5" y2="150.2"/>
<line x1="418.0" y1="150.2" x2="416.0" y2="150.2"/>
<line x1="33.5" y1="195.2" x2="35.5" y2="195.2"/>
<line x1="418.0" y1="195.2" x2="416.0" y2="195.2"/>
<line x1="33.5" y1="240.0" x2="41.0" y2="240.0"/>
<line x1="418.0" y1="240.0" x2="410.5" y2="240.0"/>
<line x1="33.5" y1="270.1" x2="41.0" y2="270.1"/>
<line x1="418.0" y1="270.1" x2="410.5" y2="270.1"/>
<line x1="33.5" y1="318.5" x2="41.0" y2="318.5"/>
<line x1="418.0" y1="318.5" x2="410.5" y2="318.5"/>
<line x1="33.5" y1="354.4" x2="41.0" y2="354.4"/>
<line x1="418.0" y1="354.4" x2="410.5" y2="354.4"/>
</g>
<polyline points="33.5,237.7 46.8,258.1 60.0,272.1 73.3,290.6 86.5,278.6 99.8,247.0 113.1,252.9 126.3,241.7 139.6,228.8 152.8,265.7 166.1,267.7 179.3,247.0 192.6,238.1 205.9,241.1 219.1,226.1 232.4,239.9 245.6,275.8 258.9,260.4 272.2,246.2 285.4,245.6 298.7,255.9 311.9,235.7 325.2,241.7 338.4,273.3 351.7,274.7 365.0,280.8 378.2,281.8 391.5,266.8 404.7,257.1 418.0,270.7" fill="none" stroke="#3346a2" stroke-width="1.6" stroke-linejoin="round"/>
<circle cx="33.5" cy="237.7" r="3.1" fill="none" stroke="#3346a2" stroke-width="1.4"/>
<circle cx="46.8" cy="258.1" r="3.1" fill="none" stroke="#3346a2" stroke-width="1.4"/>
<circle cx="60.0" cy="272.1" r="3.1" fill="none" stroke="#3346a2" stroke-width="1.4"/>
<circle cx="73.3" cy="290.6" r="3.1" fill="none" stroke="#3346a2" stroke-width="1.4"/>
<circle cx="86.5" cy="278.6" r="3.1" fill="none" stroke="#3346a2" stroke-width="1.4"/>
<circle cx="99.8" cy="247.0" r="3.1" fill="none" stroke="#3346a2" stroke-width="1.4"/>
<circle cx="113.1" cy="252.9" r="3.1" fill="none" stroke="#3346a2" stroke-width="1.4"/>
<circle cx="126.3" cy="241.7" r="3.1" fill="none" stroke="#3346a2" stroke-width="1.4"/>
<circle cx="139.6" cy="228.8" r="3.1" fill="none" stroke="#3346a2" stroke-width="1.4"/>
<circle cx="152.8" cy="265.7" r="3.1" fill="none" stroke="#3346a2" stroke-width="1.4"/>
<circle cx="166.1" cy="267.7" r="3.1" fill="none" stroke="#3346a2" stroke-width="1.4"/>
<circle cx="179.3" cy="247.0" r="3.1" fill="none" stroke="#3346a2" stroke-width="1.4"/>
<circle cx="192.6" cy="238.1" r="3.1" fill="none" stroke="#3346a2" stroke-width="1.4"/>
<circle cx="205.9" cy="241.1" r="3.1" fill="none" stroke="#3346a2" stroke-width="1.4"/>
<circle cx="219.1" cy="226.1" r="3.1" fill="none" stroke="#3346a2" stroke-width="1.4"/>
<circle cx="232.4" cy="239.9" r="3.1" fill="none" stroke="#3346a2" stroke-width="1.4"/>
<circle cx="245.6" cy="275.8" r="3.1" fill="none" stroke="#3346a2" stroke-width="1.4"/>
<circle cx="258.9" cy="260.4" r="3.1" fill="none" stroke="#3346a2" stroke-width="1.4"/>
<circle cx="272.2" cy="246.2" r="3.1" fill="none" stroke="#3346a2" stroke-width="1.4"/>
<circle cx="285.4" cy="245.6" r="3.1" fill="none" stroke="#3346a2" stroke-width="1.4"/>
<circle cx="298.7" cy="255.9" r="3.1" fill="none" stroke="#3346a2" stroke-width="1.4"/>
<circle cx="311.9" cy="235.7" r="3.1" fill="none" stroke="#3346a2" stroke-width="1.4"/>
<circle cx="325.2" cy="241.7" r="3.1" fill="none" stroke="#3346a2" stroke-width="1.4"/>
<circle cx="338.4" cy="273.3" r="3.1" fill="none" stroke="#3346a2" stroke-width="1.4"/>
<circle cx="351.7" cy="274.7" r="3.1" fill="none" stroke="#3346a2" stroke-width="1.4"/>
<circle cx="365.0" cy="280.8" r="3.1" fill="none" stroke="#3346a2" stroke-width="1.4"/>
<circle cx="378.2" cy="281.8" r="3.1" fill="none" stroke="#3346a2" stroke-width="1.4"/>
<circle cx="391.5" cy="266.8" r="3.1" fill="none" stroke="#3346a2" stroke-width="1.4"/>
<circle cx="404.7" cy="257.1" r="3.1" fill="none" stroke="#3346a2" stroke-width="1.4"/>
<circle cx="418.0" cy="270.7" r="3.1" fill="none" stroke="#3346a2" stroke-width="1.4"/>
<polyline points="33.5,364.9 46.8,372.8 60.0,377.7 73.3,347.7 86.5,321.2 99.8,349.0 113.1,346.1 126.3,354.0 139.6,367.8 152.8,368.6 166.1,369.2 179.3,377.5 192.6,373.2 205.9,368.2 219.1,364.3 232.4,355.0 245.6,334.6 258.9,317.2 272.2,347.5 285.4,368.2 298.7,361.5 311.9,364.3 325.2,364.3 338.4,358.3 351.7,356.8 365.0,359.3 378.2,342.0 391.5,349.4 404.7,364.7 418.0,357.0" fill="none" stroke="#d0191f" stroke-width="1.6" stroke-linejoin="round"/>
<circle cx="33.5" cy="364.9" r="3.1" fill="none" stroke="#d0191f" stroke-width="1.4"/>
<circle cx="46.8" cy="372.8" r="3.1" fill="none" stroke="#d0191f" stroke-width="1.4"/>
<circle cx="60.0" cy="377.7" r="3.1" fill="none" stroke="#d0191f" stroke-width="1.4"/>
<circle cx="73.3" cy="347.7" r="3.1" fill="none" stroke="#d0191f" stroke-width="1.4"/>
<circle cx="86.5" cy="321.2" r="3.1" fill="none" stroke="#d0191f" stroke-width="1.4"/>
<circle cx="99.8" cy="349.0" r="3.1" fill="none" stroke="#d0191f" stroke-width="1.4"/>
<circle cx="113.1" cy="346.1" r="3.1" fill="none" stroke="#d0191f" stroke-width="1.4"/>
<circle cx="126.3" cy="354.0" r="3.1" fill="none" stroke="#d0191f" stroke-width="1.4"/>
<circle cx="139.6" cy="367.8" r="3.1" fill="none" stroke="#d0191f" stroke-width="1.4"/>
<circle cx="152.8" cy="368.6" r="3.1" fill="none" stroke="#d0191f" stroke-width="1.4"/>
<circle cx="166.1" cy="369.2" r="3.1" fill="none" stroke="#d0191f" stroke-width="1.4"/>
<circle cx="179.3" cy="377.5" r="3.1" fill="none" stroke="#d0191f" stroke-width="1.4"/>
<circle cx="192.6" cy="373.2" r="3.1" fill="none" stroke="#d0191f" stroke-width="1.4"/>
<circle cx="205.9" cy="368.2" r="3.1" fill="none" stroke="#d0191f" stroke-width="1.4"/>
<circle cx="219.1" cy="364.3" r="3.1" fill="none" stroke="#d0191f" stroke-width="1.4"/>
<circle cx="232.4" cy="355.0" r="3.1" fill="none" stroke="#d0191f" stroke-width="1.4"/>
<circle cx="245.6" cy="334.6" r="3.1" fill="none" stroke="#d0191f" stroke-width="1.4"/>
<circle cx="258.9" cy="317.2" r="3.1" fill="none" stroke="#d0191f" stroke-width="1.4"/>
<circle cx="272.2" cy="347.5" r="3.1" fill="none" stroke="#d0191f" stroke-width="1.4"/>
<circle cx="285.4" cy="368.2" r="3.1" fill="none" stroke="#d0191f" stroke-width="1.4"/>
<circle cx="298.7" cy="361.5" r="3.1" fill="none" stroke="#d0191f" stroke-width="1.4"/>
<circle cx="311.9" cy="364.3" r="3.1" fill="none" stroke="#d0191f" stroke-width="1.4"/>
<circle cx="325.2" cy="364.3" r="3.1" fill="none" stroke="#d0191f" stroke-width="1.4"/>
<circle cx="338.4" cy="358.3" r="3.1" fill="none" stroke="#d0191f" stroke-width="1.4"/>
<circle cx="351.7" cy="356.8" r="3.1" fill="none" stroke="#d0191f" stroke-width="1.4"/>
<circle cx="365.0" cy="359.3" r="3.1" fill="none" stroke="#d0191f" stroke-width="1.4"/>
<circle cx="378.2" cy="342.0" r="3.1" fill="none" stroke="#d0191f" stroke-width="1.4"/>
<circle cx="391.5" cy="349.4" r="3.1" fill="none" stroke="#d0191f" stroke-width="1.4"/>
<circle cx="404.7" cy="364.7" r="3.1" fill="none" stroke="#d0191f" stroke-width="1.4"/>
<circle cx="418.0" cy="357.0" r="3.1" fill="none" stroke="#d0191f" stroke-width="1.4"/>
<text transform="translate(29.8 20.000000000000004) scale(0.95 1)" font-size="13.3" text-anchor="end" fill="#111" font-family="Liberation Serif, serif" stroke-width="0.14"  stroke="#111">600</text>
<text transform="translate(29.8 65.0) scale(0.95 1)" font-size="13.3" text-anchor="end" fill="#111" font-family="Liberation Serif, serif" stroke-width="0.14"  stroke="#111">300</text>
<text transform="translate(29.8 110.0) scale(0.95 1)" font-size="13.3" text-anchor="end" fill="#111" font-family="Liberation Serif, serif" stroke-width="0.14"  stroke="#111">0</text>
<text transform="translate(29.8 155.0) scale(0.95 1)" font-size="13.3" text-anchor="end" fill="#111" font-family="Liberation Serif, serif" stroke-width="0.14"  stroke="#111">-300</text>
<text transform="translate(29.8 200.0) scale(0.95 1)" font-size="13.3" text-anchor="end" fill="#111" font-family="Liberation Serif, serif" stroke-width="0.14"  stroke="#111">-600</text>
<text transform="translate(29.8 244.8) scale(0.95 1)" font-size="13.3" text-anchor="end" fill="#111" font-family="Liberation Serif, serif" stroke-width="0.14"  stroke="#111">3</text>
<text transform="translate(29.8 274.9) scale(0.95 1)" font-size="13.3" text-anchor="end" fill="#111" font-family="Liberation Serif, serif" stroke-width="0.14"  stroke="#111">2</text>
<text transform="translate(29.8 305.0) scale(0.95 1)" font-size="13.3" text-anchor="end" fill="#111" font-family="Liberation Serif, serif" stroke-width="0.14"  stroke="#111">1</text>
<text transform="translate(29.8 323.3) scale(0.95 1)" font-size="13.3" text-anchor="end" fill="#111" font-family="Liberation Serif, serif" stroke-width="0.14"  stroke="#111">4</text>
<text transform="translate(29.8 359.20000000000005) scale(0.95 1)" font-size="13.3" text-anchor="end" fill="#111" font-family="Liberation Serif, serif" stroke-width="0.14"  stroke="#111">2</text>
<text transform="translate(29.8 395.1) scale(0.95 1)" font-size="13.3" text-anchor="end" fill="#111" font-family="Liberation Serif, serif" stroke-width="0.14"  stroke="#111">0</text>
<text transform="translate(60.0 405.5) scale(0.95 1)" font-size="13.2" text-anchor="middle" fill="#111" font-family="Liberation Serif, serif" stroke-width="0.14"  stroke="#111">2852.6</text>
<text transform="translate(126.3 405.5) scale(0.95 1)" font-size="13.2" text-anchor="middle" fill="#111" font-family="Liberation Serif, serif" stroke-width="0.14"  stroke="#111">2852.65</text>
<text transform="translate(192.6 405.5) scale(0.95 1)" font-size="13.2" text-anchor="middle" fill="#111" font-family="Liberation Serif, serif" stroke-width="0.14"  stroke="#111">2852.7</text>
<text transform="translate(258.9 405.5) scale(0.95 1)" font-size="13.2" text-anchor="middle" fill="#111" font-family="Liberation Serif, serif" stroke-width="0.14"  stroke="#111">2852.75</text>
<text transform="translate(325.2 405.5) scale(0.95 1)" font-size="13.2" text-anchor="middle" fill="#111" font-family="Liberation Serif, serif" stroke-width="0.14"  stroke="#111">2852.8</text>
<text transform="translate(391.5 405.5) scale(0.95 1)" font-size="13.2" text-anchor="middle" fill="#111" font-family="Liberation Serif, serif" stroke-width="0.14"  stroke="#111">2852.85</text>
<text x="227.3" y="426.2" font-size="14.5" text-anchor="middle" fill="#111" font-family="Liberation Serif, serif" stroke-width="0.14"  stroke="#111">Time (ms)</text>
<text x="49.5" y="16.3" font-size="14.5" text-anchor="start" fill="#111" font-family="Liberation Serif, serif" stroke-width="0.14"  stroke="#111">(a)</text>
<text x="49.5" y="227.1" font-size="14.5" text-anchor="start" fill="#111" font-family="Liberation Serif, serif" stroke-width="0.14"  stroke="#111">(b)</text>
<text x="49.3" y="317.5" font-size="14.5" text-anchor="start" fill="#111" font-family="Liberation Serif, serif" stroke-width="0.14"  stroke="#111">(c)</text>
<text x="328.3" y="20" font-size="14.2" text-anchor="start" fill="#111" font-family="Liberation Serif, serif" stroke-width="0.14"  stroke="#111">EAST #94297</text>
<text transform="translate(246.0 232.3) scale(0.92 1)" font-size="14.4" text-anchor="start" fill="#3346a2" font-family="Liberation Serif, serif" stroke-width="0.14"  stroke="#3346a2">IT (a.u.)</text>
<text transform="translate(114.8 324.9) scale(0.92 1)" font-size="14.4" text-anchor="start" fill="#d0191f" font-family="Liberation Serif, serif" stroke-width="0.14"  stroke="#d0191f">ET (a.u.)</text>
<text transform="translate(11.6,104.0) rotate(-90) scale(1.15 1)" font-size="13.4" text-anchor="middle" fill="#111" stroke="#111" font-family="Liberation Serif, serif" stroke-width="0.14"><tspan font-style="italic">f</tspan><tspan dx="1.2">(kHz)</tspan></text></svg>
</body></html>
